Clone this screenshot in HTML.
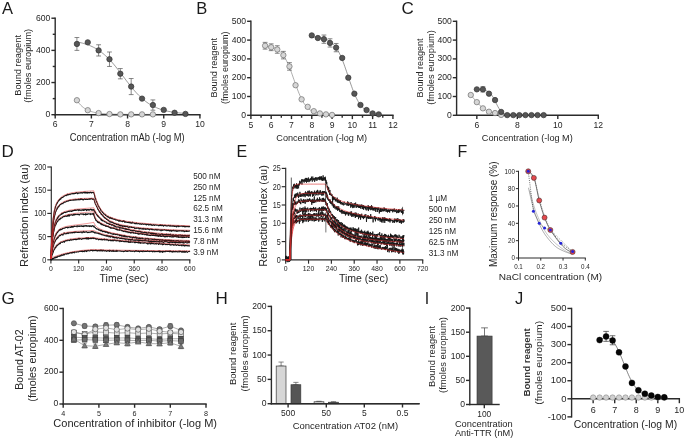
<!DOCTYPE html>
<html><head><meta charset="utf-8"><style>
html,body{margin:0;padding:0;background:#fff;width:685px;height:441px;overflow:hidden}
svg{display:block;font-family:"Liberation Sans", sans-serif;filter:blur(0.3px)}
</style></head><body>
<svg width="685" height="441" viewBox="0 0 685 441">
<rect width="685" height="441" fill="#fff"/>
<text x="2" y="13.6" font-size="16.5" text-anchor="start" fill="#1a1a1a">A</text>
<line x1="55.2" y1="17.52" x2="55.2" y2="115.4" stroke="#2b2b2b" stroke-width="1.4"/>
<line x1="51.4" y1="114.7" x2="55.2" y2="114.7" stroke="#2b2b2b" stroke-width="1.4"/>
<text x="50.4" y="117.28" font-size="8.6" text-anchor="end" fill="#262626">0</text>
<line x1="51.4" y1="82.54" x2="55.2" y2="82.54" stroke="#2b2b2b" stroke-width="1.4"/>
<text x="50.4" y="85.12" font-size="8.6" text-anchor="end" fill="#262626">200</text>
<line x1="51.4" y1="50.38" x2="55.2" y2="50.38" stroke="#2b2b2b" stroke-width="1.4"/>
<text x="50.4" y="52.96" font-size="8.6" text-anchor="end" fill="#262626">400</text>
<line x1="51.4" y1="18.22" x2="55.2" y2="18.22" stroke="#2b2b2b" stroke-width="1.4"/>
<text x="50.4" y="20.8" font-size="8.6" text-anchor="end" fill="#262626">600</text>
<line x1="52.73" y1="98.62" x2="55.2" y2="98.62" stroke="#2b2b2b" stroke-width="1.4"/>
<line x1="52.73" y1="66.46" x2="55.2" y2="66.46" stroke="#2b2b2b" stroke-width="1.4"/>
<line x1="52.73" y1="34.3" x2="55.2" y2="34.3" stroke="#2b2b2b" stroke-width="1.4"/>
<line x1="54.5" y1="114.7" x2="200.62" y2="114.7" stroke="#2b2b2b" stroke-width="1.4"/>
<line x1="55.2" y1="114.7" x2="55.2" y2="118.5" stroke="#2b2b2b" stroke-width="1.4"/>
<text x="55.2" y="127.2" font-size="8.6" text-anchor="middle" fill="#262626">6</text>
<line x1="91.38" y1="114.7" x2="91.38" y2="118.5" stroke="#2b2b2b" stroke-width="1.4"/>
<text x="91.38" y="127.2" font-size="8.6" text-anchor="middle" fill="#262626">7</text>
<line x1="127.56" y1="114.7" x2="127.56" y2="118.5" stroke="#2b2b2b" stroke-width="1.4"/>
<text x="127.56" y="127.2" font-size="8.6" text-anchor="middle" fill="#262626">8</text>
<line x1="163.74" y1="114.7" x2="163.74" y2="118.5" stroke="#2b2b2b" stroke-width="1.4"/>
<text x="163.74" y="127.2" font-size="8.6" text-anchor="middle" fill="#262626">9</text>
<line x1="199.92" y1="114.7" x2="199.92" y2="118.5" stroke="#2b2b2b" stroke-width="1.4"/>
<text x="199.92" y="127.2" font-size="8.6" text-anchor="middle" fill="#262626">10</text>
<text x="127.3" y="140.6" font-size="10.2" text-anchor="middle" fill="#262626" textLength="114.9" lengthAdjust="spacingAndGlyphs">Concentration mAb (-log M)</text>
<text x="21" y="65.4" font-size="8.8" text-anchor="middle" fill="#262626" textLength="60.7" lengthAdjust="spacingAndGlyphs" transform="rotate(-90 21 65.4)">Bound reagent</text>
<text x="31" y="65.8" font-size="8.8" text-anchor="middle" fill="#262626" textLength="73.8" lengthAdjust="spacingAndGlyphs" transform="rotate(-90 31 65.8)">(fmoles europium)</text>
<polyline points="76.91,100.23 78.2,102.12 79.48,103.77 80.77,105.19 82.06,106.42 83.35,107.49 84.63,108.41 85.92,109.21 87.21,109.91 88.5,110.51 89.79,111.03 91.07,111.48 92.36,111.87 93.65,112.21 94.94,112.51 96.22,112.76 97.51,112.98 98.8,113.17 100.09,113.34 101.38,113.48 102.66,113.61 103.95,113.72 105.24,113.81 106.53,113.89 107.81,113.96 109.1,114.02 110.39,114.07 111.68,114.12 112.97,114.16 114.25,114.19 115.54,114.22 116.83,114.25 118.12,114.27 119.4,114.29 120.69,114.31 121.98,114.32 123.27,114.33 124.56,114.34 125.84,114.35 127.13,114.36 128.42,114.37 129.71,114.37 130.99,114.38 132.28,114.38 133.57,114.39 134.86,114.39 136.15,114.39 137.43,114.4 138.72,114.4 140.01,114.4 141.3,114.4 142.58,114.4 143.87,114.41 145.16,114.41 146.45,114.41 147.73,114.41 149.02,114.41 150.31,114.41 151.6,114.41 152.89,114.41" fill="none" stroke="#777" stroke-width="0.6" stroke-linejoin="round"/>
<polyline points="76.91,41.92 78.28,42.18 79.66,42.47 81.03,42.78 82.4,43.12 83.78,43.5 85.15,43.91 86.53,44.35 87.9,44.83 89.27,45.36 90.65,45.93 92.02,46.55 93.4,47.21 94.77,47.94 96.14,48.71 97.52,49.55 98.89,50.44 100.26,51.4 101.64,52.43 103.01,53.52 104.39,54.68 105.76,55.91 107.13,57.2 108.51,58.57 109.88,60 111.26,61.49 112.63,63.04 114,64.65 115.38,66.31 116.75,68.02 118.13,69.76 119.5,71.54 120.87,73.34 122.25,75.16 123.62,76.99 125,78.81 126.37,80.63 127.74,82.42 129.12,84.19 130.49,85.93 131.86,87.63 133.24,89.28 134.61,90.88 135.99,92.42 137.36,93.89 138.73,95.31 140.11,96.66 141.48,97.94 142.86,99.15 144.23,100.29 145.6,101.37 146.98,102.38 148.35,103.33 149.73,104.21 151.1,105.03 152.47,105.79 153.85,106.5 155.22,107.16 156.6,107.76 157.97,108.32 159.34,108.84 160.72,109.31 162.09,109.75 163.47,110.15 164.84,110.52 166.21,110.85 167.59,111.16 168.96,111.44 170.33,111.7 171.71,111.94 173.08,112.15 174.46,112.35 175.83,112.53 177.2,112.69 178.58,112.84 179.95,112.97 181.33,113.1 182.7,113.21 184.07,113.31 185.45,113.4" fill="none" stroke="#555" stroke-width="0.6" stroke-linejoin="round"/>
<line x1="76.91" y1="37.52" x2="76.91" y2="50.38" stroke="#555" stroke-width="0.7"/>
<line x1="74.51" y1="37.52" x2="79.31" y2="37.52" stroke="#555" stroke-width="0.7"/>
<line x1="74.51" y1="50.38" x2="79.31" y2="50.38" stroke="#555" stroke-width="0.7"/>
<line x1="98.62" y1="44.75" x2="98.62" y2="56.01" stroke="#555" stroke-width="0.7"/>
<line x1="96.22" y1="44.75" x2="101.02" y2="44.75" stroke="#555" stroke-width="0.7"/>
<line x1="96.22" y1="56.01" x2="101.02" y2="56.01" stroke="#555" stroke-width="0.7"/>
<line x1="109.47" y1="51.99" x2="109.47" y2="66.46" stroke="#555" stroke-width="0.7"/>
<line x1="107.07" y1="51.99" x2="111.87" y2="51.99" stroke="#555" stroke-width="0.7"/>
<line x1="107.07" y1="66.46" x2="111.87" y2="66.46" stroke="#555" stroke-width="0.7"/>
<line x1="120.32" y1="68.55" x2="120.32" y2="78.84" stroke="#555" stroke-width="0.7"/>
<line x1="117.92" y1="68.55" x2="122.72" y2="68.55" stroke="#555" stroke-width="0.7"/>
<line x1="117.92" y1="78.84" x2="122.72" y2="78.84" stroke="#555" stroke-width="0.7"/>
<line x1="131.18" y1="78.52" x2="131.18" y2="94.6" stroke="#555" stroke-width="0.7"/>
<line x1="128.78" y1="78.52" x2="133.58" y2="78.52" stroke="#555" stroke-width="0.7"/>
<line x1="128.78" y1="94.6" x2="133.58" y2="94.6" stroke="#555" stroke-width="0.7"/>
<line x1="152.89" y1="99.91" x2="152.89" y2="110.2" stroke="#555" stroke-width="0.7"/>
<line x1="150.49" y1="99.91" x2="155.29" y2="99.91" stroke="#555" stroke-width="0.7"/>
<line x1="150.49" y1="110.2" x2="155.29" y2="110.2" stroke="#555" stroke-width="0.7"/>
<circle cx="76.91" cy="100.23" r="2.7" fill="#d6d6d6" stroke="#6e6e6e" stroke-width="0.7"/>
<circle cx="87.76" cy="110.2" r="2.7" fill="#d6d6d6" stroke="#6e6e6e" stroke-width="0.7"/>
<circle cx="98.62" cy="113.09" r="2.7" fill="#d6d6d6" stroke="#6e6e6e" stroke-width="0.7"/>
<circle cx="109.47" cy="114.06" r="2.7" fill="#d6d6d6" stroke="#6e6e6e" stroke-width="0.7"/>
<circle cx="120.32" cy="114.38" r="2.7" fill="#d6d6d6" stroke="#6e6e6e" stroke-width="0.7"/>
<circle cx="131.18" cy="114.38" r="2.7" fill="#d6d6d6" stroke="#6e6e6e" stroke-width="0.7"/>
<circle cx="142.03" cy="114.38" r="2.7" fill="#d6d6d6" stroke="#6e6e6e" stroke-width="0.7"/>
<circle cx="152.89" cy="114.38" r="2.7" fill="#d6d6d6" stroke="#6e6e6e" stroke-width="0.7"/>
<circle cx="76.91" cy="43.95" r="2.7" fill="#565656" stroke="#333333" stroke-width="0.7"/>
<circle cx="87.76" cy="42.34" r="2.7" fill="#565656" stroke="#333333" stroke-width="0.7"/>
<circle cx="98.62" cy="50.38" r="2.7" fill="#565656" stroke="#333333" stroke-width="0.7"/>
<circle cx="109.47" cy="59.22" r="2.7" fill="#565656" stroke="#333333" stroke-width="0.7"/>
<circle cx="120.32" cy="73.7" r="2.7" fill="#565656" stroke="#333333" stroke-width="0.7"/>
<circle cx="131.18" cy="86.56" r="2.7" fill="#565656" stroke="#333333" stroke-width="0.7"/>
<circle cx="142.03" cy="98.62" r="2.7" fill="#565656" stroke="#333333" stroke-width="0.7"/>
<circle cx="152.89" cy="105.05" r="2.7" fill="#565656" stroke="#333333" stroke-width="0.7"/>
<circle cx="163.74" cy="109.88" r="2.7" fill="#565656" stroke="#333333" stroke-width="0.7"/>
<circle cx="174.59" cy="112.77" r="2.7" fill="#565656" stroke="#333333" stroke-width="0.7"/>
<circle cx="185.45" cy="113.9" r="2.7" fill="#565656" stroke="#333333" stroke-width="0.7"/>
<text x="196.3" y="13.6" font-size="16.5" text-anchor="start" fill="#1a1a1a">B</text>
<line x1="250.9" y1="20.6" x2="250.9" y2="116" stroke="#2b2b2b" stroke-width="1.4"/>
<line x1="247.1" y1="115.3" x2="250.9" y2="115.3" stroke="#2b2b2b" stroke-width="1.4"/>
<text x="246.1" y="117.88" font-size="8.6" text-anchor="end" fill="#262626">0</text>
<line x1="247.1" y1="96.5" x2="250.9" y2="96.5" stroke="#2b2b2b" stroke-width="1.4"/>
<text x="246.1" y="99.08" font-size="8.6" text-anchor="end" fill="#262626">100</text>
<line x1="247.1" y1="77.7" x2="250.9" y2="77.7" stroke="#2b2b2b" stroke-width="1.4"/>
<text x="246.1" y="80.28" font-size="8.6" text-anchor="end" fill="#262626">200</text>
<line x1="247.1" y1="58.9" x2="250.9" y2="58.9" stroke="#2b2b2b" stroke-width="1.4"/>
<text x="246.1" y="61.48" font-size="8.6" text-anchor="end" fill="#262626">300</text>
<line x1="247.1" y1="40.1" x2="250.9" y2="40.1" stroke="#2b2b2b" stroke-width="1.4"/>
<text x="246.1" y="42.68" font-size="8.6" text-anchor="end" fill="#262626">400</text>
<line x1="247.1" y1="21.3" x2="250.9" y2="21.3" stroke="#2b2b2b" stroke-width="1.4"/>
<text x="246.1" y="23.88" font-size="8.6" text-anchor="end" fill="#262626">500</text>
<line x1="250.2" y1="115.3" x2="393.63" y2="115.3" stroke="#2b2b2b" stroke-width="1.4"/>
<line x1="250.9" y1="115.3" x2="250.9" y2="119.1" stroke="#2b2b2b" stroke-width="1.4"/>
<text x="250.9" y="127.5" font-size="8.6" text-anchor="middle" fill="#262626">5</text>
<line x1="271.19" y1="115.3" x2="271.19" y2="119.1" stroke="#2b2b2b" stroke-width="1.4"/>
<text x="271.19" y="127.5" font-size="8.6" text-anchor="middle" fill="#262626">6</text>
<line x1="291.48" y1="115.3" x2="291.48" y2="119.1" stroke="#2b2b2b" stroke-width="1.4"/>
<text x="291.48" y="127.5" font-size="8.6" text-anchor="middle" fill="#262626">7</text>
<line x1="311.77" y1="115.3" x2="311.77" y2="119.1" stroke="#2b2b2b" stroke-width="1.4"/>
<text x="311.77" y="127.5" font-size="8.6" text-anchor="middle" fill="#262626">8</text>
<line x1="332.06" y1="115.3" x2="332.06" y2="119.1" stroke="#2b2b2b" stroke-width="1.4"/>
<text x="332.06" y="127.5" font-size="8.6" text-anchor="middle" fill="#262626">9</text>
<line x1="352.35" y1="115.3" x2="352.35" y2="119.1" stroke="#2b2b2b" stroke-width="1.4"/>
<text x="352.35" y="127.5" font-size="8.6" text-anchor="middle" fill="#262626">10</text>
<line x1="372.64" y1="115.3" x2="372.64" y2="119.1" stroke="#2b2b2b" stroke-width="1.4"/>
<text x="372.64" y="127.5" font-size="8.6" text-anchor="middle" fill="#262626">11</text>
<line x1="392.93" y1="115.3" x2="392.93" y2="119.1" stroke="#2b2b2b" stroke-width="1.4"/>
<text x="392.93" y="127.5" font-size="8.6" text-anchor="middle" fill="#262626">12</text>
<line x1="261.05" y1="115.3" x2="261.05" y2="117.77" stroke="#2b2b2b" stroke-width="1.4"/>
<line x1="281.33" y1="115.3" x2="281.33" y2="117.77" stroke="#2b2b2b" stroke-width="1.4"/>
<line x1="301.62" y1="115.3" x2="301.62" y2="117.77" stroke="#2b2b2b" stroke-width="1.4"/>
<line x1="321.92" y1="115.3" x2="321.92" y2="117.77" stroke="#2b2b2b" stroke-width="1.4"/>
<line x1="342.2" y1="115.3" x2="342.2" y2="117.77" stroke="#2b2b2b" stroke-width="1.4"/>
<line x1="362.5" y1="115.3" x2="362.5" y2="117.77" stroke="#2b2b2b" stroke-width="1.4"/>
<line x1="382.78" y1="115.3" x2="382.78" y2="117.77" stroke="#2b2b2b" stroke-width="1.4"/>
<text x="321.7" y="140.8" font-size="9.1" text-anchor="middle" fill="#262626" textLength="90.8" lengthAdjust="spacingAndGlyphs">Concentration (-log M)</text>
<text x="217.4" y="67.75" font-size="8.8" text-anchor="middle" fill="#262626" textLength="59.5" lengthAdjust="spacingAndGlyphs" transform="rotate(-90 217.4 67.75)">Bound reagent</text>
<text x="227.6" y="67.85" font-size="8.8" text-anchor="middle" fill="#262626" textLength="72.5" lengthAdjust="spacingAndGlyphs" transform="rotate(-90 227.6 67.85)">(fmoles europium)</text>
<polyline points="265.1,45.9 265.95,45.98 266.8,46.08 267.65,46.19 268.49,46.31 269.34,46.46 270.19,46.63 271.04,46.82 271.88,47.03 272.73,47.28 273.58,47.57 274.43,47.89 275.27,48.26 276.12,48.68 276.97,49.16 277.82,49.7 278.66,50.32 279.51,51.01 280.36,51.78 281.21,52.66 282.05,53.63 282.9,54.71 283.75,55.91 284.6,57.24 285.44,58.69 286.29,60.27 287.14,61.98 287.99,63.83 288.83,65.79 289.68,67.88 290.53,70.06 291.38,72.34 292.22,74.68 293.07,77.08 293.92,79.5 294.77,81.93 295.62,84.33 296.46,86.7 297.31,88.99 298.16,91.21 299.01,93.32 299.85,95.32 300.7,97.19 301.55,98.94 302.4,100.56 303.24,102.05 304.09,103.41 304.94,104.64 305.79,105.75 306.63,106.76 307.48,107.66 308.33,108.46 309.18,109.17 310.02,109.81 310.87,110.37 311.72,110.86 312.57,111.3 313.41,111.68 314.26,112.02 315.11,112.31 315.96,112.57 316.8,112.8 317.65,112.99 318.5,113.17 319.35,113.32 320.19,113.45 321.04,113.56 321.89,113.66 322.74,113.75 323.58,113.83 324.43,113.89 325.28,113.95 326.13,114 326.97,114.04 327.82,114.08 328.67,114.11 329.52,114.14 330.36,114.17 331.21,114.19 332.06,114.21" fill="none" stroke="#777" stroke-width="0.6" stroke-linejoin="round"/>
<polyline points="311.77,37.1 312.62,37.14 313.47,37.18 314.31,37.24 315.16,37.3 316.01,37.37 316.86,37.44 317.7,37.53 318.55,37.63 319.4,37.75 320.25,37.88 321.09,38.03 321.94,38.19 322.79,38.38 323.64,38.6 324.48,38.84 325.33,39.12 326.18,39.43 327.03,39.78 327.87,40.18 328.72,40.63 329.57,41.13 330.42,41.7 331.26,42.33 332.11,43.04 332.96,43.83 333.81,44.71 334.65,45.69 335.5,46.77 336.35,47.96 337.2,49.27 338.04,50.69 338.89,52.25 339.74,53.92 340.59,55.73 341.43,57.66 342.28,59.72 343.13,61.88 343.98,64.15 344.82,66.51 345.67,68.95 346.52,71.44 347.37,73.97 348.21,76.51 349.06,79.05 349.91,81.56 350.76,84.03 351.61,86.42 352.45,88.74 353.3,90.96 354.15,93.07 355,95.06 355.84,96.93 356.69,98.67 357.54,100.28 358.39,101.77 359.23,103.13 360.08,104.38 360.93,105.51 361.78,106.54 362.62,107.46 363.47,108.29 364.32,109.04 365.17,109.71 366.01,110.31 366.86,110.84 367.71,111.32 368.56,111.74 369.4,112.11 370.25,112.44 371.1,112.74 371.95,113 372.79,113.22 373.64,113.43 374.49,113.6 375.34,113.76 376.18,113.9 377.03,114.02 377.88,114.13 378.73,114.22" fill="none" stroke="#555" stroke-width="0.6" stroke-linejoin="round"/>
<line x1="265.1" y1="42.36" x2="265.1" y2="49.12" stroke="#555" stroke-width="0.7"/>
<line x1="262.7" y1="42.36" x2="267.5" y2="42.36" stroke="#555" stroke-width="0.7"/>
<line x1="262.7" y1="49.12" x2="267.5" y2="49.12" stroke="#555" stroke-width="0.7"/>
<line x1="271.19" y1="43.86" x2="271.19" y2="50.63" stroke="#555" stroke-width="0.7"/>
<line x1="268.79" y1="43.86" x2="273.59" y2="43.86" stroke="#555" stroke-width="0.7"/>
<line x1="268.79" y1="50.63" x2="273.59" y2="50.63" stroke="#555" stroke-width="0.7"/>
<line x1="277.28" y1="45.74" x2="277.28" y2="53.26" stroke="#555" stroke-width="0.7"/>
<line x1="274.88" y1="45.74" x2="279.68" y2="45.74" stroke="#555" stroke-width="0.7"/>
<line x1="274.88" y1="53.26" x2="279.68" y2="53.26" stroke="#555" stroke-width="0.7"/>
<line x1="283.36" y1="51.38" x2="283.36" y2="58.9" stroke="#555" stroke-width="0.7"/>
<line x1="280.96" y1="51.38" x2="285.76" y2="51.38" stroke="#555" stroke-width="0.7"/>
<line x1="280.96" y1="58.9" x2="285.76" y2="58.9" stroke="#555" stroke-width="0.7"/>
<line x1="289.45" y1="62.66" x2="289.45" y2="70.18" stroke="#555" stroke-width="0.7"/>
<line x1="287.05" y1="62.66" x2="291.85" y2="62.66" stroke="#555" stroke-width="0.7"/>
<line x1="287.05" y1="70.18" x2="291.85" y2="70.18" stroke="#555" stroke-width="0.7"/>
<line x1="323.94" y1="35.02" x2="323.94" y2="43.3" stroke="#555" stroke-width="0.7"/>
<line x1="321.54" y1="35.02" x2="326.34" y2="35.02" stroke="#555" stroke-width="0.7"/>
<line x1="321.54" y1="43.3" x2="326.34" y2="43.3" stroke="#555" stroke-width="0.7"/>
<line x1="330.03" y1="38.78" x2="330.03" y2="47.06" stroke="#555" stroke-width="0.7"/>
<line x1="327.63" y1="38.78" x2="332.43" y2="38.78" stroke="#555" stroke-width="0.7"/>
<line x1="327.63" y1="47.06" x2="332.43" y2="47.06" stroke="#555" stroke-width="0.7"/>
<line x1="336.12" y1="43.48" x2="336.12" y2="51.76" stroke="#555" stroke-width="0.7"/>
<line x1="333.72" y1="43.48" x2="338.52" y2="43.48" stroke="#555" stroke-width="0.7"/>
<line x1="333.72" y1="51.76" x2="338.52" y2="51.76" stroke="#555" stroke-width="0.7"/>
<circle cx="265.1" cy="45.74" r="2.7" fill="#d6d6d6" stroke="#6e6e6e" stroke-width="0.7"/>
<circle cx="271.19" cy="47.24" r="2.7" fill="#d6d6d6" stroke="#6e6e6e" stroke-width="0.7"/>
<circle cx="277.28" cy="49.5" r="2.7" fill="#d6d6d6" stroke="#6e6e6e" stroke-width="0.7"/>
<circle cx="283.36" cy="55.14" r="2.7" fill="#d6d6d6" stroke="#6e6e6e" stroke-width="0.7"/>
<circle cx="289.45" cy="66.42" r="2.7" fill="#d6d6d6" stroke="#6e6e6e" stroke-width="0.7"/>
<circle cx="295.54" cy="85.22" r="2.7" fill="#d6d6d6" stroke="#6e6e6e" stroke-width="0.7"/>
<circle cx="301.62" cy="99.32" r="2.7" fill="#d6d6d6" stroke="#6e6e6e" stroke-width="0.7"/>
<circle cx="307.71" cy="106.84" r="2.7" fill="#d6d6d6" stroke="#6e6e6e" stroke-width="0.7"/>
<circle cx="313.8" cy="111.16" r="2.7" fill="#d6d6d6" stroke="#6e6e6e" stroke-width="0.7"/>
<circle cx="319.89" cy="113.42" r="2.7" fill="#d6d6d6" stroke="#6e6e6e" stroke-width="0.7"/>
<circle cx="325.97" cy="114.36" r="2.7" fill="#d6d6d6" stroke="#6e6e6e" stroke-width="0.7"/>
<circle cx="332.06" cy="114.92" r="2.7" fill="#d6d6d6" stroke="#6e6e6e" stroke-width="0.7"/>
<circle cx="311.77" cy="35.4" r="2.7" fill="#565656" stroke="#333333" stroke-width="0.7"/>
<circle cx="317.86" cy="38.03" r="2.7" fill="#565656" stroke="#333333" stroke-width="0.7"/>
<circle cx="323.94" cy="39.16" r="2.7" fill="#565656" stroke="#333333" stroke-width="0.7"/>
<circle cx="330.03" cy="42.92" r="2.7" fill="#565656" stroke="#333333" stroke-width="0.7"/>
<circle cx="336.12" cy="47.62" r="2.7" fill="#565656" stroke="#333333" stroke-width="0.7"/>
<circle cx="342.2" cy="57.96" r="2.7" fill="#565656" stroke="#333333" stroke-width="0.7"/>
<circle cx="348.29" cy="77.7" r="2.7" fill="#565656" stroke="#333333" stroke-width="0.7"/>
<circle cx="354.38" cy="93.68" r="2.7" fill="#565656" stroke="#333333" stroke-width="0.7"/>
<circle cx="360.47" cy="104.96" r="2.7" fill="#565656" stroke="#333333" stroke-width="0.7"/>
<circle cx="366.55" cy="110.04" r="2.7" fill="#565656" stroke="#333333" stroke-width="0.7"/>
<circle cx="372.64" cy="113.42" r="2.7" fill="#565656" stroke="#333333" stroke-width="0.7"/>
<circle cx="378.73" cy="114.36" r="2.7" fill="#565656" stroke="#333333" stroke-width="0.7"/>
<text x="401.6" y="13.6" font-size="17" text-anchor="start" fill="#1a1a1a">C</text>
<line x1="456.6" y1="20.6" x2="456.6" y2="116" stroke="#2b2b2b" stroke-width="1.4"/>
<line x1="452.8" y1="115.3" x2="456.6" y2="115.3" stroke="#2b2b2b" stroke-width="1.4"/>
<text x="451.8" y="117.88" font-size="8.6" text-anchor="end" fill="#262626">0</text>
<line x1="452.8" y1="96.5" x2="456.6" y2="96.5" stroke="#2b2b2b" stroke-width="1.4"/>
<text x="451.8" y="99.08" font-size="8.6" text-anchor="end" fill="#262626">100</text>
<line x1="452.8" y1="77.7" x2="456.6" y2="77.7" stroke="#2b2b2b" stroke-width="1.4"/>
<text x="451.8" y="80.28" font-size="8.6" text-anchor="end" fill="#262626">200</text>
<line x1="452.8" y1="58.9" x2="456.6" y2="58.9" stroke="#2b2b2b" stroke-width="1.4"/>
<text x="451.8" y="61.48" font-size="8.6" text-anchor="end" fill="#262626">300</text>
<line x1="452.8" y1="40.1" x2="456.6" y2="40.1" stroke="#2b2b2b" stroke-width="1.4"/>
<text x="451.8" y="42.68" font-size="8.6" text-anchor="end" fill="#262626">400</text>
<line x1="452.8" y1="21.3" x2="456.6" y2="21.3" stroke="#2b2b2b" stroke-width="1.4"/>
<text x="451.8" y="23.88" font-size="8.6" text-anchor="end" fill="#262626">500</text>
<line x1="455.9" y1="115.3" x2="598.98" y2="115.3" stroke="#2b2b2b" stroke-width="1.4"/>
<line x1="476.84" y1="115.3" x2="476.84" y2="119.1" stroke="#2b2b2b" stroke-width="1.4"/>
<text x="476.84" y="127.5" font-size="8.6" text-anchor="middle" fill="#262626">6</text>
<line x1="517.32" y1="115.3" x2="517.32" y2="119.1" stroke="#2b2b2b" stroke-width="1.4"/>
<text x="517.32" y="127.5" font-size="8.6" text-anchor="middle" fill="#262626">8</text>
<line x1="557.8" y1="115.3" x2="557.8" y2="119.1" stroke="#2b2b2b" stroke-width="1.4"/>
<text x="557.8" y="127.5" font-size="8.6" text-anchor="middle" fill="#262626">10</text>
<line x1="598.28" y1="115.3" x2="598.28" y2="119.1" stroke="#2b2b2b" stroke-width="1.4"/>
<text x="598.28" y="127.5" font-size="8.6" text-anchor="middle" fill="#262626">12</text>
<text x="527.3" y="140.8" font-size="9.1" text-anchor="middle" fill="#262626" textLength="90.9" lengthAdjust="spacingAndGlyphs">Concentration (-log M)</text>
<text x="422.9" y="67.9" font-size="8.8" text-anchor="middle" fill="#262626" textLength="59" lengthAdjust="spacingAndGlyphs" transform="rotate(-90 422.9 67.9)">Bound reagent</text>
<text x="433.6" y="67.4" font-size="8.8" text-anchor="middle" fill="#262626" textLength="74.6" lengthAdjust="spacingAndGlyphs" transform="rotate(-90 433.6 67.4)">(fmoles europium)</text>
<polyline points="470.77,95 476.84,102.14 482.91,108.34 488.98,111.73 495.06,113.04 501.13,114.92" fill="none" stroke="#777" stroke-width="0.6" stroke-linejoin="round"/>
<polyline points="476.84,89.62 477.69,89.64 478.53,89.67 479.38,89.7 480.22,89.75 481.07,89.8 481.91,89.88 482.76,89.97 483.6,90.1 484.45,90.26 485.29,90.46 486.14,90.73 486.99,91.07 487.83,91.49 488.68,92.03 489.52,92.69 490.37,93.5 491.21,94.48 492.06,95.63 492.9,96.96 493.75,98.44 494.59,100.05 495.44,101.74 496.29,103.45 497.13,105.13 497.98,106.72 498.82,108.17 499.67,109.46 500.51,110.57 501.36,111.51 502.2,112.29 503.05,112.92 503.89,113.43 504.74,113.84 505.59,114.16 506.43,114.41 507.28,114.6 508.12,114.76 508.97,114.87 509.81,114.96 510.66,115.03 511.5,115.09 512.35,115.13 513.2,115.16 514.04,115.19 514.89,115.2 515.73,115.22 516.58,115.23 517.42,115.24 518.27,115.24 519.11,115.25 519.96,115.25 520.8,115.26 521.65,115.26 522.5,115.26 523.34,115.26 524.19,115.26 525.03,115.26 525.88,115.26 526.72,115.26 527.57,115.26 528.41,115.26 529.26,115.26 530.1,115.26 530.95,115.26 531.8,115.26 532.64,115.26 533.49,115.26 534.33,115.26 535.18,115.26 536.02,115.26 536.87,115.26 537.71,115.26 538.56,115.26 539.4,115.26 540.25,115.26 541.1,115.26 541.94,115.26 542.79,115.26 543.63,115.26" fill="none" stroke="#555" stroke-width="0.6" stroke-linejoin="round"/>
<line x1="482.91" y1="86.72" x2="482.91" y2="91.99" stroke="#555" stroke-width="0.7"/>
<line x1="480.51" y1="86.72" x2="485.31" y2="86.72" stroke="#555" stroke-width="0.7"/>
<line x1="480.51" y1="91.99" x2="485.31" y2="91.99" stroke="#555" stroke-width="0.7"/>
<circle cx="470.77" cy="95" r="2.7" fill="#d6d6d6" stroke="#6e6e6e" stroke-width="0.7"/>
<circle cx="476.84" cy="102.14" r="2.7" fill="#d6d6d6" stroke="#6e6e6e" stroke-width="0.7"/>
<circle cx="482.91" cy="108.34" r="2.7" fill="#d6d6d6" stroke="#6e6e6e" stroke-width="0.7"/>
<circle cx="488.98" cy="111.73" r="2.7" fill="#d6d6d6" stroke="#6e6e6e" stroke-width="0.7"/>
<circle cx="495.06" cy="113.04" r="2.7" fill="#d6d6d6" stroke="#6e6e6e" stroke-width="0.7"/>
<circle cx="501.13" cy="114.92" r="2.7" fill="#d6d6d6" stroke="#6e6e6e" stroke-width="0.7"/>
<circle cx="476.84" cy="89.36" r="2.7" fill="#565656" stroke="#333333" stroke-width="0.7"/>
<circle cx="482.91" cy="89.36" r="2.7" fill="#565656" stroke="#333333" stroke-width="0.7"/>
<circle cx="488.98" cy="93.68" r="2.7" fill="#565656" stroke="#333333" stroke-width="0.7"/>
<circle cx="495.06" cy="100.07" r="2.7" fill="#565656" stroke="#333333" stroke-width="0.7"/>
<circle cx="501.13" cy="111.92" r="2.7" fill="#565656" stroke="#333333" stroke-width="0.7"/>
<circle cx="507.2" cy="115.11" r="2.7" fill="#565656" stroke="#333333" stroke-width="0.7"/>
<circle cx="513.27" cy="115.11" r="2.7" fill="#565656" stroke="#333333" stroke-width="0.7"/>
<circle cx="519.34" cy="115.11" r="2.7" fill="#565656" stroke="#333333" stroke-width="0.7"/>
<circle cx="525.42" cy="115.11" r="2.7" fill="#565656" stroke="#333333" stroke-width="0.7"/>
<circle cx="531.49" cy="115.11" r="2.7" fill="#565656" stroke="#333333" stroke-width="0.7"/>
<circle cx="537.56" cy="115.11" r="2.7" fill="#565656" stroke="#333333" stroke-width="0.7"/>
<circle cx="543.63" cy="115.11" r="2.7" fill="#565656" stroke="#333333" stroke-width="0.7"/>
<text x="1.6" y="156.8" font-size="17" text-anchor="start" fill="#1a1a1a">D</text>
<line x1="51.3" y1="166.43" x2="51.3" y2="260.38" stroke="#2b2b2b" stroke-width="1.15"/>
<line x1="47.3" y1="259.8" x2="51.3" y2="259.8" stroke="#2b2b2b" stroke-width="1.15"/>
<text x="46.3" y="262.75" font-size="8.2" text-anchor="end" fill="#262626" textLength="4.01" lengthAdjust="spacingAndGlyphs">0</text>
<line x1="47.3" y1="236.6" x2="51.3" y2="236.6" stroke="#2b2b2b" stroke-width="1.15"/>
<text x="46.3" y="239.55" font-size="8.2" text-anchor="end" fill="#262626" textLength="8.03" lengthAdjust="spacingAndGlyphs">50</text>
<line x1="47.3" y1="213.4" x2="51.3" y2="213.4" stroke="#2b2b2b" stroke-width="1.15"/>
<text x="46.3" y="216.35" font-size="8.2" text-anchor="end" fill="#262626" textLength="12.04" lengthAdjust="spacingAndGlyphs">100</text>
<line x1="47.3" y1="190.2" x2="51.3" y2="190.2" stroke="#2b2b2b" stroke-width="1.15"/>
<text x="46.3" y="193.15" font-size="8.2" text-anchor="end" fill="#262626" textLength="12.04" lengthAdjust="spacingAndGlyphs">150</text>
<line x1="47.3" y1="167" x2="51.3" y2="167" stroke="#2b2b2b" stroke-width="1.15"/>
<text x="46.3" y="169.95" font-size="8.2" text-anchor="end" fill="#262626" textLength="12.04" lengthAdjust="spacingAndGlyphs">200</text>
<line x1="50.82" y1="259.8" x2="190.38" y2="259.8" stroke="#2b2b2b" stroke-width="1.15"/>
<line x1="50.9" y1="259.8" x2="50.9" y2="263.6" stroke="#2b2b2b" stroke-width="1.15"/>
<text x="50.9" y="271.2" font-size="7.4" text-anchor="middle" fill="#262626" textLength="3.83" lengthAdjust="spacingAndGlyphs">0</text>
<line x1="78.68" y1="259.8" x2="78.68" y2="263.6" stroke="#2b2b2b" stroke-width="1.15"/>
<text x="78.68" y="271.2" font-size="7.4" text-anchor="middle" fill="#262626" textLength="11.48" lengthAdjust="spacingAndGlyphs">120</text>
<line x1="106.46" y1="259.8" x2="106.46" y2="263.6" stroke="#2b2b2b" stroke-width="1.15"/>
<text x="106.46" y="271.2" font-size="7.4" text-anchor="middle" fill="#262626" textLength="11.48" lengthAdjust="spacingAndGlyphs">240</text>
<line x1="134.24" y1="259.8" x2="134.24" y2="263.6" stroke="#2b2b2b" stroke-width="1.15"/>
<text x="134.24" y="271.2" font-size="7.4" text-anchor="middle" fill="#262626" textLength="11.48" lengthAdjust="spacingAndGlyphs">360</text>
<line x1="162.02" y1="259.8" x2="162.02" y2="263.6" stroke="#2b2b2b" stroke-width="1.15"/>
<text x="162.02" y="271.2" font-size="7.4" text-anchor="middle" fill="#262626" textLength="11.48" lengthAdjust="spacingAndGlyphs">480</text>
<line x1="189.8" y1="259.8" x2="189.8" y2="263.6" stroke="#2b2b2b" stroke-width="1.15"/>
<text x="189.8" y="271.2" font-size="7.4" text-anchor="middle" fill="#262626" textLength="11.48" lengthAdjust="spacingAndGlyphs">600</text>
<text x="124.1" y="282.1" font-size="10.5" text-anchor="middle" fill="#262626" textLength="49" lengthAdjust="spacingAndGlyphs">Time (sec)</text>
<text x="27.9" y="215.4" font-size="11.0" text-anchor="middle" fill="#262626" textLength="103" lengthAdjust="spacingAndGlyphs" transform="rotate(-90 27.9 215.4)">Refraction index (au)</text>
<text x="193.2" y="178.7" font-size="8.2" text-anchor="start" fill="#262626">500 nM</text>
<text x="193.2" y="189.6" font-size="8.2" text-anchor="start" fill="#262626">250 nM</text>
<text x="193.2" y="200.5" font-size="8.2" text-anchor="start" fill="#262626">125 nM</text>
<text x="193.2" y="211.4" font-size="8.2" text-anchor="start" fill="#262626">62.5 nM</text>
<text x="193.2" y="222.3" font-size="8.2" text-anchor="start" fill="#262626">31.3 nM</text>
<text x="193.2" y="233.2" font-size="8.2" text-anchor="start" fill="#262626">15.6 nM</text>
<text x="193.2" y="244.1" font-size="8.2" text-anchor="start" fill="#262626">7.8 nM</text>
<text x="193.2" y="255" font-size="8.2" text-anchor="start" fill="#262626">3.9 nM</text>
<polyline points="50.9,259.8 51.08,254.53 51.26,249.51 51.43,244.97 51.61,241.18 51.79,237.47 51.97,234.61 52.15,232.13 52.32,228.93 52.5,226.52 52.68,224.72 52.86,222.72 53.04,220.86 53.21,218.9 53.39,217.71 53.57,216.59 53.75,214.69 53.93,213.84 54.11,212.33 54.28,211.56 54.46,210.5 54.64,210.19 54.82,209.1 55,208.88 55.17,208.18 55.35,207.46 55.53,206.14 55.71,206.24 55.89,205.89 56.06,205.47 56.24,204.5 56.42,204.42 56.6,203.86 56.78,203.54 56.95,203.78 57.13,202.84 57.31,202.77 57.49,202.75 57.67,201.99 57.84,201.86 57.84,201.93 58.16,201.44 58.47,200.6 58.79,200.61 59.1,200.63 59.42,199.35 59.73,199.78 60.05,199.23 60.36,198.68 60.68,199.24 60.99,198.58 61.31,197.69 61.62,197.85 61.94,197.78 62.25,197.32 62.57,197.39 62.88,196.94 63.2,196.99 63.51,197.05 63.83,196.2 64.14,196.31 64.46,195.94 64.77,195.98 65.09,195.41 65.4,195.46 65.72,195.45 66.03,195.67 66.35,195.63 66.66,194.72 66.98,194.78 67.29,195.13 67.61,194.19 67.92,194.58 68.24,194.6 68.55,194.94 68.87,194.68 69.18,194.27 69.5,194.18 69.81,194.14 70.13,194.63 70.44,193.94 70.76,193.91 71.07,194.06 71.39,193.85 71.7,193.77 72.02,193.42 72.33,193.72 72.65,193.53 72.96,193.99 73.28,193.78 73.59,193.52 73.91,193.7 74.22,193.33 74.54,193.74 74.85,193.36 75.17,193.52 75.48,192.88 75.8,193.37 76.11,192.69 76.43,192.55 76.74,193.07 77.06,192.86 77.37,193.17 77.69,193.81 78,192.8 78.32,192.84 78.63,193.09 78.95,193.16 79.26,192.92 79.58,192.89 79.89,193.17 80.2,193.09 80.52,192.58 80.83,192.86 81.15,192.89 81.46,192.52 81.78,192.93 82.09,192.56 82.41,193.13 82.72,192.87 83.04,192.82 83.35,192.59 83.67,192.73 83.98,192.12 84.3,192.39 84.61,192.86 84.93,192.05 85.24,192.99 85.56,192.15 85.87,192.95 86.19,192.43 86.5,192.94 86.82,192.72 87.13,192.18 87.45,193.07 87.76,193.12 88.08,192.63 88.39,192.56 88.71,192.59 89.02,192.33 89.34,192.99 89.65,192.46 89.97,192.61 90.28,192.37 90.6,192.42 90.91,192.2 91.23,193.01 91.54,192.55 91.86,192.91 92.17,192.6 92.49,192.37 92.8,192.49 93.12,192.41 93.43,192.59 93.75,192.54 94.06,193.78 94.38,194.59 94.69,195.87 95.01,197.72 95.32,197.98 95.64,198.81 95.95,200.18 96.27,201.39 96.58,201.31 96.9,202.51 97.21,203.14 97.53,203.51 97.84,205 98.16,205.42 98.47,206.09 98.79,206.44 99.1,207.41 99.42,207.64 99.73,208.3 100.05,208.51 100.36,208.96 100.68,210.25 100.99,210.1 101.31,210.79 101.62,211.1 101.93,211.36 102.25,211.72 102.56,212.45 102.88,212.5 103.19,212.88 103.51,213.26 103.82,213.94 104.14,214.07 104.45,214.26 104.77,214.23 105.08,214.24 105.4,215.24 105.71,215.49 106.03,215.37 106.34,215.81 106.66,216.11 106.97,216.33 107.29,216.57 107.6,216.32 107.92,217.14 108.23,216.44 108.55,217.29 108.86,217.34 109.18,217.63 109.49,218.11 109.81,218.14 110.12,217.45 110.44,217.42 110.75,218.36 111.07,217.91 111.38,218.36 111.7,218.76 112.01,218.09 112.33,218.07 112.64,218.94 112.96,218.99 113.27,219.01 113.59,219.2 113.9,219.02 114.22,218.92 114.53,219.45 114.85,219.29 115.16,219.17 115.48,219.95 115.79,219.86 116.11,220.09 116.42,219.73 116.74,219.92 117.05,219.9 117.37,220.01 117.68,220.44 118,220.2 118.31,220.64 118.63,220.71 118.94,221.32 119.26,220.3 119.57,221.1 119.89,220.86 120.2,220.95 120.52,220.56 120.83,220.94 121.15,221.39 121.46,221.19 121.78,221.3 122.09,221.24 122.41,221.76 122.72,221.45 123.04,220.81 123.35,221.35 123.67,220.99 123.98,220.64 124.29,221.56 124.61,222.21 124.92,221.85 125.24,221.52 125.55,221.64 125.87,222.36 126.18,222.09 126.5,222.11 126.81,222.13 127.13,222.2 127.44,222.5 127.76,222.46 128.07,222.4 128.39,222.04 128.7,222.59 129.02,222.25 129.33,222.86 129.65,222.15 129.96,222.56 130.28,222.64 130.59,222.26 130.91,223.28 131.22,223.24 131.54,222.66 131.85,223.1 132.17,223.01 132.48,222.09 132.8,223.05 133.11,222.99 133.43,223.07 133.74,222.74 134.06,223.04 134.37,223.1 134.69,223.58 135,223.34 135.32,223.27 135.63,223.8 135.95,223.16 136.26,223.25 136.58,222.83 136.89,223.95 137.21,223.79 137.52,223.81 137.84,223.76 138.15,223.62 138.47,223.69 138.78,223.57 139.1,223.62 139.41,223.73 139.73,224.23 140.04,223.96 140.36,223.79 140.67,223.66 140.99,223.67 141.3,224.42 141.62,224.09 141.93,223.98 142.25,223.88 142.56,223.67 142.88,224.03 143.19,224.36 143.51,223.98 143.82,224.07 144.14,224.1 144.45,224.23 144.77,223.71 145.08,224.18 145.4,224.01 145.71,224.59 146.02,224.09 146.34,224.55 146.65,224.88 146.97,224.31 147.28,224.25 147.6,224.53 147.91,224.49 148.23,224.2 148.54,224.69 148.86,225.21 149.17,224.51 149.49,224.55 149.8,224.31 150.12,224.77 150.43,224.29 150.75,224.36 151.06,225.15 151.38,224.47 151.69,225.13 152.01,225.3 152.32,224.92 152.64,225.03 152.95,225.5 153.27,224.84 153.58,224.73 153.9,224.51 154.21,224.98 154.53,225.46 154.84,225.32 155.16,224.73 155.47,224.78 155.79,224.91 156.1,225.19 156.42,225.05 156.73,225.21 157.05,225.25 157.36,225.08 157.68,225.19 157.99,225.29 158.31,225.21 158.62,225.42 158.94,225.88 159.25,225.49 159.57,225.34 159.88,224.8 160.2,225.48 160.51,224.75 160.83,224.94 161.14,225.69 161.46,225.66 161.77,225.4 162.09,224.92 162.4,225.37 162.72,225.29 163.03,225.73 163.35,226.26 163.66,225.63 163.98,225.32 164.29,225.22 164.61,225.59 164.92,225.57 165.24,225.27 165.55,225.7 165.87,225.31 166.18,226.05 166.5,226.05 166.81,226.07 167.13,225.59 167.44,225.92 167.76,225.73 168.07,225.66 168.38,225.69 168.7,225.4 169.01,225.37 169.33,226.1 169.64,225.8 169.96,225.95 170.27,226.21 170.59,225.35 170.9,225.67 171.22,225.99 171.53,226.08 171.85,225.85 172.16,226.31 172.48,226.06 172.79,225.62 173.11,225.72 173.42,226.29 173.74,226.2 174.05,225.46 174.37,226.51 174.68,226.28 175,226.53 175.31,225.99 175.63,226.04 175.94,225.78 176.26,226.97 176.57,226.11 176.89,226.69 177.2,225.99 177.52,226.26 177.83,225.68 178.15,226.11 178.46,226.56 178.78,225.85 179.09,226.61 179.41,226.39 179.72,225.96 180.04,226.14 180.35,226.17 180.67,226.31 180.98,226.17 181.3,226.08 181.61,226.26 181.93,226.04 182.24,225.97 182.56,226.38 182.87,226.69 183.19,225.93 183.5,226.43 183.82,226.23 184.13,226.13 184.45,226.73 184.76,226.3 185.08,226.96 185.39,226.24 185.71,226.62 186.02,226.44 186.34,226.28 186.65,226.72 186.97,226.49 187.28,226.74 187.6,226.54 187.91,226.22 188.23,226.54 188.54,226.6 188.86,226.9 189.17,226.32 189.49,226.6 189.8,226.07" fill="none" stroke="#151515" stroke-width="1.1" stroke-linejoin="round"/>
<polyline points="50.9,260.01 51.08,255.05 51.26,250.79 51.43,247.69 51.61,244.71 51.79,240.81 51.97,238.15 52.15,235.7 52.32,233.24 52.5,231.57 52.68,229.22 52.86,227.44 53.04,226.2 53.21,224.25 53.39,223.22 53.57,221.48 53.75,220.21 53.93,218.91 54.11,219.07 54.28,217.43 54.46,216.74 54.64,215.84 54.82,215.14 55,214.41 55.17,214.35 55.35,212.8 55.53,212.06 55.71,211.7 55.89,211.1 56.06,211.3 56.24,210.88 56.42,209.89 56.6,209.36 56.78,209.33 56.95,209.54 57.13,207.86 57.31,208.61 57.49,207.8 57.67,208.2 57.84,207.25 57.84,207.5 58.16,206.67 58.47,206.43 58.79,206.8 59.1,206.26 59.42,205.54 59.73,205.08 60.05,204.47 60.36,204.68 60.68,204.54 60.99,204.28 61.31,204.04 61.62,203.5 61.94,203.63 62.25,203.44 62.57,203.68 62.88,203.69 63.2,202.88 63.51,202.52 63.83,202.59 64.14,202.27 64.46,202.08 64.77,202.17 65.09,201.72 65.4,202.13 65.72,201.78 66.03,201.78 66.35,201.53 66.66,201.26 66.98,201.09 67.29,201.22 67.61,201.03 67.92,201.19 68.24,201.03 68.55,200.51 68.87,200.89 69.18,200.37 69.5,200.53 69.81,200.56 70.13,199.93 70.44,200.56 70.76,200.52 71.07,200.36 71.39,200.22 71.7,200.18 72.02,199.94 72.33,200.11 72.65,199.98 72.96,200.14 73.28,199.68 73.59,200.1 73.91,200.03 74.22,199.9 74.54,199.76 74.85,200.05 75.17,199.3 75.48,199.95 75.8,199.85 76.11,199.83 76.43,199.83 76.74,199.48 77.06,199.57 77.37,199.84 77.69,199.75 78,199.65 78.32,199.08 78.63,199.71 78.95,199.89 79.26,199.82 79.58,199.55 79.89,198.96 80.2,199.74 80.52,199.38 80.83,198.6 81.15,199.51 81.46,198.9 81.78,198.95 82.09,199.15 82.41,199.74 82.72,199.21 83.04,199.4 83.35,199.86 83.67,199.8 83.98,199.24 84.3,199.19 84.61,198.85 84.93,199.03 85.24,199.37 85.56,199.36 85.87,199.26 86.19,199.53 86.5,198.96 86.82,199.18 87.13,199.42 87.45,199.37 87.76,199.52 88.08,199.3 88.39,199.06 88.71,199.27 89.02,198.83 89.34,198.62 89.65,199.33 89.97,199.12 90.28,199.23 90.6,198.58 90.91,199.01 91.23,198.93 91.54,198.84 91.86,198.39 92.17,199 92.49,199.39 92.8,199.22 93.12,198.9 93.43,199.09 93.75,199.39 94.06,199.17 94.38,200.88 94.69,201.94 95.01,202.79 95.32,203.9 95.64,204.47 95.95,204.94 96.27,205.64 96.58,206.47 96.9,206.7 97.21,207.49 97.53,208.41 97.84,209.33 98.16,209.23 98.47,209.81 98.79,210.42 99.1,211.3 99.42,211.36 99.73,212.32 100.05,212 100.36,212.7 100.68,213.13 100.99,213.87 101.31,214.36 101.62,213.93 101.93,214.5 102.25,215.27 102.56,215.31 102.88,215.38 103.19,216.53 103.51,216.68 103.82,216.99 104.14,216.99 104.45,217.76 104.77,217.64 105.08,218.34 105.4,217.97 105.71,218.25 106.03,218.84 106.34,218.79 106.66,219.47 106.97,219.57 107.29,219.42 107.6,219.95 107.92,220.03 108.23,220.64 108.55,220.34 108.86,220.6 109.18,221.31 109.49,221.83 109.81,221.93 110.12,221.48 110.44,221.7 110.75,222.29 111.07,221.92 111.38,221.8 111.7,222.3 112.01,222.56 112.33,222.29 112.64,222.17 112.96,222.37 113.27,223.18 113.59,222.85 113.9,223.18 114.22,223.42 114.53,223.67 114.85,223.48 115.16,223.86 115.48,223.53 115.79,223.81 116.11,223.71 116.42,224.5 116.74,224.23 117.05,224.11 117.37,224.33 117.68,224.47 118,224.86 118.31,224.22 118.63,224.48 118.94,224.78 119.26,225.8 119.57,225.38 119.89,225.13 120.2,225.47 120.52,225.98 120.83,225.33 121.15,225.36 121.46,225.94 121.78,225.79 122.09,225.92 122.41,225.61 122.72,226.46 123.04,226.46 123.35,226.16 123.67,226.27 123.98,225.47 124.29,226.38 124.61,226.18 124.92,226.44 125.24,226.58 125.55,226.32 125.87,225.95 126.18,226.66 126.5,226.36 126.81,226.55 127.13,226.52 127.44,226.66 127.76,226.08 128.07,227.27 128.39,227.01 128.7,227.34 129.02,227.67 129.33,227.09 129.65,226.56 129.96,226.9 130.28,226.84 130.59,227.12 130.91,227.35 131.22,226.73 131.54,227.53 131.85,226.98 132.17,227.6 132.48,227.51 132.8,227.49 133.11,227.61 133.43,227.5 133.74,227.52 134.06,227.22 134.37,227.79 134.69,228.43 135,228.51 135.32,228.34 135.63,228.18 135.95,227.78 136.26,228.5 136.58,228.05 136.89,228.09 137.21,228.05 137.52,228.21 137.84,228.08 138.15,228.23 138.47,227.94 138.78,228.2 139.1,229.09 139.41,228.37 139.73,228.35 140.04,228.63 140.36,228.72 140.67,228.16 140.99,228.49 141.3,228.88 141.62,228.7 141.93,228.69 142.25,229.17 142.56,228.49 142.88,228.76 143.19,228.6 143.51,229.27 143.82,228.2 144.14,228.64 144.45,228.71 144.77,229.12 145.08,229.13 145.4,229.41 145.71,228.49 146.02,229.26 146.34,228.95 146.65,228.86 146.97,229.27 147.28,228.83 147.6,228.49 147.91,229.06 148.23,228.72 148.54,229.02 148.86,229.37 149.17,229.38 149.49,229.81 149.8,229.26 150.12,228.86 150.43,229.13 150.75,229.1 151.06,229.03 151.38,229.58 151.69,229.26 152.01,228.85 152.32,229.73 152.64,229.5 152.95,229.67 153.27,229.61 153.58,229.8 153.9,229.63 154.21,230.03 154.53,229.8 154.84,229.81 155.16,229.83 155.47,229.26 155.79,229.69 156.1,229.68 156.42,229.85 156.73,229.37 157.05,230.34 157.36,229.87 157.68,229.47 157.99,229.33 158.31,229.81 158.62,229.89 158.94,229.7 159.25,229.98 159.57,229.76 159.88,230.16 160.2,229.77 160.51,230.01 160.83,230.35 161.14,230.88 161.46,229.75 161.77,229.94 162.09,229.84 162.4,230.38 162.72,229.77 163.03,230 163.35,230.16 163.66,229.88 163.98,229.9 164.29,230.07 164.61,229.56 164.92,229.79 165.24,230.13 165.55,230.33 165.87,230.24 166.18,229.74 166.5,230.18 166.81,230.6 167.13,230.53 167.44,230.35 167.76,230.1 168.07,230.6 168.38,230.23 168.7,230.05 169.01,230.18 169.33,230.92 169.64,230.54 169.96,230.85 170.27,230.34 170.59,230.81 170.9,230.33 171.22,230.48 171.53,231.34 171.85,230.8 172.16,230.41 172.48,230.56 172.79,230.7 173.11,231 173.42,230.46 173.74,230.08 174.05,230.56 174.37,230.66 174.68,230.7 175,231.1 175.31,230.79 175.63,230.96 175.94,230.36 176.26,231 176.57,231.41 176.89,230.99 177.2,230.84 177.52,230.82 177.83,231.35 178.15,230.49 178.46,230.77 178.78,230.96 179.09,231.06 179.41,230.69 179.72,230.94 180.04,230.76 180.35,230.9 180.67,230.83 180.98,230.52 181.3,230.89 181.61,231.18 181.93,230.6 182.24,230.84 182.56,231.14 182.87,230.6 183.19,231.01 183.5,230.62 183.82,231.33 184.13,231.72 184.45,231.63 184.76,230.92 185.08,231.24 185.39,231.05 185.71,231.05 186.02,231.52 186.34,230.61 186.65,231.38 186.97,231.04 187.28,231.51 187.6,231.13 187.91,230.86 188.23,231.17 188.54,231.33 188.86,231.11 189.17,231.27 189.49,230.95 189.8,230.44" fill="none" stroke="#151515" stroke-width="1.1" stroke-linejoin="round"/>
<polyline points="50.9,260.09 51.08,256.7 51.26,253.46 51.43,250.62 51.61,248.34 51.79,245.48 51.97,243.21 52.15,241.35 52.32,239.92 52.5,237.37 52.68,236.6 52.86,234.55 53.04,233.03 53.21,232.53 53.39,230.92 53.57,229.45 53.75,228.75 53.93,228.23 54.11,227.44 54.28,226.11 54.46,225.62 54.64,225.01 54.82,223.92 55,223.62 55.17,222.92 55.35,222.22 55.53,221.73 55.71,221.43 55.89,220.97 56.06,220.36 56.24,220.01 56.42,220.12 56.6,219.48 56.78,219.36 56.95,219.14 57.13,218.65 57.31,218.9 57.49,217.63 57.67,217.9 57.84,217.29 57.84,217.99 58.16,217.53 58.47,215.98 58.79,215.95 59.1,216.14 59.42,215.88 59.73,215.58 60.05,215.06 60.36,214.98 60.68,214.81 60.99,214.36 61.31,214.5 61.62,213.26 61.94,214 62.25,213.29 62.57,213.76 62.88,213.22 63.2,212.85 63.51,213.11 63.83,212.56 64.14,212.43 64.46,212.1 64.77,212.47 65.09,212.52 65.4,212.58 65.72,212.11 66.03,212.39 66.35,211.96 66.66,211.83 66.98,211.96 67.29,212.03 67.61,211.5 67.92,211.45 68.24,211.41 68.55,211.41 68.87,211.03 69.18,211.58 69.5,211.06 69.81,211.28 70.13,210.81 70.44,211.13 70.76,211.09 71.07,210.78 71.39,211.51 71.7,210.93 72.02,211.34 72.33,211.03 72.65,210.47 72.96,210.52 73.28,210.75 73.59,210.59 73.91,210.55 74.22,210.41 74.54,209.89 74.85,210.37 75.17,209.7 75.48,210.5 75.8,210.12 76.11,210.1 76.43,210.23 76.74,210.36 77.06,209.79 77.37,209.67 77.69,209.87 78,209.53 78.32,209.86 78.63,210.66 78.95,209.79 79.26,210.32 79.58,209.66 79.89,210.17 80.2,209.96 80.52,210.03 80.83,210.22 81.15,210.58 81.46,210.07 81.78,210.03 82.09,209.67 82.41,210.16 82.72,209.88 83.04,210.21 83.35,209.92 83.67,210.48 83.98,209.28 84.3,209.81 84.61,210.18 84.93,209.78 85.24,209.63 85.56,209.79 85.87,209.43 86.19,209.9 86.5,210.63 86.82,210.21 87.13,209.49 87.45,209.56 87.76,209.7 88.08,210.14 88.39,209.55 88.71,209.59 89.02,210.09 89.34,210.08 89.65,209.68 89.97,209.44 90.28,209.29 90.6,209.56 90.91,209.07 91.23,210.02 91.54,209.57 91.86,209.92 92.17,210.37 92.49,210.14 92.8,209.39 93.12,210.04 93.43,210.13 93.75,209.55 94.06,210.11 94.38,210.97 94.69,211.07 95.01,212.59 95.32,211.87 95.64,212.79 95.95,213.53 96.27,214 96.58,214.57 96.9,215.02 97.21,215.27 97.53,216.09 97.84,215.41 98.16,216.46 98.47,216.57 98.79,217.18 99.1,217.53 99.42,217.48 99.73,217.86 100.05,218.61 100.36,218.74 100.68,218.69 100.99,219.82 101.31,220.16 101.62,219.19 101.93,220 102.25,220.93 102.56,220.6 102.88,220.64 103.19,220.72 103.51,220.81 103.82,221.12 104.14,221.21 104.45,221.81 104.77,221.63 105.08,221.8 105.4,221.73 105.71,222.27 106.03,222.17 106.34,222.56 106.66,223.11 106.97,223.06 107.29,223.25 107.6,223.36 107.92,223.41 108.23,223.5 108.55,223.58 108.86,224.06 109.18,223.61 109.49,224.52 109.81,224.24 110.12,224.12 110.44,224.33 110.75,224.39 111.07,224.79 111.38,224.63 111.7,225.34 112.01,224.85 112.33,224.49 112.64,225.09 112.96,224.8 113.27,225.54 113.59,226 113.9,225.98 114.22,225.45 114.53,225.74 114.85,226.66 115.16,226.3 115.48,226.3 115.79,226.74 116.11,227.28 116.42,227.01 116.74,226.74 117.05,226.9 117.37,227.08 117.68,226.78 118,226.73 118.31,227.18 118.63,226.95 118.94,227.32 119.26,227.46 119.57,228.27 119.89,227.34 120.2,227.65 120.52,227.73 120.83,228 121.15,228.28 121.46,227.87 121.78,227.85 122.09,227.67 122.41,227.98 122.72,228.52 123.04,228.45 123.35,228.18 123.67,228.47 123.98,228.67 124.29,228.9 124.61,228.62 124.92,228.81 125.24,228.38 125.55,228.66 125.87,229.62 126.18,228.48 126.5,229.14 126.81,229.39 127.13,229.27 127.44,229.2 127.76,229.5 128.07,229.59 128.39,229.63 128.7,229.12 129.02,229.74 129.33,229.58 129.65,229.75 129.96,230.06 130.28,230.25 130.59,230.4 130.91,230.01 131.22,230.53 131.54,230.67 131.85,230.72 132.17,230.86 132.48,230.43 132.8,230.48 133.11,230.86 133.43,230.22 133.74,230.78 134.06,230.6 134.37,230.71 134.69,230.32 135,230.65 135.32,230.98 135.63,231.33 135.95,231.42 136.26,231.13 136.58,231.15 136.89,230.99 137.21,231.44 137.52,231.28 137.84,231.61 138.15,232.03 138.47,231.5 138.78,231.09 139.1,231.34 139.41,231.2 139.73,231.33 140.04,232.18 140.36,231.88 140.67,231.37 140.99,232.11 141.3,232.35 141.62,231.88 141.93,231.83 142.25,231.98 142.56,232.22 142.88,232.38 143.19,232.6 143.51,232.65 143.82,232.69 144.14,232.79 144.45,232.61 144.77,231.95 145.08,232.44 145.4,232.62 145.71,232.44 146.02,232.89 146.34,232.53 146.65,232.39 146.97,233.19 147.28,232.98 147.6,232.87 147.91,233.14 148.23,233.22 148.54,233.03 148.86,232.17 149.17,232.78 149.49,232.89 149.8,232.75 150.12,233.17 150.43,233.52 150.75,233.02 151.06,232.85 151.38,233.9 151.69,233.14 152.01,232.92 152.32,233.43 152.64,233.52 152.95,233.19 153.27,233.71 153.58,233.33 153.9,233.22 154.21,233.61 154.53,233.83 154.84,233.41 155.16,233.76 155.47,233.65 155.79,234.62 156.1,233.52 156.42,234.22 156.73,233.79 157.05,233.79 157.36,234.1 157.68,234.18 157.99,234.33 158.31,234.06 158.62,233.79 158.94,233.84 159.25,234.2 159.57,234.25 159.88,234.54 160.2,234.26 160.51,234.49 160.83,234.66 161.14,234.26 161.46,233.76 161.77,233.88 162.09,233.83 162.4,234.82 162.72,234.07 163.03,234.76 163.35,234.58 163.66,234.96 163.98,234.76 164.29,234.43 164.61,234.42 164.92,234.54 165.24,234.59 165.55,234.39 165.87,234.57 166.18,235.12 166.5,234.09 166.81,234.74 167.13,234.39 167.44,234.76 167.76,234.99 168.07,234.73 168.38,235.02 168.7,234.28 169.01,235.17 169.33,234.64 169.64,235.05 169.96,234.93 170.27,234.07 170.59,234.68 170.9,235.01 171.22,235.46 171.53,235.07 171.85,235.08 172.16,234.57 172.48,235.5 172.79,235.64 173.11,235.09 173.42,235.03 173.74,234.6 174.05,235.42 174.37,236.02 174.68,235.4 175,235.6 175.31,235.38 175.63,234.91 175.94,235.67 176.26,234.87 176.57,235.21 176.89,235.39 177.2,235.6 177.52,235.47 177.83,235.48 178.15,235.12 178.46,234.97 178.78,235.42 179.09,235.19 179.41,235.02 179.72,235.05 180.04,235.31 180.35,234.89 180.67,235.07 180.98,234.99 181.3,235.59 181.61,235.68 181.93,236.2 182.24,235.1 182.56,235.37 182.87,235.9 183.19,235.55 183.5,235.53 183.82,236.2 184.13,235.56 184.45,235.31 184.76,235.27 185.08,235.81 185.39,235.82 185.71,235.3 186.02,235.43 186.34,235.93 186.65,235.96 186.97,235.58 187.28,236 187.6,236 187.91,235.26 188.23,235.74 188.54,235.99 188.86,235.68 189.17,235.19 189.49,235.8 189.8,236.14" fill="none" stroke="#151515" stroke-width="1.1" stroke-linejoin="round"/>
<polyline points="50.9,260.31 51.08,256.05 51.26,254.78 51.43,251.01 51.61,249.3 51.79,247.21 51.97,245.11 52.15,242.99 52.32,240.86 52.5,239.85 52.68,237.96 52.86,236.03 53.04,236.49 53.21,234.66 53.39,233.94 53.57,232.07 53.75,231.91 53.93,231.09 54.11,230.28 54.28,229.04 54.46,227.96 54.64,227.65 54.82,226.39 55,225.99 55.17,226.04 55.35,225.19 55.53,224.99 55.71,224.57 55.89,224.82 56.06,224.23 56.24,223.43 56.42,223.49 56.6,222.53 56.78,222.36 56.95,222.47 57.13,221.5 57.31,221.55 57.49,220.97 57.67,221.19 57.84,221.45 57.84,220.69 58.16,220.62 58.47,219.92 58.79,219.52 59.1,219.19 59.42,219.78 59.73,219.81 60.05,218.96 60.36,218.35 60.68,218.59 60.99,218.06 61.31,218.23 61.62,217.89 61.94,217.72 62.25,217.66 62.57,217.13 62.88,217.04 63.2,216.48 63.51,216.75 63.83,216.31 64.14,216.6 64.46,216.23 64.77,216.46 65.09,216.46 65.4,215.76 65.72,215.86 66.03,215.73 66.35,216.18 66.66,216.4 66.98,216.05 67.29,215.59 67.61,216.09 67.92,215.07 68.24,215.97 68.55,215.21 68.87,214.47 69.18,216.15 69.5,215.75 69.81,214.86 70.13,215.19 70.44,215.01 70.76,215.07 71.07,214.51 71.39,214.72 71.7,215.05 72.02,214.93 72.33,215.2 72.65,214.8 72.96,215.49 73.28,214.48 73.59,214.76 73.91,214.03 74.22,214.21 74.54,215.01 74.85,214.25 75.17,214.69 75.48,214.48 75.8,214.14 76.11,214.34 76.43,214.26 76.74,214.25 77.06,214.62 77.37,214.57 77.69,214.16 78,214.03 78.32,214.39 78.63,214.25 78.95,214.6 79.26,215.1 79.58,214.51 79.89,214.21 80.2,214.15 80.52,213.92 80.83,213.89 81.15,213.85 81.46,214.03 81.78,214.01 82.09,214.37 82.41,213.99 82.72,214.05 83.04,213.71 83.35,214.62 83.67,214.25 83.98,214.65 84.3,214.32 84.61,214.53 84.93,213.97 85.24,214.27 85.56,214.9 85.87,213.64 86.19,214.4 86.5,214.56 86.82,214.14 87.13,214.25 87.45,214.41 87.76,213.78 88.08,214.12 88.39,213.7 88.71,213.76 89.02,213.77 89.34,213.92 89.65,214.01 89.97,214.11 90.28,213.49 90.6,214.6 90.91,214.33 91.23,214.18 91.54,213.83 91.86,213.91 92.17,214.12 92.49,214.07 92.8,213.38 93.12,214.17 93.43,214.88 93.75,213.41 94.06,215.7 94.38,216.62 94.69,217.41 95.01,218.69 95.32,218.53 95.64,219.55 95.95,220.48 96.27,220.37 96.58,220.68 96.9,221.19 97.21,221.31 97.53,222.24 97.84,221.68 98.16,222.5 98.47,222.02 98.79,222.85 99.1,222.79 99.42,222.15 99.73,223.17 100.05,222.99 100.36,223.36 100.68,224.17 100.99,223.45 101.31,223.61 101.62,224.58 101.93,224.29 102.25,224.9 102.56,224.64 102.88,224.38 103.19,224.78 103.51,225.34 103.82,225.37 104.14,225.19 104.45,225.34 104.77,225.41 105.08,225.38 105.4,226.33 105.71,225.82 106.03,225.57 106.34,225.9 106.66,226.42 106.97,226.51 107.29,226.37 107.6,226.31 107.92,226.65 108.23,226.2 108.55,226.44 108.86,227.24 109.18,226.93 109.49,227.31 109.81,227.7 110.12,227.62 110.44,227.52 110.75,228.31 111.07,227.94 111.38,227.7 111.7,228.16 112.01,228.15 112.33,227.84 112.64,228.24 112.96,228.26 113.27,227.76 113.59,228.45 113.9,228.51 114.22,228.55 114.53,228.24 114.85,228.76 115.16,228.95 115.48,229.09 115.79,228.77 116.11,229.44 116.42,228.92 116.74,229.33 117.05,229.92 117.37,229.35 117.68,229.49 118,230.1 118.31,229.7 118.63,229.81 118.94,230.06 119.26,230.41 119.57,229.42 119.89,229.95 120.2,229.97 120.52,230.02 120.83,230.18 121.15,230.26 121.46,230.71 121.78,230.39 122.09,230.79 122.41,230.96 122.72,230.66 123.04,231.01 123.35,231.57 123.67,231.21 123.98,230.97 124.29,231.22 124.61,231.01 124.92,231.47 125.24,231.73 125.55,231.24 125.87,231.51 126.18,232 126.5,231.54 126.81,231.83 127.13,231.49 127.44,231.62 127.76,231.79 128.07,232.71 128.39,231.94 128.7,231.96 129.02,232.01 129.33,232.2 129.65,232.52 129.96,232.43 130.28,233.08 130.59,232.55 130.91,233 131.22,232.68 131.54,232.84 131.85,232.23 132.17,232.71 132.48,232.78 132.8,232.78 133.11,232.22 133.43,233.24 133.74,232.88 134.06,232.92 134.37,233.03 134.69,233.09 135,233.34 135.32,232.85 135.63,233.01 135.95,233.44 136.26,233.44 136.58,233.32 136.89,233.31 137.21,233.27 137.52,233.56 137.84,234 138.15,233.33 138.47,234.2 138.78,234.03 139.1,233.66 139.41,234.09 139.73,233.42 140.04,233.37 140.36,233.56 140.67,233.88 140.99,233.95 141.3,233.92 141.62,234.16 141.93,233.49 142.25,234.37 142.56,233.79 142.88,234.07 143.19,234.19 143.51,233.99 143.82,233.96 144.14,234.11 144.45,234.47 144.77,234.7 145.08,234.72 145.4,234.26 145.71,234.36 146.02,234.35 146.34,234.83 146.65,234.06 146.97,235.15 147.28,234.63 147.6,234.56 147.91,234.96 148.23,235.21 148.54,235.02 148.86,235.28 149.17,235.02 149.49,235.4 149.8,235.44 150.12,235.04 150.43,235.56 150.75,235.18 151.06,235.19 151.38,234.89 151.69,235.12 152.01,235.49 152.32,234.85 152.64,235.51 152.95,235.44 153.27,235.45 153.58,234.68 153.9,235.38 154.21,235.65 154.53,235.22 154.84,235.52 155.16,234.76 155.47,235.76 155.79,235.36 156.1,235.87 156.42,235.03 156.73,235.87 157.05,235.59 157.36,235.95 157.68,235.42 157.99,235.54 158.31,236.48 158.62,235.52 158.94,235.59 159.25,235.75 159.57,235.53 159.88,236.26 160.2,236.45 160.51,235.7 160.83,235.39 161.14,236.34 161.46,236.34 161.77,236.27 162.09,236.4 162.4,235.77 162.72,236.02 163.03,235.65 163.35,235.66 163.66,236.45 163.98,235.94 164.29,236.9 164.61,236.22 164.92,236.01 165.24,236.49 165.55,236.83 165.87,236.42 166.18,235.9 166.5,236.42 166.81,236.76 167.13,236.18 167.44,236.11 167.76,236.7 168.07,236.44 168.38,236.06 168.7,236.31 169.01,236.2 169.33,236.56 169.64,236.51 169.96,236.86 170.27,236.74 170.59,236.03 170.9,236.67 171.22,236.85 171.53,236.72 171.85,236.92 172.16,236.43 172.48,236.32 172.79,236.93 173.11,236.31 173.42,235.97 173.74,237.01 174.05,236.46 174.37,236.61 174.68,236.27 175,236.31 175.31,236.38 175.63,236.65 175.94,236.9 176.26,236.06 176.57,237.05 176.89,236.44 177.2,236.49 177.52,237.06 177.83,236.83 178.15,236.38 178.46,237.47 178.78,236.62 179.09,236.99 179.41,236.98 179.72,237.38 180.04,236.8 180.35,237.28 180.67,236.73 180.98,237.34 181.3,236.75 181.61,236.89 181.93,237.62 182.24,237.13 182.56,237.07 182.87,237.76 183.19,237.17 183.5,236.81 183.82,237.31 184.13,236.71 184.45,237.46 184.76,237.5 185.08,236.94 185.39,236.93 185.71,237.2 186.02,237.16 186.34,236.85 186.65,237.35 186.97,236.53 187.28,237.05 187.6,237.07 187.91,237.12 188.23,237.32 188.54,236.83 188.86,237.42 189.17,237.19 189.49,237.05 189.8,236.83" fill="none" stroke="#151515" stroke-width="1.1" stroke-linejoin="round"/>
<polyline points="50.9,259.42 51.08,258 51.26,255.79 51.43,254.45 51.61,253.22 51.79,251.76 51.97,250.57 52.15,248.7 52.32,247.26 52.5,246.82 52.68,245.56 52.86,244.84 53.04,243.57 53.21,243.1 53.39,242.18 53.57,241.39 53.75,240.61 53.93,239.91 54.11,239.24 54.28,238.65 54.46,238.34 54.64,237.34 54.82,237.57 55,236.51 55.17,236.43 55.35,235.67 55.53,235.23 55.71,235.59 55.89,234.49 56.06,233.85 56.24,233.72 56.42,233.55 56.6,234.06 56.78,233.17 56.95,233.15 57.13,232.29 57.31,232.49 57.49,232.38 57.67,232.53 57.84,231.53 57.84,231.95 58.16,231.52 58.47,230.79 58.79,230.83 59.1,230.49 59.42,229.59 59.73,230.3 60.05,230.07 60.36,229.56 60.68,229.09 60.99,229.82 61.31,229.27 61.62,229.36 61.94,229.34 62.25,228.59 62.57,228.89 62.88,228.43 63.2,228.37 63.51,228.26 63.83,228.18 64.14,228.44 64.46,228.03 64.77,227.86 65.09,227.73 65.4,227.85 65.72,227.38 66.03,227.43 66.35,227.51 66.66,227.28 66.98,227.36 67.29,227.14 67.61,227.92 67.92,227.65 68.24,227.31 68.55,227.1 68.87,227.77 69.18,227.12 69.5,226.95 69.81,227.03 70.13,226.99 70.44,227.31 70.76,226.81 71.07,227.45 71.39,226.46 71.7,226.94 72.02,226.36 72.33,227.23 72.65,226.52 72.96,226.58 73.28,226.86 73.59,226.94 73.91,226.16 74.22,226.38 74.54,226.02 74.85,226.49 75.17,226.4 75.48,226.3 75.8,226.17 76.11,226.25 76.43,226.11 76.74,226.51 77.06,226.8 77.37,225.69 77.69,226.25 78,226.14 78.32,226.42 78.63,225.94 78.95,226.19 79.26,225.89 79.58,226.43 79.89,226.23 80.2,226.14 80.52,226.3 80.83,226.09 81.15,225.66 81.46,226.34 81.78,226.23 82.09,226.08 82.41,226.44 82.72,226.51 83.04,225.76 83.35,225.85 83.67,226.59 83.98,226.54 84.3,225.84 84.61,225.7 84.93,225.87 85.24,225.9 85.56,225.55 85.87,226.06 86.19,225.64 86.5,225.66 86.82,226.33 87.13,225.82 87.45,226.01 87.76,226.23 88.08,226.28 88.39,225.91 88.71,226.03 89.02,225.75 89.34,226.57 89.65,226.21 89.97,225.65 90.28,226 90.6,226.22 90.91,226.15 91.23,226.58 91.54,226.43 91.86,225.81 92.17,225.95 92.49,225.57 92.8,226.06 93.12,226.03 93.43,226.84 93.75,226.04 94.06,225.84 94.38,226.72 94.69,227.34 95.01,227.23 95.32,227.64 95.64,228.05 95.95,228.5 96.27,228.54 96.58,228.5 96.9,229.2 97.21,228.94 97.53,229.1 97.84,228.96 98.16,229.28 98.47,229.87 98.79,229.27 99.1,229.88 99.42,230.25 99.73,230.01 100.05,230.32 100.36,229.99 100.68,230.87 100.99,230.91 101.31,230.73 101.62,230.19 101.93,230.52 102.25,231.26 102.56,231.6 102.88,231.24 103.19,231.64 103.51,231.14 103.82,231.36 104.14,231.52 104.45,231.74 104.77,231.21 105.08,232.09 105.4,232.3 105.71,231.59 106.03,231.62 106.34,232.25 106.66,232.01 106.97,231.55 107.29,232.65 107.6,232.52 107.92,232.4 108.23,233.31 108.55,232.76 108.86,232.56 109.18,232.91 109.49,232.63 109.81,232.79 110.12,233.24 110.44,233.01 110.75,233.12 111.07,233.88 111.38,233.69 111.7,233.75 112.01,233.74 112.33,233.8 112.64,234.18 112.96,233.78 113.27,234.45 113.59,233.63 113.9,233.92 114.22,233.63 114.53,234.03 114.85,234.37 115.16,234.74 115.48,234.13 115.79,234.41 116.11,234.36 116.42,234.31 116.74,234.23 117.05,234.69 117.37,234.19 117.68,234.84 118,234.87 118.31,234.72 118.63,234.67 118.94,234.61 119.26,235.71 119.57,234.75 119.89,235.73 120.2,235.49 120.52,235.24 120.83,235.04 121.15,235.81 121.46,236.08 121.78,235.29 122.09,235.55 122.41,236.04 122.72,235.86 123.04,236.45 123.35,235.69 123.67,236.1 123.98,235.58 124.29,236.7 124.61,235.85 124.92,235.43 125.24,236.15 125.55,236.2 125.87,236.91 126.18,236.24 126.5,236.39 126.81,236.63 127.13,237 127.44,236.52 127.76,236.93 128.07,236.81 128.39,236.6 128.7,236.76 129.02,236.79 129.33,236.54 129.65,237.27 129.96,236.48 130.28,237.35 130.59,237.32 130.91,237.03 131.22,236.86 131.54,237.08 131.85,237.35 132.17,237.48 132.48,237.37 132.8,237.64 133.11,237.19 133.43,237.49 133.74,236.95 134.06,237.74 134.37,237.58 134.69,237.44 135,237.99 135.32,237.88 135.63,236.8 135.95,237.75 136.26,237.31 136.58,238.16 136.89,238.65 137.21,237.73 137.52,237.95 137.84,237.89 138.15,238.12 138.47,238.25 138.78,238.49 139.1,237.8 139.41,238.65 139.73,237.89 140.04,238.31 140.36,238.63 140.67,238.52 140.99,238.03 141.3,238.14 141.62,238.25 141.93,238.41 142.25,238.83 142.56,238.08 142.88,238.68 143.19,238.76 143.51,238.77 143.82,238.78 144.14,239.14 144.45,238.85 144.77,239 145.08,238.93 145.4,239.36 145.71,238.21 146.02,239.26 146.34,238.79 146.65,238.82 146.97,238.62 147.28,238.37 147.6,238.87 147.91,238.8 148.23,239.21 148.54,238.61 148.86,239.57 149.17,239.22 149.49,239.08 149.8,238.96 150.12,238.97 150.43,238.88 150.75,239.1 151.06,239.3 151.38,239.27 151.69,238.9 152.01,239.29 152.32,239.12 152.64,239.48 152.95,240.05 153.27,239.68 153.58,239.4 153.9,239.01 154.21,239.1 154.53,239.04 154.84,239.83 155.16,239.38 155.47,239.67 155.79,239.47 156.1,239.73 156.42,240.17 156.73,239.52 157.05,239.66 157.36,239.53 157.68,240.09 157.99,239.5 158.31,239.49 158.62,239.43 158.94,239.45 159.25,240.07 159.57,240.76 159.88,239.64 160.2,240.29 160.51,240.08 160.83,239.67 161.14,239.96 161.46,239.99 161.77,239.86 162.09,240.72 162.4,239.51 162.72,240.27 163.03,240.27 163.35,240 163.66,240.25 163.98,240.5 164.29,240.29 164.61,240.39 164.92,240.5 165.24,239.65 165.55,240.79 165.87,241.06 166.18,240.66 166.5,240.69 166.81,239.93 167.13,240.36 167.44,240.16 167.76,240.25 168.07,240.76 168.38,240.21 168.7,240.45 169.01,239.89 169.33,240.47 169.64,240.57 169.96,240.33 170.27,240.34 170.59,241.19 170.9,240.21 171.22,240.28 171.53,240.37 171.85,241.03 172.16,241.34 172.48,240.79 172.79,240.46 173.11,240.57 173.42,241.06 173.74,240.45 174.05,241.22 174.37,241.22 174.68,240.8 175,241 175.31,241.05 175.63,241.32 175.94,240.5 176.26,241.23 176.57,240.75 176.89,240.63 177.2,240.93 177.52,240.84 177.83,240.6 178.15,240.42 178.46,240.64 178.78,241.42 179.09,241.6 179.41,241.19 179.72,241.38 180.04,240.84 180.35,241 180.67,241.12 180.98,240.7 181.3,240.74 181.61,241.1 181.93,240.98 182.24,240.75 182.56,241.23 182.87,241.03 183.19,241.45 183.5,241.14 183.82,241.05 184.13,241.2 184.45,241.12 184.76,240.97 185.08,241.07 185.39,241.44 185.71,241.42 186.02,241.64 186.34,240.7 186.65,241.12 186.97,241.13 187.28,241.32 187.6,241.13 187.91,241.12 188.23,241.55 188.54,241.37 188.86,240.95 189.17,241.76 189.49,241.66 189.8,241.16" fill="none" stroke="#151515" stroke-width="1.1" stroke-linejoin="round"/>
<polyline points="50.9,260.07 51.08,258.15 51.26,257.42 51.43,255.74 51.61,254.38 51.79,253.41 51.97,252.24 52.15,251.57 52.32,250.64 52.5,249.72 52.68,248.71 52.86,246.94 53.04,247.41 53.21,246.08 53.39,246.12 53.57,245.78 53.75,244.93 53.93,244.17 54.11,243.71 54.28,243.23 54.46,242.63 54.64,242.18 54.82,241.65 55,241.93 55.17,241.17 55.35,241.12 55.53,240.4 55.71,240.18 55.89,239.79 56.06,239.7 56.24,239.54 56.42,239.09 56.6,238.55 56.78,238.27 56.95,238.82 57.13,237.99 57.31,237.77 57.49,238.14 57.67,237.83 57.84,237.47 57.84,237.17 58.16,237.75 58.47,236.84 58.79,236.63 59.1,236.16 59.42,235.53 59.73,235.35 60.05,235.71 60.36,235.52 60.68,235.15 60.99,234.69 61.31,234.46 61.62,234.67 61.94,234.18 62.25,234.8 62.57,234.77 62.88,235.19 63.2,234.46 63.51,233.89 63.83,233.71 64.14,232.79 64.46,233.62 64.77,233.67 65.09,233.96 65.4,233.78 65.72,233.7 66.03,233.51 66.35,233.59 66.66,233.79 66.98,232.92 67.29,233.06 67.61,232.71 67.92,233.63 68.24,233.48 68.55,233.26 68.87,232.59 69.18,232.98 69.5,232.81 69.81,232.88 70.13,232.75 70.44,232.95 70.76,232.62 71.07,232.99 71.39,232.76 71.7,232.56 72.02,232.59 72.33,232.46 72.65,232.83 72.96,232.46 73.28,232.62 73.59,232.38 73.91,232 74.22,232.75 74.54,232.1 74.85,232.64 75.17,232.54 75.48,231.85 75.8,232.06 76.11,232.19 76.43,232.07 76.74,231.94 77.06,232.54 77.37,232.21 77.69,232.4 78,232.13 78.32,232.35 78.63,232 78.95,232.22 79.26,232.41 79.58,232.22 79.89,232.05 80.2,231.84 80.52,232.23 80.83,232.28 81.15,232.08 81.46,231.91 81.78,232.32 82.09,232.93 82.41,232.04 82.72,232.23 83.04,232.24 83.35,231.29 83.67,232.15 83.98,231.87 84.3,232.54 84.61,232.01 84.93,231.84 85.24,232.01 85.56,232.13 85.87,231.89 86.19,232.05 86.5,231.63 86.82,231.99 87.13,232.3 87.45,232.68 87.76,232.27 88.08,232.13 88.39,232.42 88.71,232.36 89.02,232.57 89.34,232.38 89.65,231.99 89.97,232.11 90.28,232.08 90.6,232.12 90.91,232.08 91.23,231.76 91.54,231.34 91.86,231.8 92.17,231.36 92.49,232.03 92.8,232.01 93.12,231.47 93.43,232.22 93.75,232.28 94.06,232.15 94.38,232.77 94.69,232.94 95.01,232.07 95.32,232.89 95.64,232.81 95.95,232.91 96.27,233.18 96.58,232.75 96.9,232.9 97.21,232.92 97.53,233.05 97.84,233.36 98.16,233.02 98.47,233.25 98.79,233.86 99.1,233.75 99.42,233.99 99.73,233.36 100.05,233.8 100.36,233.97 100.68,234.24 100.99,234.13 101.31,234.71 101.62,234.48 101.93,234.59 102.25,234.67 102.56,234.98 102.88,234.68 103.19,235.27 103.51,235.14 103.82,235.13 104.14,235.17 104.45,235.4 104.77,235.64 105.08,235.69 105.4,235.59 105.71,235.82 106.03,235.65 106.34,236.09 106.66,235.75 106.97,235.17 107.29,236.33 107.6,236.01 107.92,235.67 108.23,236.05 108.55,235.9 108.86,236.92 109.18,236.48 109.49,235.88 109.81,236.62 110.12,236.38 110.44,237.19 110.75,236.3 111.07,235.98 111.38,236.78 111.7,236.71 112.01,236.75 112.33,236.26 112.64,237.14 112.96,237.6 113.27,236.51 113.59,237.55 113.9,237.05 114.22,238.04 114.53,237.49 114.85,237.34 115.16,237.81 115.48,237.68 115.79,237.37 116.11,237.84 116.42,237.51 116.74,237.15 117.05,238.42 117.37,237.71 117.68,237.68 118,238.03 118.31,237.47 118.63,237.59 118.94,237.91 119.26,237.95 119.57,238.19 119.89,238.57 120.2,238.1 120.52,238.46 120.83,238.54 121.15,238.04 121.46,238.51 121.78,238.18 122.09,238.86 122.41,238.71 122.72,238.61 123.04,238.22 123.35,238.73 123.67,238.49 123.98,239 124.29,238.78 124.61,238.59 124.92,239.19 125.24,239.16 125.55,238.78 125.87,239.38 126.18,238.95 126.5,238.99 126.81,239.16 127.13,238.92 127.44,239.06 127.76,239.18 128.07,239.76 128.39,239.79 128.7,239.26 129.02,239.89 129.33,239.4 129.65,239.57 129.96,239.76 130.28,239.61 130.59,240.32 130.91,239.66 131.22,239.23 131.54,240.06 131.85,239.55 132.17,239.61 132.48,238.78 132.8,240.09 133.11,240.07 133.43,240.09 133.74,240.18 134.06,240.44 134.37,239.91 134.69,240.25 135,239.75 135.32,239.9 135.63,240.38 135.95,240.19 136.26,239.67 136.58,240.24 136.89,240.1 137.21,239.92 137.52,240.35 137.84,240.11 138.15,239.76 138.47,239.93 138.78,240.88 139.1,239.86 139.41,240.44 139.73,240.59 140.04,240.62 140.36,240.05 140.67,240.37 140.99,240.54 141.3,240.77 141.62,240.34 141.93,240.19 142.25,240.91 142.56,240.97 142.88,240.76 143.19,240.47 143.51,240.81 143.82,240.74 144.14,241 144.45,240.35 144.77,240.81 145.08,240.75 145.4,240.46 145.71,240.91 146.02,240.87 146.34,240.75 146.65,241.03 146.97,240.47 147.28,240.93 147.6,241.11 147.91,241.08 148.23,241.36 148.54,240.65 148.86,240.57 149.17,241.15 149.49,241.24 149.8,241.79 150.12,241.33 150.43,240.87 150.75,241.43 151.06,240.92 151.38,240.73 151.69,242.06 152.01,241.35 152.32,241.49 152.64,241.46 152.95,241.88 153.27,241.41 153.58,241.73 153.9,241.03 154.21,240.93 154.53,241.85 154.84,241.88 155.16,241.59 155.47,241.52 155.79,241.51 156.1,241.26 156.42,241.99 156.73,241.72 157.05,241.69 157.36,241.66 157.68,241.9 157.99,241.74 158.31,241.83 158.62,241.24 158.94,241.79 159.25,242.34 159.57,241.49 159.88,241.63 160.2,241.97 160.51,242.01 160.83,241.92 161.14,241.22 161.46,241.91 161.77,241.39 162.09,241.52 162.4,241.97 162.72,241.72 163.03,242.08 163.35,242.85 163.66,242.1 163.98,242.1 164.29,241.6 164.61,241.69 164.92,241.57 165.24,241.76 165.55,241.59 165.87,241.74 166.18,241.9 166.5,241.66 166.81,241.54 167.13,241.57 167.44,242.17 167.76,242.06 168.07,242.38 168.38,242.4 168.7,241.97 169.01,242.31 169.33,241.64 169.64,242.85 169.96,242.51 170.27,242.07 170.59,241.78 170.9,242.29 171.22,241.58 171.53,241.94 171.85,242.45 172.16,242.24 172.48,242.07 172.79,242.55 173.11,241.92 173.42,242.36 173.74,242.12 174.05,242.02 174.37,242.45 174.68,242 175,242.94 175.31,242.15 175.63,242.99 175.94,242.01 176.26,242.57 176.57,242 176.89,241.97 177.2,242.46 177.52,242.64 177.83,242.03 178.15,242.82 178.46,242.2 178.78,242.51 179.09,242.6 179.41,242.68 179.72,241.93 180.04,243.03 180.35,242.7 180.67,242.4 180.98,242.22 181.3,242.02 181.61,242.13 181.93,242.75 182.24,242.48 182.56,242.24 182.87,242.44 183.19,243.12 183.5,242.53 183.82,242.46 184.13,243.09 184.45,242.81 184.76,242.69 185.08,242.49 185.39,242.2 185.71,242.33 186.02,242.56 186.34,242.66 186.65,242.85 186.97,242.92 187.28,242.83 187.6,242.84 187.91,242.46 188.23,242.1 188.54,242.63 188.86,242.5 189.17,242.61 189.49,242.74 189.8,242.44" fill="none" stroke="#151515" stroke-width="1.1" stroke-linejoin="round"/>
<polyline points="50.9,259.44 51.08,258.94 51.26,258.22 51.43,257.23 51.61,256.89 51.79,255.99 51.97,255.09 52.15,254.83 52.32,254.84 52.5,253.47 52.68,253.53 52.86,253.1 53.04,252.67 53.21,251.47 53.39,251.95 53.57,250.93 53.75,250.41 53.93,250.05 54.11,249.95 54.28,249.43 54.46,249.03 54.64,249.19 54.82,248.24 55,247.85 55.17,248.17 55.35,247.87 55.53,247.74 55.71,246.81 55.89,247.26 56.06,246.85 56.24,247.04 56.42,245.87 56.6,246.14 56.78,245.79 56.95,245.18 57.13,245.28 57.31,245.7 57.49,245.02 57.67,244.78 57.84,245.14 57.84,245.18 58.16,244.91 58.47,244.1 58.79,244.1 59.1,244.23 59.42,243.48 59.73,243.25 60.05,243.57 60.36,243.63 60.68,242.59 60.99,241.96 61.31,242.18 61.62,242.17 61.94,242.31 62.25,242.41 62.57,242.04 62.88,241.73 63.2,241.89 63.51,241.42 63.83,241.6 64.14,241.3 64.46,242.26 64.77,241.56 65.09,240.94 65.4,240.8 65.72,240.88 66.03,240.41 66.35,240.62 66.66,240.54 66.98,240.98 67.29,240.48 67.61,240.29 67.92,240.05 68.24,240.03 68.55,240.32 68.87,240.21 69.18,240.57 69.5,239.95 69.81,240.43 70.13,240.12 70.44,239.98 70.76,239.28 71.07,239.46 71.39,240.06 71.7,240.22 72.02,239.79 72.33,239.92 72.65,239.5 72.96,239.47 73.28,239.33 73.59,239.81 73.91,239.57 74.22,239.34 74.54,239.27 74.85,239.52 75.17,239.41 75.48,239 75.8,239.79 76.11,239.28 76.43,239.17 76.74,239.61 77.06,239.44 77.37,239.05 77.69,239.22 78,238.68 78.32,238.79 78.63,238.24 78.95,239.33 79.26,238.31 79.58,239.11 79.89,238.6 80.2,238.53 80.52,238.76 80.83,238.88 81.15,238.97 81.46,239.32 81.78,238.85 82.09,239 82.41,238.5 82.72,238.9 83.04,238.71 83.35,238.49 83.67,238.59 83.98,238.58 84.3,238.65 84.61,238.7 84.93,238.39 85.24,238.3 85.56,238.77 85.87,237.97 86.19,238.3 86.5,238.98 86.82,237.61 87.13,238.24 87.45,238.67 87.76,237.91 88.08,239.25 88.39,237.58 88.71,238.86 89.02,238.89 89.34,238.67 89.65,238.3 89.97,238.47 90.28,238.06 90.6,238.6 90.91,237.97 91.23,238.23 91.54,238.63 91.86,237.95 92.17,238.18 92.49,238.34 92.8,237.85 93.12,238.64 93.43,238.37 93.75,237.78 94.06,238.35 94.38,238.21 94.69,238.32 95.01,238.63 95.32,238.44 95.64,239.04 95.95,238.55 96.27,239.14 96.58,238.86 96.9,239.19 97.21,238.78 97.53,238.83 97.84,238.66 98.16,239.25 98.47,239.4 98.79,239.82 99.1,239.58 99.42,239.28 99.73,239.17 100.05,239.39 100.36,239.29 100.68,239.8 100.99,239.66 101.31,239.13 101.62,239.2 101.93,239.89 102.25,239.58 102.56,239.44 102.88,239.92 103.19,239.45 103.51,239.51 103.82,239.49 104.14,239.03 104.45,239.97 104.77,239.33 105.08,239.57 105.4,239.54 105.71,240.04 106.03,239.82 106.34,239.87 106.66,239.36 106.97,239.9 107.29,239.48 107.6,240.08 107.92,240.13 108.23,240.03 108.55,240.72 108.86,240.26 109.18,240.31 109.49,240.2 109.81,240.12 110.12,240.52 110.44,240.59 110.75,239.85 111.07,240.63 111.38,240.48 111.7,240.65 112.01,240.52 112.33,240 112.64,240.05 112.96,241.04 113.27,240.57 113.59,240.06 113.9,240.65 114.22,240.45 114.53,240 114.85,239.89 115.16,240.14 115.48,240.76 115.79,240.69 116.11,240.65 116.42,240.85 116.74,240.98 117.05,240.14 117.37,240.74 117.68,240.6 118,240.49 118.31,240.74 118.63,240.9 118.94,240.88 119.26,240.53 119.57,240.87 119.89,241.69 120.2,240.74 120.52,240.56 120.83,241.21 121.15,241.34 121.46,241.33 121.78,240.84 122.09,241.55 122.41,241 122.72,240.92 123.04,241.11 123.35,241.3 123.67,241.58 123.98,241.58 124.29,241.4 124.61,241.73 124.92,241.48 125.24,241.77 125.55,241.06 125.87,241.03 126.18,241.81 126.5,241.14 126.81,241.51 127.13,241.6 127.44,241.5 127.76,241.54 128.07,242.15 128.39,240.92 128.7,242.04 129.02,242.51 129.33,241.81 129.65,241.82 129.96,242.09 130.28,242.46 130.59,241.52 130.91,241.95 131.22,241.89 131.54,242.15 131.85,242.05 132.17,242.23 132.48,241.91 132.8,242.08 133.11,241.88 133.43,241.9 133.74,242.09 134.06,242.12 134.37,241.81 134.69,242.71 135,242.19 135.32,241.81 135.63,242.63 135.95,242.06 136.26,242.49 136.58,242.34 136.89,242.45 137.21,242.45 137.52,242.24 137.84,242.46 138.15,243.12 138.47,241.77 138.78,242.53 139.1,242.67 139.41,242.22 139.73,242.14 140.04,243.29 140.36,242.5 140.67,243.31 140.99,242.84 141.3,242.71 141.62,242.87 141.93,242.94 142.25,243.13 142.56,242.92 142.88,242.85 143.19,242.88 143.51,243.28 143.82,243.13 144.14,242.57 144.45,242.71 144.77,243.04 145.08,242.76 145.4,242.86 145.71,242.69 146.02,242.94 146.34,243.18 146.65,243.38 146.97,243.09 147.28,243.77 147.6,243.1 147.91,244.17 148.23,243.49 148.54,243.35 148.86,243.05 149.17,242.33 149.49,243.2 149.8,243.33 150.12,243.91 150.43,242.87 150.75,243.95 151.06,243.28 151.38,243.61 151.69,242.59 152.01,243.46 152.32,243.33 152.64,243.68 152.95,243.51 153.27,243.14 153.58,243.83 153.9,243.77 154.21,243.75 154.53,243.91 154.84,243.96 155.16,243.62 155.47,243.21 155.79,243.22 156.1,244.12 156.42,243.93 156.73,243.76 157.05,243.61 157.36,243.77 157.68,243.79 157.99,243.7 158.31,243.6 158.62,244.54 158.94,243.94 159.25,243.69 159.57,243.49 159.88,243.69 160.2,244.17 160.51,244.2 160.83,243.91 161.14,244.02 161.46,243.92 161.77,243.68 162.09,244.47 162.4,244.19 162.72,244.89 163.03,243.87 163.35,244.09 163.66,244.43 163.98,244.09 164.29,243.75 164.61,243.9 164.92,244.26 165.24,244.36 165.55,244.23 165.87,244.6 166.18,244.62 166.5,244.42 166.81,244.35 167.13,244.28 167.44,244.55 167.76,244.69 168.07,244.43 168.38,244.57 168.7,244.35 169.01,244.02 169.33,244.17 169.64,244.75 169.96,244.66 170.27,245.05 170.59,244.58 170.9,244.85 171.22,245.02 171.53,244.93 171.85,244.43 172.16,244.59 172.48,244.71 172.79,244.37 173.11,244.85 173.42,245.05 173.74,244.58 174.05,245.38 174.37,244.68 174.68,244.72 175,244.73 175.31,244.6 175.63,244.97 175.94,244.86 176.26,245.41 176.57,245.09 176.89,245.08 177.2,244.86 177.52,244.49 177.83,244.93 178.15,244.71 178.46,245.3 178.78,245 179.09,245.56 179.41,245.28 179.72,245.33 180.04,245.15 180.35,245.16 180.67,245.32 180.98,245.42 181.3,244.92 181.61,245.32 181.93,246.02 182.24,245.17 182.56,245.13 182.87,245.01 183.19,244.78 183.5,245.64 183.82,245.3 184.13,245.39 184.45,245.9 184.76,246.13 185.08,245.06 185.39,245.7 185.71,245.57 186.02,245.52 186.34,245.56 186.65,245.42 186.97,245.95 187.28,245.65 187.6,245.58 187.91,245.89 188.23,245.79 188.54,245.67 188.86,245.64 189.17,246.11 189.49,245.73 189.8,245.55" fill="none" stroke="#151515" stroke-width="1.1" stroke-linejoin="round"/>
<polyline points="50.9,259.53 51.08,259.59 51.26,259.27 51.43,259.54 51.61,259.5 51.79,258.66 51.97,259.23 52.15,259.34 52.32,259.09 52.5,258.64 52.68,259.27 52.86,258.55 53.04,258.29 53.21,258.25 53.39,258.5 53.57,258.74 53.75,258.71 53.93,258.32 54.11,257.79 54.28,257.87 54.46,257.71 54.64,257.86 54.82,257.27 55,257.79 55.17,257.89 55.35,257.55 55.53,257.67 55.71,257.15 55.89,256.9 56.06,257.09 56.24,257.59 56.42,257.47 56.6,256.92 56.78,257.38 56.95,256.82 57.13,257.34 57.31,256.94 57.49,256.57 57.67,256.9 57.84,256.33 57.84,256.27 58.16,255.99 58.47,256.42 58.79,256.2 59.1,256.08 59.42,255.86 59.73,256.34 60.05,255.63 60.36,255.43 60.68,255.96 60.99,255.91 61.31,255.46 61.62,254.69 61.94,254.96 62.25,255.25 62.57,254.96 62.88,255.36 63.2,254.33 63.51,254.89 63.83,254.39 64.14,254.92 64.46,254.39 64.77,254.66 65.09,254.04 65.4,253.71 65.72,253.72 66.03,253.8 66.35,253.59 66.66,254.23 66.98,254.19 67.29,253.78 67.61,253.29 67.92,253.51 68.24,253.25 68.55,253.87 68.87,253.43 69.18,253.42 69.5,253.07 69.81,252.49 70.13,252.82 70.44,252.65 70.76,253.06 71.07,252.91 71.39,252.56 71.7,252.63 72.02,253.2 72.33,252.33 72.65,252.29 72.96,252.46 73.28,252.25 73.59,252.28 73.91,252.54 74.22,252.87 74.54,251.69 74.85,252.21 75.17,252.17 75.48,252.09 75.8,252 76.11,251.91 76.43,252.29 76.74,251.78 77.06,251.84 77.37,251.83 77.69,251.82 78,251.69 78.32,252.02 78.63,251.66 78.95,251.68 79.26,251.57 79.58,251.22 79.89,251.24 80.2,251.13 80.52,251.49 80.83,251.16 81.15,251.01 81.46,251.39 81.78,251.45 82.09,250.68 82.41,251.75 82.72,251.19 83.04,251.11 83.35,251.45 83.67,251.1 83.98,250.86 84.3,251.72 84.61,250.64 84.93,250.93 85.24,251.2 85.56,250.56 85.87,250.84 86.19,250.96 86.5,251.58 86.82,250.5 87.13,250.74 87.45,250.94 87.76,250.73 88.08,250.3 88.39,250.79 88.71,250.67 89.02,250.75 89.34,250.95 89.65,250.88 89.97,250.67 90.28,250.61 90.6,250.14 90.91,250.43 91.23,250.52 91.54,250.3 91.86,250.44 92.17,250.12 92.49,250.86 92.8,251.03 93.12,250.2 93.43,250.43 93.75,250.21 94.06,250.71 94.38,250.46 94.69,250.36 95.01,250.28 95.32,250.41 95.64,250.06 95.95,250.61 96.27,250.18 96.58,250.59 96.9,250.48 97.21,250.8 97.53,250.46 97.84,250.8 98.16,250.19 98.47,250.7 98.79,250.44 99.1,250.59 99.42,250.56 99.73,250.85 100.05,249.91 100.36,250.67 100.68,250.1 100.99,250.98 101.31,249.97 101.62,250.29 101.93,250.09 102.25,251.16 102.56,250.23 102.88,250.69 103.19,250.49 103.51,250.1 103.82,250.57 104.14,250.9 104.45,250.64 104.77,251.01 105.08,250.6 105.4,250.73 105.71,250.61 106.03,250.85 106.34,251.36 106.66,250.88 106.97,250.83 107.29,250.58 107.6,250.54 107.92,251.26 108.23,250.44 108.55,250.51 108.86,250.78 109.18,250.69 109.49,251.45 109.81,250.08 110.12,250.96 110.44,251.08 110.75,250.5 111.07,250.66 111.38,251.01 111.7,251.4 112.01,250.59 112.33,250.38 112.64,251.21 112.96,251.39 113.27,250.8 113.59,250.21 113.9,251.38 114.22,250.86 114.53,251.29 114.85,250.92 115.16,250.82 115.48,250.8 115.79,251.43 116.11,251.42 116.42,250.28 116.74,250.67 117.05,251.54 117.37,250.86 117.68,250.55 118,250.99 118.31,250.96 118.63,250.97 118.94,250.85 119.26,250.91 119.57,250.87 119.89,251.13 120.2,250.77 120.52,250.94 120.83,250.99 121.15,251.46 121.46,251.16 121.78,251.01 122.09,251.23 122.41,251.19 122.72,251.41 123.04,251.23 123.35,251.65 123.67,251.51 123.98,251.07 124.29,250.95 124.61,251.37 124.92,251.26 125.24,251.07 125.55,250.63 125.87,250.52 126.18,251.22 126.5,251.36 126.81,251.37 127.13,250.71 127.44,251.46 127.76,250.96 128.07,251.26 128.39,251.27 128.7,250.88 129.02,250.96 129.33,250.49 129.65,250.86 129.96,250.58 130.28,251.3 130.59,251.18 130.91,251.46 131.22,251.29 131.54,250.97 131.85,251.29 132.17,251.06 132.48,251.38 132.8,251.29 133.11,250.88 133.43,251.2 133.74,251.22 134.06,251.1 134.37,251.49 134.69,251.76 135,251.1 135.32,251.1 135.63,250.5 135.95,251.18 136.26,251.09 136.58,250.54 136.89,251.33 137.21,251.43 137.52,251.01 137.84,251.12 138.15,250.94 138.47,251.49 138.78,250.77 139.1,251.16 139.41,251.88 139.73,251.28 140.04,251.42 140.36,251.22 140.67,250.9 140.99,251.26 141.3,251.41 141.62,250.95 141.93,251.39 142.25,251.69 142.56,251.63 142.88,250.79 143.19,250.98 143.51,250.78 143.82,251.65 144.14,251.5 144.45,251.53 144.77,251.03 145.08,250.94 145.4,251.34 145.71,251.35 146.02,251.05 146.34,251.37 146.65,251.54 146.97,251.41 147.28,251 147.6,250.66 147.91,251.26 148.23,251.4 148.54,251.26 148.86,251.21 149.17,251.13 149.49,251.58 149.8,251.34 150.12,251.4 150.43,251.05 150.75,251.17 151.06,251.42 151.38,251.05 151.69,250.97 152.01,251.27 152.32,251.77 152.64,251.44 152.95,251.85 153.27,251.35 153.58,251.29 153.9,250.95 154.21,251.21 154.53,251.86 154.84,251.51 155.16,251.64 155.47,251.63 155.79,251.41 156.1,251.35 156.42,251.45 156.73,251.63 157.05,251.57 157.36,251.58 157.68,251.48 157.99,251.18 158.31,251.35 158.62,251.13 158.94,251.76 159.25,250.77 159.57,251.37 159.88,252.21 160.2,251.34 160.51,251.09 160.83,251.45 161.14,251.87 161.46,251.41 161.77,251.66 162.09,251.5 162.4,251.35 162.72,252.48 163.03,251.49 163.35,251.3 163.66,251.32 163.98,251.6 164.29,251.61 164.61,251.73 164.92,251.53 165.24,251.03 165.55,251.66 165.87,251.4 166.18,251.41 166.5,251.02 166.81,251.32 167.13,251.27 167.44,251.5 167.76,251.04 168.07,251.53 168.38,251.55 168.7,251.16 169.01,251.32 169.33,251.25 169.64,251.81 169.96,250.72 170.27,251.42 170.59,251 170.9,251.4 171.22,251.81 171.53,251.34 171.85,251.59 172.16,251.27 172.48,252.17 172.79,251.84 173.11,251.91 173.42,251.13 173.74,251.2 174.05,251.9 174.37,251.5 174.68,251.48 175,251.67 175.31,251.17 175.63,251.82 175.94,251.58 176.26,251.73 176.57,251.36 176.89,251.74 177.2,251.36 177.52,251.89 177.83,251.95 178.15,251.88 178.46,251.76 178.78,251.8 179.09,250.73 179.41,251.87 179.72,251.51 180.04,251.63 180.35,251.51 180.67,251.16 180.98,251.44 181.3,251.82 181.61,252.07 181.93,251.42 182.24,251.33 182.56,252.09 182.87,251.34 183.19,252.29 183.5,251.64 183.82,251.35 184.13,251.95 184.45,252.18 184.76,251.18 185.08,252.14 185.39,251.55 185.71,252.12 186.02,251.52 186.34,251.14 186.65,251.81 186.97,251.95 187.28,252.33 187.6,252.21 187.91,251.88 188.23,251.59 188.54,251.5 188.86,251.57 189.17,251.4 189.49,251.58 189.8,250.86" fill="none" stroke="#151515" stroke-width="1.1" stroke-linejoin="round"/>
<polyline points="50.9,258.95 51.08,253.58 51.26,248.75 51.43,244.4 51.61,239.66 51.79,236.14 51.97,232.97 52.15,230.1 52.32,227.51 52.5,225.16 52.68,223.03 52.86,221.09 53.04,219.33 53.21,217.73 53.39,216.27 53.57,214.93 53.75,213.71 53.93,212.59 54.11,211.56 54.28,210.61 54.46,209.73 54.64,208.93 54.82,208.18 55,207.48 55.17,206.84 55.35,206.24 55.53,205.68 55.71,205.16 55.89,204.66 56.06,204.2 56.24,203.77 56.42,203.36 56.6,202.97 56.78,202.61 56.95,202.26 57.13,201.93 57.31,201.62 57.49,201.32 57.67,201.03 57.84,200.76 57.84,200.76 58.45,199.91 59.06,199.17 59.67,198.51 60.28,197.92 60.89,197.4 61.49,196.92 62.1,196.48 62.71,196.08 63.32,195.72 63.93,195.39 64.53,195.08 65.14,194.8 65.75,194.54 66.36,194.3 66.97,194.08 67.58,193.88 68.18,193.69 68.79,193.52 69.4,193.36 70.01,193.21 70.62,193.07 71.22,192.94 71.83,192.82 72.44,192.71 73.05,192.61 73.66,192.51 74.27,192.42 74.87,192.34 75.48,192.26 76.09,192.18 76.7,192.11 77.31,192.05 77.91,191.98 78.52,191.92 79.13,191.87 79.74,191.81 80.35,191.76 80.96,191.71 81.56,191.66 82.17,191.61 82.78,191.57 83.39,191.52 84,191.48 84.6,191.43 85.21,191.39 85.82,191.35 86.43,191.31 87.04,191.27 87.65,191.23 88.25,191.19 88.86,191.14 89.47,191.1 90.08,191.06 90.69,191.02 91.29,190.98 91.9,190.94 92.51,190.89 93.12,190.85 93.73,190.8 93.73,190.8 94.42,193.57 95.11,196.05 95.8,198.28 96.49,200.28 97.18,202.08 97.87,203.71 98.57,205.17 99.26,206.5 99.95,207.7 100.64,208.79 101.33,209.78 102.02,210.67 102.71,211.49 103.4,212.24 104.1,212.92 104.79,213.54 105.48,214.11 106.17,214.64 106.86,215.12 107.55,215.57 108.24,215.98 108.93,216.36 109.62,216.72 110.32,217.05 111.01,217.35 111.7,217.64 112.39,217.91 113.08,218.16 113.77,218.4 114.46,218.63 115.15,218.84 115.84,219.04 116.54,219.23 117.23,219.41 117.92,219.58 118.61,219.75 119.3,219.91 119.99,220.06 120.68,220.2 121.37,220.34 122.07,220.48 122.76,220.61 123.45,220.73 124.14,220.86 124.83,220.97 125.52,221.09 126.21,221.2 126.9,221.31 127.59,221.41 128.29,221.51 128.98,221.61 129.67,221.71 130.36,221.8 131.05,221.9 131.74,221.99 132.43,222.07 133.12,222.16 133.82,222.24 134.51,222.33 135.2,222.41 135.89,222.49 136.58,222.56 137.27,222.64 137.96,222.71 138.65,222.79 139.34,222.86 140.04,222.93 140.73,223 141.42,223.06 142.11,223.13 142.8,223.2 143.49,223.26 144.18,223.32 144.87,223.38 145.57,223.44 146.26,223.5 146.95,223.56 147.64,223.62 148.33,223.68 149.02,223.73 149.71,223.79 150.4,223.84 151.09,223.89 151.79,223.94 152.48,223.99 153.17,224.04 153.86,224.09 154.55,224.14 155.24,224.19 155.93,224.24 156.62,224.28 157.32,224.33 158.01,224.37 158.7,224.41 159.39,224.46 160.08,224.5 160.77,224.54 161.46,224.58 162.15,224.62 162.84,224.66 163.54,224.7 164.23,224.74 164.92,224.77 165.61,224.81 166.3,224.85 166.99,224.88 167.68,224.92 168.37,224.95 169.06,224.99 169.76,225.02 170.45,225.05 171.14,225.08 171.83,225.12 172.52,225.15 173.21,225.18 173.9,225.21 174.59,225.24 175.29,225.27 175.98,225.29 176.67,225.32 177.36,225.35 178.05,225.38 178.74,225.4 179.43,225.43 180.12,225.46 180.81,225.48 181.51,225.51 182.2,225.53 182.89,225.55 183.58,225.58 184.27,225.6 184.96,225.62 185.65,225.65 186.34,225.67 187.04,225.69 187.73,225.71 188.42,225.73 189.11,225.75 189.8,225.77" fill="none" stroke="#dd2b2b" stroke-width="0.6" stroke-linejoin="round" stroke-opacity="0.85"/>
<polyline points="50.9,258.95 51.08,254.54 51.26,250.52 51.43,246.85 51.61,242.68 51.79,239.65 51.97,236.88 52.15,234.34 52.32,232.02 52.5,229.9 52.68,227.95 52.86,226.16 53.04,224.52 53.21,223.02 53.39,221.63 53.57,220.36 53.75,219.18 53.93,218.1 54.11,217.09 54.28,216.17 54.46,215.31 54.64,214.51 54.82,213.77 55,213.08 55.17,212.44 55.35,211.85 55.53,211.29 55.71,210.77 55.89,210.28 56.06,209.83 56.24,209.4 56.42,208.99 56.6,208.61 56.78,208.25 56.95,207.91 57.13,207.59 57.31,207.29 57.49,207 57.67,206.73 57.84,206.47 57.84,206.47 58.45,205.66 59.06,204.97 59.67,204.37 60.28,203.84 60.89,203.37 61.49,202.95 62.1,202.56 62.71,202.22 63.32,201.9 63.93,201.61 64.53,201.35 65.14,201.1 65.75,200.88 66.36,200.67 66.97,200.48 67.58,200.31 68.18,200.15 68.79,200 69.4,199.86 70.01,199.73 70.62,199.61 71.22,199.5 71.83,199.4 72.44,199.31 73.05,199.22 73.66,199.14 74.27,199.07 74.87,199 75.48,198.94 76.09,198.88 76.7,198.83 77.31,198.78 77.91,198.73 78.52,198.69 79.13,198.65 79.74,198.61 80.35,198.58 80.96,198.55 81.56,198.52 82.17,198.49 82.78,198.47 83.39,198.45 84,198.42 84.6,198.4 85.21,198.39 85.82,198.37 86.43,198.35 87.04,198.34 87.65,198.33 88.25,198.31 88.86,198.3 89.47,198.29 90.08,198.28 90.69,198.27 91.29,198.27 91.9,198.26 92.51,198.25 93.12,198.25 93.73,198.24 93.73,198.24 94.42,200.18 95.11,201.98 95.8,203.64 96.49,205.18 97.18,206.6 97.87,207.92 98.57,209.14 99.26,210.27 99.95,211.32 100.64,212.3 101.33,213.2 102.02,214.05 102.71,214.83 103.4,215.56 104.1,216.25 104.79,216.88 105.48,217.48 106.17,218.03 106.86,218.55 107.55,219.04 108.24,219.5 108.93,219.93 109.62,220.34 110.32,220.72 111.01,221.07 111.7,221.41 112.39,221.73 113.08,222.03 113.77,222.32 114.46,222.59 115.15,222.85 115.84,223.09 116.54,223.33 117.23,223.55 117.92,223.76 118.61,223.96 119.3,224.15 119.99,224.34 120.68,224.52 121.37,224.68 122.07,224.85 122.76,225 123.45,225.15 124.14,225.3 124.83,225.44 125.52,225.57 126.21,225.7 126.9,225.82 127.59,225.95 128.29,226.06 128.98,226.18 129.67,226.29 130.36,226.39 131.05,226.49 131.74,226.6 132.43,226.69 133.12,226.79 133.82,226.88 134.51,226.97 135.2,227.06 135.89,227.14 136.58,227.22 137.27,227.3 137.96,227.38 138.65,227.46 139.34,227.53 140.04,227.61 140.73,227.68 141.42,227.75 142.11,227.81 142.8,227.88 143.49,227.95 144.18,228.01 144.87,228.07 145.57,228.13 146.26,228.19 146.95,228.25 147.64,228.31 148.33,228.36 149.02,228.42 149.71,228.47 150.4,228.52 151.09,228.57 151.79,228.62 152.48,228.67 153.17,228.72 153.86,228.77 154.55,228.81 155.24,228.86 155.93,228.9 156.62,228.94 157.32,228.99 158.01,229.03 158.7,229.07 159.39,229.11 160.08,229.15 160.77,229.19 161.46,229.22 162.15,229.26 162.84,229.3 163.54,229.33 164.23,229.37 164.92,229.4 165.61,229.43 166.3,229.47 166.99,229.5 167.68,229.53 168.37,229.56 169.06,229.59 169.76,229.62 170.45,229.65 171.14,229.68 171.83,229.71 172.52,229.74 173.21,229.76 173.9,229.79 174.59,229.81 175.29,229.84 175.98,229.87 176.67,229.89 177.36,229.91 178.05,229.94 178.74,229.96 179.43,229.98 180.12,230.01 180.81,230.03 181.51,230.05 182.2,230.07 182.89,230.09 183.58,230.11 184.27,230.13 184.96,230.15 185.65,230.17 186.34,230.19 187.04,230.21 187.73,230.22 188.42,230.24 189.11,230.26 189.8,230.27" fill="none" stroke="#dd2b2b" stroke-width="0.6" stroke-linejoin="round" stroke-opacity="0.85"/>
<polyline points="50.9,258.95 51.08,255.62 51.26,252.56 51.43,249.75 51.61,246.34 51.79,243.98 51.97,241.81 52.15,239.81 52.32,237.96 52.5,236.26 52.68,234.69 52.86,233.24 53.04,231.9 53.21,230.65 53.39,229.5 53.57,228.44 53.75,227.45 53.93,226.53 54.11,225.67 54.28,224.88 54.46,224.14 54.64,223.45 54.82,222.8 55,222.2 55.17,221.64 55.35,221.11 55.53,220.62 55.71,220.15 55.89,219.72 56.06,219.31 56.24,218.92 56.42,218.56 56.6,218.21 56.78,217.89 56.95,217.58 57.13,217.29 57.31,217.01 57.49,216.75 57.67,216.5 57.84,216.26 57.84,216.26 58.45,215.52 59.06,214.89 59.67,214.34 60.28,213.86 60.89,213.43 61.49,213.04 62.1,212.7 62.71,212.38 63.32,212.1 63.93,211.83 64.53,211.59 65.14,211.37 65.75,211.17 66.36,210.98 66.97,210.81 67.58,210.65 68.18,210.5 68.79,210.36 69.4,210.23 70.01,210.11 70.62,209.99 71.22,209.89 71.83,209.79 72.44,209.69 73.05,209.6 73.66,209.52 74.27,209.44 74.87,209.37 75.48,209.3 76.09,209.23 76.7,209.16 77.31,209.1 77.91,209.04 78.52,208.98 79.13,208.93 79.74,208.88 80.35,208.82 80.96,208.77 81.56,208.72 82.17,208.67 82.78,208.62 83.39,208.58 84,208.53 84.6,208.48 85.21,208.43 85.82,208.39 86.43,208.34 87.04,208.29 87.65,208.25 88.25,208.2 88.86,208.15 89.47,208.1 90.08,208.05 90.69,208 91.29,207.95 91.9,207.9 92.51,207.85 93.12,207.8 93.73,207.74 93.73,207.74 94.42,209.29 95.11,210.67 95.8,211.9 96.49,213.02 97.18,214.02 97.87,214.94 98.57,215.77 99.26,216.53 99.95,217.22 100.64,217.86 101.33,218.46 102.02,219.01 102.71,219.52 103.4,220 104.1,220.45 104.79,220.87 105.48,221.27 106.17,221.65 106.86,222.01 107.55,222.35 108.24,222.67 108.93,222.99 109.62,223.29 110.32,223.58 111.01,223.85 111.7,224.12 112.39,224.38 113.08,224.63 113.77,224.87 114.46,225.11 115.15,225.34 115.84,225.56 116.54,225.78 117.23,225.99 117.92,226.2 118.61,226.4 119.3,226.59 119.99,226.79 120.68,226.97 121.37,227.16 122.07,227.34 122.76,227.51 123.45,227.68 124.14,227.85 124.83,228.01 125.52,228.18 126.21,228.33 126.9,228.49 127.59,228.64 128.29,228.79 128.98,228.93 129.67,229.07 130.36,229.21 131.05,229.35 131.74,229.49 132.43,229.62 133.12,229.75 133.82,229.87 134.51,230 135.2,230.12 135.89,230.24 136.58,230.36 137.27,230.47 137.96,230.58 138.65,230.7 139.34,230.8 140.04,230.91 140.73,231.01 141.42,231.12 142.11,231.22 142.8,231.32 143.49,231.41 144.18,231.51 144.87,231.6 145.57,231.69 146.26,231.78 146.95,231.87 147.64,231.96 148.33,232.04 149.02,232.13 149.71,232.21 150.4,232.29 151.09,232.37 151.79,232.44 152.48,232.52 153.17,232.59 153.86,232.67 154.55,232.74 155.24,232.81 155.93,232.88 156.62,232.94 157.32,233.01 158.01,233.08 158.7,233.14 159.39,233.2 160.08,233.26 160.77,233.32 161.46,233.38 162.15,233.44 162.84,233.5 163.54,233.55 164.23,233.61 164.92,233.66 165.61,233.72 166.3,233.77 166.99,233.82 167.68,233.87 168.37,233.92 169.06,233.96 169.76,234.01 170.45,234.06 171.14,234.1 171.83,234.15 172.52,234.19 173.21,234.23 173.9,234.28 174.59,234.32 175.29,234.36 175.98,234.4 176.67,234.44 177.36,234.48 178.05,234.51 178.74,234.55 179.43,234.59 180.12,234.62 180.81,234.66 181.51,234.69 182.2,234.72 182.89,234.76 183.58,234.79 184.27,234.82 184.96,234.85 185.65,234.88 186.34,234.91 187.04,234.94 187.73,234.97 188.42,235 189.11,235.03 189.8,235.05" fill="none" stroke="#dd2b2b" stroke-width="0.6" stroke-linejoin="round" stroke-opacity="0.85"/>
<polyline points="50.9,258.95 51.08,255.9 51.26,253.1 51.43,250.52 51.61,247.32 51.79,245.16 51.97,243.18 52.15,241.34 52.32,239.65 52.5,238.09 52.68,236.65 52.86,235.33 53.04,234.1 53.21,232.96 53.39,231.91 53.57,230.93 53.75,230.02 53.93,229.18 54.11,228.4 54.28,227.67 54.46,227 54.64,226.37 54.82,225.78 55,225.23 55.17,224.71 55.35,224.23 55.53,223.78 55.71,223.35 55.89,222.95 56.06,222.58 56.24,222.23 56.42,221.89 56.6,221.58 56.78,221.28 56.95,221 57.13,220.73 57.31,220.48 57.49,220.24 57.67,220.01 57.84,219.79 57.84,219.79 58.45,219.12 59.06,218.54 59.67,218.04 60.28,217.59 60.89,217.2 61.49,216.85 62.1,216.53 62.71,216.25 63.32,215.98 63.93,215.74 64.53,215.52 65.14,215.32 65.75,215.13 66.36,214.96 66.97,214.8 67.58,214.65 68.18,214.51 68.79,214.38 69.4,214.26 70.01,214.14 70.62,214.04 71.22,213.94 71.83,213.84 72.44,213.75 73.05,213.67 73.66,213.59 74.27,213.51 74.87,213.44 75.48,213.37 76.09,213.3 76.7,213.24 77.31,213.18 77.91,213.12 78.52,213.06 79.13,213 79.74,212.95 80.35,212.89 80.96,212.84 81.56,212.79 82.17,212.73 82.78,212.68 83.39,212.63 84,212.58 84.6,212.53 85.21,212.48 85.82,212.42 86.43,212.37 87.04,212.32 87.65,212.26 88.25,212.21 88.86,212.16 89.47,212.1 90.08,212.04 90.69,211.99 91.29,211.93 91.9,211.87 92.51,211.81 93.12,211.74 93.73,211.68 93.73,211.68 94.42,214.64 95.11,216.69 95.8,218.15 96.49,219.24 97.18,220.07 97.87,220.74 98.57,221.3 99.26,221.78 99.95,222.21 100.64,222.6 101.33,222.97 102.02,223.31 102.71,223.64 103.4,223.95 104.1,224.26 104.79,224.55 105.48,224.83 106.17,225.1 106.86,225.37 107.55,225.63 108.24,225.88 108.93,226.13 109.62,226.37 110.32,226.61 111.01,226.84 111.7,227.06 112.39,227.28 113.08,227.5 113.77,227.71 114.46,227.91 115.15,228.11 115.84,228.31 116.54,228.5 117.23,228.69 117.92,228.87 118.61,229.05 119.3,229.23 119.99,229.4 120.68,229.57 121.37,229.74 122.07,229.9 122.76,230.05 123.45,230.21 124.14,230.36 124.83,230.51 125.52,230.65 126.21,230.8 126.9,230.93 127.59,231.07 128.29,231.2 128.98,231.33 129.67,231.46 130.36,231.59 131.05,231.71 131.74,231.83 132.43,231.94 133.12,232.06 133.82,232.17 134.51,232.28 135.2,232.39 135.89,232.49 136.58,232.59 137.27,232.7 137.96,232.79 138.65,232.89 139.34,232.98 140.04,233.08 140.73,233.17 141.42,233.25 142.11,233.34 142.8,233.43 143.49,233.51 144.18,233.59 144.87,233.67 145.57,233.75 146.26,233.82 146.95,233.9 147.64,233.97 148.33,234.04 149.02,234.11 149.71,234.18 150.4,234.25 151.09,234.31 151.79,234.37 152.48,234.44 153.17,234.5 153.86,234.56 154.55,234.62 155.24,234.67 155.93,234.73 156.62,234.79 157.32,234.84 158.01,234.89 158.7,234.94 159.39,234.99 160.08,235.04 160.77,235.09 161.46,235.14 162.15,235.19 162.84,235.23 163.54,235.27 164.23,235.32 164.92,235.36 165.61,235.4 166.3,235.44 166.99,235.48 167.68,235.52 168.37,235.56 169.06,235.6 169.76,235.63 170.45,235.67 171.14,235.7 171.83,235.74 172.52,235.77 173.21,235.8 173.9,235.84 174.59,235.87 175.29,235.9 175.98,235.93 176.67,235.96 177.36,235.99 178.05,236.02 178.74,236.04 179.43,236.07 180.12,236.1 180.81,236.12 181.51,236.15 182.2,236.17 182.89,236.2 183.58,236.22 184.27,236.24 184.96,236.27 185.65,236.29 186.34,236.31 187.04,236.33 187.73,236.35 188.42,236.37 189.11,236.39 189.8,236.41" fill="none" stroke="#dd2b2b" stroke-width="0.6" stroke-linejoin="round" stroke-opacity="0.85"/>
<polyline points="50.9,258.95 51.08,257.04 51.26,255.25 51.43,253.58 51.61,251.21 51.79,249.78 51.97,248.44 52.15,247.2 52.32,246.03 52.5,244.94 52.68,243.93 52.86,242.97 53.04,242.08 53.21,241.24 53.39,240.46 53.57,239.72 53.75,239.03 53.93,238.39 54.11,237.78 54.28,237.21 54.46,236.67 54.64,236.16 54.82,235.69 55,235.24 55.17,234.81 55.35,234.41 55.53,234.04 55.71,233.68 55.89,233.34 56.06,233.03 56.24,232.72 56.42,232.44 56.6,232.17 56.78,231.91 56.95,231.67 57.13,231.43 57.31,231.21 57.49,231 57.67,230.8 57.84,230.61 57.84,230.61 58.45,230.02 59.06,229.52 59.67,229.08 60.28,228.69 60.89,228.36 61.49,228.06 62.1,227.79 62.71,227.55 63.32,227.33 63.93,227.13 64.53,226.94 65.14,226.78 65.75,226.62 66.36,226.48 66.97,226.34 67.58,226.21 68.18,226.1 68.79,225.98 69.4,225.88 70.01,225.78 70.62,225.68 71.22,225.59 71.83,225.5 72.44,225.41 73.05,225.33 73.66,225.25 74.27,225.17 74.87,225.09 75.48,225.02 76.09,224.94 76.7,224.87 77.31,224.79 77.91,224.72 78.52,224.65 79.13,224.57 79.74,224.5 80.35,224.42 80.96,224.35 81.56,224.27 82.17,224.19 82.78,224.11 83.39,224.03 84,223.95 84.6,223.87 85.21,223.78 85.82,223.69 86.43,223.6 87.04,223.51 87.65,223.42 88.25,223.32 88.86,223.22 89.47,223.12 90.08,223.02 90.69,222.91 91.29,222.8 91.9,222.69 92.51,222.58 93.12,222.46 93.73,222.34 93.73,222.34 94.42,223.86 95.11,225.01 95.8,225.9 96.49,226.62 97.18,227.22 97.87,227.72 98.57,228.16 99.26,228.54 99.95,228.89 100.64,229.21 101.33,229.5 102.02,229.78 102.71,230.03 103.4,230.28 104.1,230.51 104.79,230.74 105.48,230.95 106.17,231.16 106.86,231.36 107.55,231.56 108.24,231.75 108.93,231.93 109.62,232.11 110.32,232.29 111.01,232.46 111.7,232.63 112.39,232.79 113.08,232.95 113.77,233.11 114.46,233.27 115.15,233.42 115.84,233.57 116.54,233.71 117.23,233.86 117.92,234 118.61,234.14 119.3,234.27 119.99,234.41 120.68,234.54 121.37,234.66 122.07,234.79 122.76,234.91 123.45,235.03 124.14,235.15 124.83,235.27 125.52,235.39 126.21,235.5 126.9,235.61 127.59,235.72 128.29,235.82 128.98,235.93 129.67,236.03 130.36,236.13 131.05,236.23 131.74,236.33 132.43,236.43 133.12,236.52 133.82,236.61 134.51,236.7 135.2,236.79 135.89,236.88 136.58,236.96 137.27,237.05 137.96,237.13 138.65,237.21 139.34,237.29 140.04,237.37 140.73,237.45 141.42,237.52 142.11,237.6 142.8,237.67 143.49,237.74 144.18,237.81 144.87,237.88 145.57,237.95 146.26,238.02 146.95,238.08 147.64,238.15 148.33,238.21 149.02,238.27 149.71,238.33 150.4,238.39 151.09,238.45 151.79,238.51 152.48,238.57 153.17,238.62 153.86,238.68 154.55,238.73 155.24,238.78 155.93,238.83 156.62,238.88 157.32,238.93 158.01,238.98 158.7,239.03 159.39,239.08 160.08,239.12 160.77,239.17 161.46,239.22 162.15,239.26 162.84,239.3 163.54,239.34 164.23,239.39 164.92,239.43 165.61,239.47 166.3,239.51 166.99,239.55 167.68,239.58 168.37,239.62 169.06,239.66 169.76,239.69 170.45,239.73 171.14,239.76 171.83,239.8 172.52,239.83 173.21,239.86 173.9,239.9 174.59,239.93 175.29,239.96 175.98,239.99 176.67,240.02 177.36,240.05 178.05,240.08 178.74,240.11 179.43,240.13 180.12,240.16 180.81,240.19 181.51,240.21 182.2,240.24 182.89,240.27 183.58,240.29 184.27,240.32 184.96,240.34 185.65,240.36 186.34,240.39 187.04,240.41 187.73,240.43 188.42,240.45 189.11,240.48 189.8,240.5" fill="none" stroke="#dd2b2b" stroke-width="0.6" stroke-linejoin="round" stroke-opacity="0.85"/>
<polyline points="50.9,258.95 51.08,257.54 51.26,256.21 51.43,254.96 51.61,252.96 51.79,251.88 51.97,250.87 52.15,249.91 52.32,249.01 52.5,248.16 52.68,247.36 52.86,246.6 53.04,245.89 53.21,245.22 53.39,244.59 53.57,243.99 53.75,243.42 53.93,242.89 54.11,242.39 54.28,241.91 54.46,241.46 54.64,241.03 54.82,240.63 55,240.24 55.17,239.88 55.35,239.54 55.53,239.21 55.71,238.9 55.89,238.6 56.06,238.32 56.24,238.06 56.42,237.8 56.6,237.56 56.78,237.33 56.95,237.11 57.13,236.91 57.31,236.71 57.49,236.52 57.67,236.34 57.84,236.16 57.84,236.16 58.45,235.63 59.06,235.16 59.67,234.76 60.28,234.41 60.89,234.1 61.49,233.82 62.1,233.58 62.71,233.36 63.32,233.17 63.93,232.99 64.53,232.83 65.14,232.69 65.75,232.55 66.36,232.43 66.97,232.32 67.58,232.22 68.18,232.13 68.79,232.04 69.4,231.96 70.01,231.88 70.62,231.81 71.22,231.75 71.83,231.69 72.44,231.63 73.05,231.58 73.66,231.52 74.27,231.48 74.87,231.43 75.48,231.39 76.09,231.35 76.7,231.31 77.31,231.27 77.91,231.24 78.52,231.2 79.13,231.17 79.74,231.13 80.35,231.1 80.96,231.07 81.56,231.04 82.17,231.01 82.78,230.98 83.39,230.95 84,230.93 84.6,230.9 85.21,230.87 85.82,230.84 86.43,230.81 87.04,230.78 87.65,230.76 88.25,230.73 88.86,230.7 89.47,230.67 90.08,230.64 90.69,230.61 91.29,230.58 91.9,230.55 92.51,230.52 93.12,230.49 93.73,230.45 93.73,230.45 94.42,230.83 95.11,231.17 95.8,231.49 96.49,231.79 97.18,232.07 97.87,232.34 98.57,232.59 99.26,232.83 99.95,233.06 100.64,233.28 101.33,233.49 102.02,233.69 102.71,233.89 103.4,234.08 104.1,234.26 104.79,234.44 105.48,234.61 106.17,234.78 106.86,234.94 107.55,235.1 108.24,235.25 108.93,235.41 109.62,235.55 110.32,235.69 111.01,235.83 111.7,235.97 112.39,236.1 113.08,236.23 113.77,236.36 114.46,236.48 115.15,236.6 115.84,236.72 116.54,236.84 117.23,236.95 117.92,237.06 118.61,237.17 119.3,237.27 119.99,237.37 120.68,237.47 121.37,237.57 122.07,237.67 122.76,237.76 123.45,237.85 124.14,237.94 124.83,238.03 125.52,238.12 126.21,238.2 126.9,238.29 127.59,238.37 128.29,238.45 128.98,238.52 129.67,238.6 130.36,238.67 131.05,238.75 131.74,238.82 132.43,238.89 133.12,238.95 133.82,239.02 134.51,239.09 135.2,239.15 135.89,239.21 136.58,239.28 137.27,239.34 137.96,239.4 138.65,239.45 139.34,239.51 140.04,239.57 140.73,239.62 141.42,239.68 142.11,239.73 142.8,239.78 143.49,239.83 144.18,239.88 144.87,239.93 145.57,239.98 146.26,240.03 146.95,240.08 147.64,240.12 148.33,240.17 149.02,240.21 149.71,240.26 150.4,240.3 151.09,240.34 151.79,240.38 152.48,240.42 153.17,240.46 153.86,240.5 154.55,240.54 155.24,240.58 155.93,240.62 156.62,240.66 157.32,240.69 158.01,240.73 158.7,240.76 159.39,240.8 160.08,240.83 160.77,240.87 161.46,240.9 162.15,240.93 162.84,240.97 163.54,241 164.23,241.03 164.92,241.06 165.61,241.09 166.3,241.12 166.99,241.15 167.68,241.18 168.37,241.21 169.06,241.24 169.76,241.27 170.45,241.3 171.14,241.33 171.83,241.36 172.52,241.38 173.21,241.41 173.9,241.44 174.59,241.46 175.29,241.49 175.98,241.52 176.67,241.54 177.36,241.57 178.05,241.59 178.74,241.62 179.43,241.64 180.12,241.67 180.81,241.69 181.51,241.71 182.2,241.74 182.89,241.76 183.58,241.79 184.27,241.81 184.96,241.83 185.65,241.85 186.34,241.88 187.04,241.9 187.73,241.92 188.42,241.94 189.11,241.97 189.8,241.99" fill="none" stroke="#dd2b2b" stroke-width="0.6" stroke-linejoin="round" stroke-opacity="0.85"/>
<polyline points="50.9,258.95 51.08,258.12 51.26,257.34 51.43,256.59 51.61,255.06 51.79,254.41 51.97,253.8 52.15,253.21 52.32,252.66 52.5,252.13 52.68,251.63 52.86,251.15 53.04,250.69 53.21,250.26 53.39,249.85 53.57,249.45 53.75,249.08 53.93,248.72 54.11,248.38 54.28,248.05 54.46,247.74 54.64,247.44 54.82,247.15 55,246.88 55.17,246.62 55.35,246.37 55.53,246.13 55.71,245.9 55.89,245.67 56.06,245.46 56.24,245.26 56.42,245.06 56.6,244.87 56.78,244.69 56.95,244.52 57.13,244.35 57.31,244.18 57.49,244.03 57.67,243.88 57.84,243.73 57.84,243.73 58.45,243.27 59.06,242.85 59.67,242.48 60.28,242.14 60.89,241.83 61.49,241.55 62.1,241.29 62.71,241.06 63.32,240.84 63.93,240.63 64.53,240.44 65.14,240.26 65.75,240.09 66.36,239.94 66.97,239.79 67.58,239.65 68.18,239.52 68.79,239.4 69.4,239.28 70.01,239.17 70.62,239.07 71.22,238.97 71.83,238.87 72.44,238.79 73.05,238.7 73.66,238.62 74.27,238.55 74.87,238.48 75.48,238.41 76.09,238.34 76.7,238.28 77.31,238.22 77.91,238.17 78.52,238.12 79.13,238.07 79.74,238.02 80.35,237.97 80.96,237.93 81.56,237.89 82.17,237.85 82.78,237.82 83.39,237.78 84,237.75 84.6,237.72 85.21,237.69 85.82,237.66 86.43,237.64 87.04,237.61 87.65,237.59 88.25,237.56 88.86,237.54 89.47,237.52 90.08,237.5 90.69,237.48 91.29,237.47 91.9,237.45 92.51,237.43 93.12,237.42 93.73,237.41 93.73,237.41 94.42,237.62 95.11,237.78 95.8,237.9 96.49,238.01 97.18,238.1 97.87,238.19 98.57,238.26 99.26,238.34 99.95,238.41 100.64,238.48 101.33,238.55 102.02,238.61 102.71,238.68 103.4,238.74 104.1,238.81 104.79,238.87 105.48,238.94 106.17,239 106.86,239.06 107.55,239.13 108.24,239.19 108.93,239.25 109.62,239.31 110.32,239.38 111.01,239.44 111.7,239.5 112.39,239.56 113.08,239.62 113.77,239.68 114.46,239.74 115.15,239.8 115.84,239.86 116.54,239.92 117.23,239.97 117.92,240.03 118.61,240.09 119.3,240.15 119.99,240.21 120.68,240.26 121.37,240.32 122.07,240.38 122.76,240.43 123.45,240.49 124.14,240.54 124.83,240.6 125.52,240.66 126.21,240.71 126.9,240.76 127.59,240.82 128.29,240.87 128.98,240.93 129.67,240.98 130.36,241.03 131.05,241.09 131.74,241.14 132.43,241.19 133.12,241.24 133.82,241.3 134.51,241.35 135.2,241.4 135.89,241.45 136.58,241.5 137.27,241.55 137.96,241.6 138.65,241.65 139.34,241.7 140.04,241.75 140.73,241.8 141.42,241.85 142.11,241.9 142.8,241.95 143.49,241.99 144.18,242.04 144.87,242.09 145.57,242.14 146.26,242.19 146.95,242.23 147.64,242.28 148.33,242.33 149.02,242.37 149.71,242.42 150.4,242.46 151.09,242.51 151.79,242.56 152.48,242.6 153.17,242.65 153.86,242.69 154.55,242.74 155.24,242.78 155.93,242.82 156.62,242.87 157.32,242.91 158.01,242.95 158.7,243 159.39,243.04 160.08,243.08 160.77,243.13 161.46,243.17 162.15,243.21 162.84,243.25 163.54,243.29 164.23,243.34 164.92,243.38 165.61,243.42 166.3,243.46 166.99,243.5 167.68,243.54 168.37,243.58 169.06,243.62 169.76,243.66 170.45,243.7 171.14,243.74 171.83,243.78 172.52,243.82 173.21,243.86 173.9,243.89 174.59,243.93 175.29,243.97 175.98,244.01 176.67,244.05 177.36,244.09 178.05,244.12 178.74,244.16 179.43,244.2 180.12,244.23 180.81,244.27 181.51,244.31 182.2,244.34 182.89,244.38 183.58,244.42 184.27,244.45 184.96,244.49 185.65,244.52 186.34,244.56 187.04,244.59 187.73,244.63 188.42,244.66 189.11,244.7 189.8,244.73" fill="none" stroke="#dd2b2b" stroke-width="0.6" stroke-linejoin="round" stroke-opacity="0.85"/>
<polyline points="50.9,258.95 51.08,258.85 51.26,258.75 51.43,258.66 51.61,257.74 51.79,257.67 51.97,257.6 52.15,257.53 52.32,257.46 52.5,257.4 52.68,257.33 52.86,257.26 53.04,257.19 53.21,257.12 53.39,257.05 53.57,256.99 53.75,256.92 53.93,256.85 54.11,256.78 54.28,256.72 54.46,256.65 54.64,256.58 54.82,256.52 55,256.45 55.17,256.39 55.35,256.32 55.53,256.26 55.71,256.19 55.89,256.13 56.06,256.06 56.24,256 56.42,255.94 56.6,255.87 56.78,255.81 56.95,255.75 57.13,255.69 57.31,255.63 57.49,255.57 57.67,255.5 57.84,255.44 57.84,255.44 58.45,255.24 59.06,255.04 59.67,254.85 60.28,254.66 60.89,254.47 61.49,254.29 62.1,254.12 62.71,253.94 63.32,253.78 63.93,253.61 64.53,253.45 65.14,253.3 65.75,253.15 66.36,253 66.97,252.86 67.58,252.72 68.18,252.59 68.79,252.46 69.4,252.33 70.01,252.21 70.62,252.09 71.22,251.97 71.83,251.86 72.44,251.75 73.05,251.64 73.66,251.54 74.27,251.44 74.87,251.34 75.48,251.25 76.09,251.16 76.7,251.07 77.31,250.98 77.91,250.9 78.52,250.82 79.13,250.74 79.74,250.67 80.35,250.59 80.96,250.52 81.56,250.45 82.17,250.38 82.78,250.32 83.39,250.26 84,250.19 84.6,250.14 85.21,250.08 85.82,250.02 86.43,249.97 87.04,249.92 87.65,249.87 88.25,249.82 88.86,249.77 89.47,249.72 90.08,249.68 90.69,249.63 91.29,249.59 91.9,249.55 92.51,249.51 93.12,249.47 93.73,249.44 93.73,249.44 94.42,249.47 95.11,249.51 95.8,249.54 96.49,249.57 97.18,249.6 97.87,249.63 98.57,249.65 99.26,249.68 99.95,249.71 100.64,249.73 101.33,249.75 102.02,249.78 102.71,249.8 103.4,249.82 104.1,249.84 104.79,249.86 105.48,249.88 106.17,249.9 106.86,249.92 107.55,249.93 108.24,249.95 108.93,249.97 109.62,249.98 110.32,250 111.01,250.01 111.7,250.03 112.39,250.04 113.08,250.05 113.77,250.07 114.46,250.08 115.15,250.09 115.84,250.1 116.54,250.12 117.23,250.13 117.92,250.14 118.61,250.15 119.3,250.16 119.99,250.17 120.68,250.18 121.37,250.19 122.07,250.2 122.76,250.21 123.45,250.22 124.14,250.23 124.83,250.24 125.52,250.25 126.21,250.26 126.9,250.27 127.59,250.28 128.29,250.29 128.98,250.29 129.67,250.3 130.36,250.31 131.05,250.32 131.74,250.33 132.43,250.33 133.12,250.34 133.82,250.35 134.51,250.36 135.2,250.37 135.89,250.37 136.58,250.38 137.27,250.39 137.96,250.39 138.65,250.4 139.34,250.41 140.04,250.42 140.73,250.42 141.42,250.43 142.11,250.44 142.8,250.44 143.49,250.45 144.18,250.46 144.87,250.46 145.57,250.47 146.26,250.48 146.95,250.48 147.64,250.49 148.33,250.5 149.02,250.5 149.71,250.51 150.4,250.51 151.09,250.52 151.79,250.53 152.48,250.53 153.17,250.54 153.86,250.54 154.55,250.55 155.24,250.56 155.93,250.56 156.62,250.57 157.32,250.57 158.01,250.58 158.7,250.59 159.39,250.59 160.08,250.6 160.77,250.6 161.46,250.61 162.15,250.61 162.84,250.62 163.54,250.63 164.23,250.63 164.92,250.64 165.61,250.64 166.3,250.65 166.99,250.65 167.68,250.66 168.37,250.66 169.06,250.67 169.76,250.67 170.45,250.68 171.14,250.69 171.83,250.69 172.52,250.7 173.21,250.7 173.9,250.71 174.59,250.71 175.29,250.72 175.98,250.72 176.67,250.73 177.36,250.73 178.05,250.74 178.74,250.74 179.43,250.75 180.12,250.75 180.81,250.76 181.51,250.76 182.2,250.77 182.89,250.77 183.58,250.78 184.27,250.78 184.96,250.79 185.65,250.79 186.34,250.8 187.04,250.8 187.73,250.81 188.42,250.81 189.11,250.82 189.8,250.82" fill="none" stroke="#dd2b2b" stroke-width="0.6" stroke-linejoin="round" stroke-opacity="0.85"/>
<text x="236.6" y="157" font-size="16" text-anchor="start" fill="#1a1a1a">E</text>
<line x1="285.7" y1="167.82" x2="285.7" y2="260.47" stroke="#2b2b2b" stroke-width="1.15"/>
<line x1="281.7" y1="259.9" x2="285.7" y2="259.9" stroke="#2b2b2b" stroke-width="1.15"/>
<text x="280.7" y="262.85" font-size="8.2" text-anchor="end" fill="#262626" textLength="4.01" lengthAdjust="spacingAndGlyphs">0</text>
<line x1="281.7" y1="241.6" x2="285.7" y2="241.6" stroke="#2b2b2b" stroke-width="1.15"/>
<text x="280.7" y="244.55" font-size="8.2" text-anchor="end" fill="#262626" textLength="4.01" lengthAdjust="spacingAndGlyphs">5</text>
<line x1="281.7" y1="223.3" x2="285.7" y2="223.3" stroke="#2b2b2b" stroke-width="1.15"/>
<text x="280.7" y="226.25" font-size="8.2" text-anchor="end" fill="#262626" textLength="8.03" lengthAdjust="spacingAndGlyphs">10</text>
<line x1="281.7" y1="205" x2="285.7" y2="205" stroke="#2b2b2b" stroke-width="1.15"/>
<text x="280.7" y="207.95" font-size="8.2" text-anchor="end" fill="#262626" textLength="8.03" lengthAdjust="spacingAndGlyphs">15</text>
<line x1="281.7" y1="186.7" x2="285.7" y2="186.7" stroke="#2b2b2b" stroke-width="1.15"/>
<text x="280.7" y="189.65" font-size="8.2" text-anchor="end" fill="#262626" textLength="8.03" lengthAdjust="spacingAndGlyphs">20</text>
<line x1="281.7" y1="168.4" x2="285.7" y2="168.4" stroke="#2b2b2b" stroke-width="1.15"/>
<text x="280.7" y="171.35" font-size="8.2" text-anchor="end" fill="#262626" textLength="8.03" lengthAdjust="spacingAndGlyphs">25</text>
<line x1="285.12" y1="259.9" x2="423.29" y2="259.9" stroke="#2b2b2b" stroke-width="1.15"/>
<line x1="285.7" y1="259.9" x2="285.7" y2="263.7" stroke="#2b2b2b" stroke-width="1.15"/>
<text x="285.7" y="271.3" font-size="7.4" text-anchor="middle" fill="#262626" textLength="3.83" lengthAdjust="spacingAndGlyphs">0</text>
<line x1="308.54" y1="259.9" x2="308.54" y2="263.7" stroke="#2b2b2b" stroke-width="1.15"/>
<text x="308.54" y="271.3" font-size="7.4" text-anchor="middle" fill="#262626" textLength="11.48" lengthAdjust="spacingAndGlyphs">120</text>
<line x1="331.37" y1="259.9" x2="331.37" y2="263.7" stroke="#2b2b2b" stroke-width="1.15"/>
<text x="331.37" y="271.3" font-size="7.4" text-anchor="middle" fill="#262626" textLength="11.48" lengthAdjust="spacingAndGlyphs">240</text>
<line x1="354.21" y1="259.9" x2="354.21" y2="263.7" stroke="#2b2b2b" stroke-width="1.15"/>
<text x="354.21" y="271.3" font-size="7.4" text-anchor="middle" fill="#262626" textLength="11.48" lengthAdjust="spacingAndGlyphs">360</text>
<line x1="377.04" y1="259.9" x2="377.04" y2="263.7" stroke="#2b2b2b" stroke-width="1.15"/>
<text x="377.04" y="271.3" font-size="7.4" text-anchor="middle" fill="#262626" textLength="11.48" lengthAdjust="spacingAndGlyphs">480</text>
<line x1="399.88" y1="259.9" x2="399.88" y2="263.7" stroke="#2b2b2b" stroke-width="1.15"/>
<text x="399.88" y="271.3" font-size="7.4" text-anchor="middle" fill="#262626" textLength="11.48" lengthAdjust="spacingAndGlyphs">600</text>
<line x1="422.72" y1="259.9" x2="422.72" y2="263.7" stroke="#2b2b2b" stroke-width="1.15"/>
<text x="422.72" y="271.3" font-size="7.4" text-anchor="middle" fill="#262626" textLength="11.48" lengthAdjust="spacingAndGlyphs">720</text>
<text x="363.6" y="282.2" font-size="10.5" text-anchor="middle" fill="#262626" textLength="49.3" lengthAdjust="spacingAndGlyphs">Time (sec)</text>
<text x="267.4" y="216" font-size="11.0" text-anchor="middle" fill="#262626" textLength="101.7" lengthAdjust="spacingAndGlyphs" transform="rotate(-90 267.4 216)">Refraction index (au)</text>
<text x="428.7" y="201" font-size="8.2" text-anchor="start" fill="#262626">1 &#181;M</text>
<text x="428.7" y="211.9" font-size="8.2" text-anchor="start" fill="#262626">500 nM</text>
<text x="428.7" y="222.8" font-size="8.2" text-anchor="start" fill="#262626">250 nM</text>
<text x="428.7" y="233.7" font-size="8.2" text-anchor="start" fill="#262626">125 nM</text>
<text x="428.7" y="244.6" font-size="8.2" text-anchor="start" fill="#262626">62.5 nM</text>
<text x="428.7" y="255.5" font-size="8.2" text-anchor="start" fill="#262626">31.3 nM</text>
<polyline points="285.7,258.93 285.87,259.21 286.04,255.79 286.21,258.17 286.38,259.8 286.55,258.42 286.72,260.78 286.89,259.96 287.05,261.63 287.22,257.28 287.39,258.39 287.56,260.72 287.73,259.25 287.9,257.92 288.07,258.52 288.24,258.66 288.41,260.3 288.58,260.01 288.75,259.04 288.92,257.96 289.09,260.26 289.26,260.65 289.43,257.66 289.59,260.4 289.76,257.75 289.93,256.28 290.1,244.66 290.27,234.32 290.44,227.87 290.61,221.07 290.78,217.6 290.95,212.44 291.12,206.53 291.29,201.82 291.46,198.98 291.63,195.19 291.8,195.63 291.97,193.9 292.13,191.25 292.3,191.19 292.47,190.15 292.64,190.47 292.81,186.96 292.98,188.99 293.15,186.33 293.32,188.41 293.49,184.72 293.66,187.22 293.83,184.52 294,187.56 294.17,185.93 294.34,183.74 294.51,186.34 294.67,185.21 294.84,185.98 295.01,188.47 295.18,185.12 295.35,185.07 295.52,187.22 295.69,185.13 295.86,187.05 296.03,187.44 296.2,186.21 296.37,187.19 296.54,183.33 296.71,188.44 296.88,185.42 297.05,185.06 297.21,188.91 297.38,188.49 297.55,185.34 297.72,186.56 297.89,185.23 298.06,184.02 298.23,185.78 298.4,186.44 298.57,188.37 298.74,184.23 298.91,185.44 299.08,183.52 299.25,183.35 299.42,185.21 299.59,180.85 299.75,181.44 299.92,181.51 300.09,183.96 300.26,182.73 300.43,182.72 300.6,182.37 300.77,183.15 300.94,180.95 301.11,181.09 301.28,180.79 301.45,181.83 301.62,179.37 301.79,180.74 301.96,184.53 302.13,181.7 302.3,180.87 302.46,179.47 302.63,181.09 302.8,180.97 302.97,181.48 303.14,179.69 303.31,181.12 303.48,181.29 303.65,181.44 303.82,179.7 303.99,181.1 304.16,182.58 304.33,179.52 304.5,181.24 304.67,179.82 304.84,179.77 305,178.65 305.17,178.83 305.34,180.94 305.51,180.38 305.68,181.84 305.85,177.9 306.02,179.5 306.19,178.23 306.36,180.46 306.53,182.72 306.7,177.98 306.87,179.85 307.04,179.77 307.21,179.85 307.38,179.06 307.54,179.18 307.71,181.96 307.88,178.41 308.05,180.52 308.22,180.42 308.39,177.51 308.56,178.55 308.73,180.19 308.9,182.17 309.07,179.49 309.24,178.97 309.41,179.77 309.58,181.29 309.75,180.67 309.92,181.27 310.08,179.31 310.25,178.5 310.42,178.21 310.59,180.51 310.76,179.22 310.93,178.78 311.1,180.17 311.27,179.67 311.44,176.66 311.61,179.17 311.78,178.27 311.95,179.99 312.12,179.34 312.29,181.64 312.46,179.4 312.62,177.78 312.79,176.57 312.96,177.75 313.13,178.41 313.3,179.23 313.47,180.07 313.64,179.48 313.81,178.45 313.98,180.28 314.15,178 314.32,180.51 314.49,181.55 314.66,180.53 314.83,181.37 315,180.98 315.16,177.66 315.33,179.41 315.5,178.84 315.67,177.59 315.84,177.45 316.01,179.76 316.18,177.34 316.35,178.57 316.52,179.06 316.69,178.47 316.86,180.92 317.03,180.07 317.2,179.17 317.37,178.21 317.54,179.49 317.7,179.16 317.87,177.71 318.04,177.11 318.21,177.95 318.38,177.28 318.55,179.48 318.72,179.34 318.89,178.51 319.06,179.31 319.23,179.58 319.4,176.72 319.57,179.16 319.74,180.15 319.91,178.23 320.08,176.45 320.24,178.75 320.41,177.23 320.58,179.42 320.75,179.48 320.92,179.73 321.09,179.01 321.26,176.39 321.43,180.32 321.6,176.64 321.77,180.12 321.94,179.09 322.11,177.67 322.28,177.94 322.45,178.39 322.62,180.93 322.78,178.27 322.95,180.09 323.12,175.35 323.29,179.01 323.46,178.47 323.63,180.22 323.8,179.34 323.97,180.4 324.14,177.4 324.31,179.03 324.48,177.94 324.65,179.58 324.82,179.33 324.99,176.97 325.16,179.94 325.32,181.03 325.49,178.22 325.66,181.08 325.83,180.95 326,179.93 326.17,182.95 326.34,181.43 326.51,184.17 326.68,181.96 326.85,182.82 327.02,185.8 327.19,186.05 327.36,187.44 327.53,186.63 327.7,185.91 327.86,189.84 328.03,187.22 328.2,190.66 328.37,190.51 328.54,192.17 328.71,187.47 328.88,190.59 329.05,190.74 329.22,192.34 329.39,190.42 329.56,194.96 329.73,192.5 329.9,189.97 330.07,193.7 330.24,193.49 330.4,192.93 330.57,195.19 330.74,194.37 330.91,193.41 331.08,194.69 331.25,194.71 331.42,195.91 331.59,195.28 331.76,195.86 331.93,194.24 332.1,195.42 332.27,196.91 332.44,200.02 332.61,196.06 332.78,196.2 332.95,198.59 333.11,200.2 333.28,199.25 333.45,196.7 333.62,199.49 333.79,198.85 333.96,198.12 334.13,196.95 334.3,198.73 334.47,198.99 334.64,199.72 334.81,196.99 334.98,197.86 335.15,199.52 335.32,201.36 335.49,200.69 335.65,199 335.82,200.84 335.99,198.82 336.16,199.63 336.33,199.83 336.5,199.46 336.67,199.77 336.84,201.66 337.01,201.06 337.18,197.64 337.35,202.41 337.52,201.54 337.69,199.6 337.86,201.3 338.03,202.25 338.19,203 338.36,200.64 338.53,200.08 338.7,199.66 338.87,201.51 339.04,200.28 339.21,203.09 339.38,201.58 339.55,202.77 339.72,201.72 339.89,201.03 340.06,200.68 340.23,203.46 340.4,200.55 340.57,202.91 340.73,203.7 340.9,202.63 341.07,204.4 341.24,202.52 341.41,202.21 341.58,202.91 341.75,202 341.92,203.18 342.09,202.82 342.26,204.77 342.43,202.87 342.6,204.11 342.77,203.63 342.94,203.21 343.11,202.89 343.27,205.36 343.44,205.3 343.61,203.69 343.78,202.72 343.95,202.92 344.12,202.26 344.29,201.77 344.46,202.88 344.63,203.61 344.8,204.99 344.97,204.92 345.14,204.34 345.31,203.41 345.48,203.52 345.65,203.85 345.81,204.1 345.98,203.11 346.15,203.71 346.32,203.63 346.49,203.66 346.66,204.83 346.83,205.51 347,203.54 347.17,203.68 347.34,204.56 347.51,204.86 347.68,201.35 347.85,205.39 348.02,204.72 348.19,204.12 348.35,206.03 348.52,204.39 348.69,202.22 348.86,203.39 349.03,203.83 349.2,203.92 349.37,204.59 349.54,203.51 349.71,205.01 349.88,205.4 350.05,204.75 350.22,203.72 350.39,204.52 350.56,204.1 350.73,207.69 350.89,203.49 351.06,202.01 351.23,203.37 351.4,205.58 351.57,206.32 351.74,204.87 351.91,206.57 352.08,204.34 352.25,206.03 352.42,204.1 352.59,203.6 352.76,208.11 352.93,205.08 353.1,206.42 353.27,207.39 353.43,206.38 353.6,205.88 353.77,204.27 353.94,207.66 354.11,204.31 354.28,203.06 354.45,204.97 354.62,205.07 354.79,205.84 354.96,207.4 355.13,205.18 355.3,205.4 355.47,204.98 355.64,202.59 355.81,205.04 355.97,205.47 356.14,204.01 356.31,207.87 356.48,207.63 356.65,206.65 356.82,207.05 356.99,205.3 357.16,206.66 357.33,203.98 357.5,204.3 357.67,205.32 357.84,206.87 358.01,205.57 358.18,205.35 358.35,207.85 358.51,206.01 358.68,205.57 358.85,206.25 359.02,204.49 359.19,204.99 359.36,207.7 359.53,206.48 359.7,207.77 359.87,205.93 360.04,207.87 360.21,205.54 360.38,206.27 360.55,205.53 360.72,207.03 360.89,208.78 361.05,204.56 361.22,207.14 361.39,205.13 361.56,206.4 361.73,206.11 361.9,204.61 362.07,206.6 362.24,205.23 362.41,209.06 362.58,205.98 362.75,207.47 362.92,207.36 363.09,207.19 363.26,206.77 363.43,205.07 363.6,209.72 363.76,207.25 363.93,208.28 364.1,205.82 364.27,207.94 364.44,206.81 364.61,207.96 364.78,206.58 364.95,206.15 365.12,208.03 365.29,207.47 365.46,209.43 365.63,207.18 365.8,206.48 365.97,208.36 366.14,206.18 366.3,210.41 366.47,210.14 366.64,209.56 366.81,208.39 366.98,207.75 367.15,207.9 367.32,207.91 367.49,206.89 367.66,208.49 367.83,209.56 368,209.55 368.17,205.15 368.34,211.06 368.51,208.22 368.68,206.09 368.84,207.39 369.01,209.15 369.18,208.07 369.35,206.96 369.52,206.53 369.69,209.33 369.86,207.16 370.03,207.86 370.2,206.76 370.37,206.4 370.54,208.71 370.71,210.19 370.88,207.78 371.05,205.98 371.22,207.44 371.38,208.06 371.55,205.22 371.72,209.78 371.89,207.24 372.06,209.2 372.23,208.41 372.4,208.37 372.57,206.52 372.74,209.77 372.91,209.26 373.08,210.68 373.25,207.96 373.42,209.22 373.59,208.08 373.76,210.07 373.92,209.15 374.09,207.33 374.26,208.95 374.43,207.92 374.6,208.07 374.77,209.25 374.94,210.86 375.11,207.53 375.28,208.62 375.45,207.57 375.62,211.54 375.79,211.08 375.96,211.75 376.13,210.1 376.3,207.59 376.46,208.24 376.63,209.05 376.8,208.85 376.97,208.04 377.14,209.46 377.31,208.56 377.48,208.91 377.65,212 377.82,209.64 377.99,207.36 378.16,209.7 378.33,209.38 378.5,210.01 378.67,209.87 378.84,207.77 379,209.62 379.17,210.63 379.34,213.4 379.51,210.08 379.68,211.93 379.85,211.76 380.02,208.33 380.19,208.46 380.36,211.94 380.53,208.31 380.7,208.84 380.87,210.5 381.04,208.52 381.21,211.65 381.38,211.11 381.54,211.44 381.71,211.02 381.88,208.42 382.05,211.35 382.22,211.13 382.39,210.88 382.56,209.39 382.73,210.11 382.9,208.54 383.07,210.63 383.24,211.41 383.41,210.39 383.58,209.7 383.75,210.99 383.92,209.42 384.08,207.41 384.25,210.59 384.42,209.78 384.59,208.08 384.76,210.73 384.93,211.01 385.1,211.35 385.27,209.4 385.44,209.27 385.61,210.16 385.78,209.93 385.95,208.32 386.12,208.87 386.29,211.88 386.46,210.06 386.62,209.93 386.79,209.14 386.96,210.4 387.13,210.97 387.3,210.74 387.47,212.5 387.64,210.2 387.81,210.97 387.98,209.59 388.15,211.57 388.32,210.81 388.49,211.54 388.66,211.67 388.83,209.36 389,210.91 389.16,209.73 389.33,211.81 389.5,210.22 389.67,212.59 389.84,211.01 390.01,211.06 390.18,209.65 390.35,210.19 390.52,210.68 390.69,209.36 390.86,210.22 391.03,209.78 391.2,209.5 391.37,210.61 391.54,210.92 391.7,210.12 391.87,211.11 392.04,210.07 392.21,209.14 392.38,209.48 392.55,211.13 392.72,212.33 392.89,210.73 393.06,210.83 393.23,209.23 393.4,211.2 393.57,210.98 393.74,209.76 393.91,211.37 394.08,210.96 394.25,208.51 394.41,208.82 394.58,209.96 394.75,210.45 394.92,212.09 395.09,210.1 395.26,210.77 395.43,210.57 395.6,211.55 395.77,210.9 395.94,211.14 396.11,210.5 396.28,209.05 396.45,210.46 396.62,213.13 396.79,212.24 396.95,213.06 397.12,212.03 397.29,210.27 397.46,210.49 397.63,211.82 397.8,210.69 397.97,212.05 398.14,212.94 398.31,212.93 398.48,212.22 398.65,209.24 398.82,212.88 398.99,209.5 399.16,209.4 399.33,211.39 399.49,211.23 399.66,211.99 399.83,211.23 400,210.34 400.17,211.21 400.34,209.92 400.51,209.68 400.68,210.8 400.85,210.84 401.02,211.36 401.19,210.84 401.36,212.77 401.53,210.78 401.7,211.06 401.87,212.47 402.03,208.52 402.2,212.64 402.37,212.52 402.54,211.02 402.71,213.94 402.88,212.45 403.05,213.42 403.22,212.7 403.39,211.62 403.56,211.03 403.73,210.01 403.9,210.42 404.07,209.93" fill="none" stroke="#151515" stroke-width="0.85" stroke-linejoin="round"/>
<polyline points="285.7,258.46 285.87,259.85 286.04,257.77 286.21,259.88 286.38,260.05 286.55,257.23 286.72,258.2 286.89,258.95 287.05,258.25 287.22,258.08 287.39,261.03 287.56,259.36 287.73,260.79 287.9,259.08 288.07,260.12 288.24,257.45 288.41,258.56 288.58,260.31 288.75,259.27 288.92,260.84 289.09,259.19 289.26,258.52 289.43,258.89 289.59,261.78 289.76,259.68 289.93,256.6 290.1,248.01 290.27,239.34 290.44,236.12 290.61,228.24 290.78,225.1 290.95,219.98 291.12,216.28 291.29,212.99 291.46,212.16 291.63,209.02 291.8,208.98 291.97,207.73 292.13,203.8 292.3,203.45 292.47,204.52 292.64,202.66 292.81,200.78 292.98,198.13 293.15,198.26 293.32,198.11 293.49,201.1 293.66,198.52 293.83,197.45 294,197.29 294.17,197.02 294.34,197.66 294.51,194.85 294.67,195.05 294.84,196.97 295.01,198 295.18,193.89 295.35,197.21 295.52,194.81 295.69,193.77 295.86,197.45 296.03,195.74 296.2,196.51 296.37,195.3 296.54,195.49 296.71,193.29 296.88,195.02 297.05,195.75 297.21,194.2 297.38,195.99 297.55,196.07 297.72,192.59 297.89,196.57 298.06,196.09 298.23,195.34 298.4,196.75 298.57,198.09 298.74,193.88 298.91,196.27 299.08,195.91 299.25,195.65 299.42,196.41 299.59,196.49 299.75,194.83 299.92,191.85 300.09,194 300.26,193.95 300.43,196.88 300.6,194.9 300.77,196.39 300.94,193.78 301.11,195.07 301.28,194.68 301.45,194.82 301.62,195.44 301.79,196.64 301.96,193.85 302.13,196.4 302.3,196.11 302.46,194.91 302.63,195.42 302.8,194.12 302.97,193.1 303.14,194.08 303.31,194.12 303.48,194.32 303.65,193.19 303.82,196.73 303.99,193.79 304.16,195.48 304.33,195.85 304.5,194.19 304.67,194.68 304.84,193.38 305,192.67 305.17,197.16 305.34,194.17 305.51,191.47 305.68,192.88 305.85,192.1 306.02,193.85 306.19,195.85 306.36,195.42 306.53,192.98 306.7,192.63 306.87,194.84 307.04,194.21 307.21,193.49 307.38,196.12 307.54,194.25 307.71,191.64 307.88,190.87 308.05,193.88 308.22,191.3 308.39,194.39 308.56,194.75 308.73,196.61 308.9,192.38 309.07,194.12 309.24,190.52 309.41,193.15 309.58,193.32 309.75,195.93 309.92,191.56 310.08,194 310.25,193.72 310.42,196.39 310.59,192.25 310.76,192.15 310.93,194.24 311.1,193.3 311.27,192.89 311.44,192.12 311.61,193.24 311.78,191.09 311.95,193.67 312.12,194.13 312.29,193.94 312.46,196.65 312.62,194.36 312.79,191.95 312.96,192.92 313.13,194.33 313.3,192.78 313.47,195.88 313.64,193.59 313.81,192.51 313.98,192.27 314.15,194.2 314.32,191.96 314.49,190.69 314.66,193.7 314.83,192.15 315,195.17 315.16,195.69 315.33,192.28 315.5,193.02 315.67,192.81 315.84,193.83 316.01,193.43 316.18,191.97 316.35,190.76 316.52,193.3 316.69,195.18 316.86,191.32 317.03,192.19 317.2,192.08 317.37,192.73 317.54,189.89 317.7,192.85 317.87,192.26 318.04,195.37 318.21,193.68 318.38,193.82 318.55,192.94 318.72,192.43 318.89,193.87 319.06,190.59 319.23,194.27 319.4,193.45 319.57,192.54 319.74,194.49 319.91,192.08 320.08,191.99 320.24,193.21 320.41,190.3 320.58,192.7 320.75,192.43 320.92,194.06 321.09,194.99 321.26,193.61 321.43,193.19 321.6,193.36 321.77,191.74 321.94,195.89 322.11,194.24 322.28,195.14 322.45,190.96 322.62,193.47 322.78,193.39 322.95,194.16 323.12,191.52 323.29,193.24 323.46,192.4 323.63,195.37 323.8,191.13 323.97,192.15 324.14,191.94 324.31,191.03 324.48,192.91 324.65,192.87 324.82,191.7 324.99,192.07 325.16,192.95 325.32,192.57 325.49,193.34 325.66,192.14 325.83,192.26 326,193.88 326.17,191.79 326.34,196.68 326.51,195.33 326.68,193.12 326.85,196.3 327.02,198.2 327.19,194.59 327.36,196.05 327.53,198.67 327.7,196.4 327.86,199.09 328.03,199.82 328.2,198.55 328.37,199.28 328.54,200.39 328.71,199.71 328.88,200.84 329.05,199.71 329.22,200.09 329.39,199.34 329.56,201.18 329.73,202.6 329.9,202.83 330.07,201.66 330.24,199.55 330.4,200.69 330.57,202.89 330.74,201.03 330.91,204.03 331.08,201.38 331.25,203.44 331.42,202.13 331.59,202.53 331.76,203.92 331.93,203.32 332.1,205.36 332.27,204.25 332.44,202.91 332.61,199.11 332.78,203.78 332.95,204.77 333.11,206.4 333.28,203.84 333.45,207.6 333.62,206.63 333.79,205.27 333.96,207.49 334.13,204.02 334.3,204.77 334.47,207.12 334.64,207.25 334.81,208.41 334.98,208.66 335.15,206.37 335.32,206.27 335.49,206.77 335.65,207.02 335.82,208.25 335.99,207.16 336.16,209.71 336.33,207.89 336.5,206.07 336.67,206.4 336.84,208.88 337.01,208.83 337.18,206.68 337.35,206.26 337.52,210.71 337.69,209.41 337.86,208.65 338.03,207.46 338.19,210.28 338.36,208.43 338.53,209.78 338.7,206.34 338.87,209.02 339.04,209.87 339.21,210.23 339.38,208.49 339.55,209.08 339.72,211.5 339.89,209.88 340.06,212.03 340.23,211.34 340.4,212.15 340.57,212.27 340.73,211.52 340.9,211.99 341.07,210.08 341.24,209.8 341.41,211.26 341.58,212.5 341.75,210.04 341.92,213.86 342.09,213.81 342.26,210.37 342.43,210.54 342.6,210.19 342.77,211.84 342.94,213.3 343.11,212.37 343.27,211.02 343.44,212.86 343.61,212.84 343.78,213.82 343.95,213.59 344.12,211 344.29,211.58 344.46,213.78 344.63,213.74 344.8,213.12 344.97,211.71 345.14,214.04 345.31,212.78 345.48,215.46 345.65,214.35 345.81,212.18 345.98,211.61 346.15,214.39 346.32,213.94 346.49,211.92 346.66,213.55 346.83,213.8 347,212.45 347.17,212.94 347.34,211.78 347.51,212.25 347.68,214.12 347.85,213.57 348.02,213.54 348.19,215.31 348.35,214.85 348.52,212.33 348.69,215.76 348.86,212.4 349.03,213.39 349.2,214 349.37,213.15 349.54,213.28 349.71,212.36 349.88,214.53 350.05,214.35 350.22,214.42 350.39,211.65 350.56,212.94 350.73,215.45 350.89,214.72 351.06,215.25 351.23,214.35 351.4,214.13 351.57,211.42 351.74,216.91 351.91,213.18 352.08,214 352.25,215.55 352.42,214.86 352.59,215.36 352.76,214.68 352.93,213.45 353.1,216.83 353.27,213.13 353.43,215.4 353.6,212.96 353.77,214.44 353.94,213.39 354.11,214.31 354.28,213.67 354.45,215.06 354.62,216.27 354.79,214.32 354.96,214.31 355.13,212.51 355.3,217.97 355.47,215.62 355.64,213.99 355.81,217.09 355.97,215.77 356.14,212.71 356.31,213.67 356.48,216.74 356.65,213.73 356.82,214.08 356.99,214.65 357.16,215.21 357.33,215.43 357.5,216.93 357.67,216.5 357.84,214.88 358.01,215.7 358.18,213.48 358.35,216.39 358.51,219.15 358.68,216.46 358.85,215.68 359.02,215.58 359.19,216.02 359.36,217.23 359.53,214.2 359.7,217.09 359.87,215.3 360.04,216.65 360.21,217.88 360.38,214.47 360.55,219.68 360.72,217.52 360.89,215.86 361.05,216.93 361.22,215.5 361.39,216.65 361.56,217.14 361.73,213.73 361.9,216.9 362.07,216.84 362.24,218.09 362.41,217.68 362.58,215.87 362.75,216.01 362.92,216.78 363.09,217.73 363.26,215.93 363.43,219.11 363.6,217.35 363.76,217.26 363.93,218.07 364.1,216.78 364.27,217.89 364.44,218.09 364.61,214.69 364.78,216.11 364.95,215.54 365.12,217.08 365.29,215.9 365.46,216.17 365.63,215.63 365.8,214.13 365.97,217.58 366.14,216.96 366.3,217.4 366.47,221.99 366.64,219.22 366.81,217.38 366.98,216.6 367.15,218.22 367.32,215.99 367.49,215.82 367.66,218.08 367.83,215.69 368,215.28 368.17,217 368.34,218.93 368.51,215.73 368.68,217.9 368.84,218.21 369.01,217.58 369.18,218.47 369.35,216.37 369.52,216.79 369.69,216.23 369.86,217.1 370.03,218.93 370.2,218.12 370.37,216.78 370.54,218.5 370.71,214.14 370.88,218.33 371.05,218.81 371.22,216.54 371.38,217.1 371.55,218.14 371.72,218.43 371.89,217.59 372.06,217.08 372.23,217.2 372.4,218.62 372.57,217.68 372.74,217.16 372.91,217.29 373.08,222.39 373.25,219.52 373.42,219.39 373.59,218.69 373.76,218.18 373.92,217.22 374.09,217.65 374.26,218.65 374.43,218.48 374.6,216.21 374.77,219.36 374.94,218.17 375.11,216.53 375.28,218.16 375.45,221.33 375.62,218.17 375.79,219.2 375.96,218.86 376.13,217.35 376.3,218.13 376.46,219.12 376.63,217.62 376.8,218.25 376.97,218.7 377.14,218.47 377.31,218.55 377.48,219.35 377.65,219.53 377.82,218.92 377.99,220.23 378.16,220.65 378.33,217.3 378.5,219.35 378.67,219.09 378.84,219.25 379,219.07 379.17,219.09 379.34,219.05 379.51,220.22 379.68,217.95 379.85,220.11 380.02,217.86 380.19,221.77 380.36,220.66 380.53,217.98 380.7,219.5 380.87,220.21 381.04,218.85 381.21,220.74 381.38,219.29 381.54,222.33 381.71,220.02 381.88,220.3 382.05,218.76 382.22,218.33 382.39,220.63 382.56,217.41 382.73,220.33 382.9,222.28 383.07,222.72 383.24,217.58 383.41,219.74 383.58,220.5 383.75,220.65 383.92,221.12 384.08,217.92 384.25,219.83 384.42,217.38 384.59,220.02 384.76,222.88 384.93,218.69 385.1,220.3 385.27,220.15 385.44,217.79 385.61,220.22 385.78,218.36 385.95,219.92 386.12,220.92 386.29,219.28 386.46,220.76 386.62,218.37 386.79,218.74 386.96,219.94 387.13,219.24 387.3,219.32 387.47,220.44 387.64,218.92 387.81,220.41 387.98,219.32 388.15,221.4 388.32,220.03 388.49,219.64 388.66,221.24 388.83,220.77 389,220.94 389.16,219.29 389.33,221.22 389.5,219.71 389.67,218.3 389.84,219.85 390.01,222.46 390.18,220.19 390.35,219 390.52,220.77 390.69,218.95 390.86,219.61 391.03,219.89 391.2,220.8 391.37,221.15 391.54,220.83 391.7,220.42 391.87,219.83 392.04,219.99 392.21,220.95 392.38,220.49 392.55,220.08 392.72,222.75 392.89,221.63 393.06,221.69 393.23,220.92 393.4,221.03 393.57,221.03 393.74,221.85 393.91,219.83 394.08,220.37 394.25,222.91 394.41,220.75 394.58,222.27 394.75,218.55 394.92,221.41 395.09,221.35 395.26,220.73 395.43,221.12 395.6,220.95 395.77,218.85 395.94,220.61 396.11,219.82 396.28,219.45 396.45,222.24 396.62,218.74 396.79,220.08 396.95,219.74 397.12,222.15 397.29,219.95 397.46,220.5 397.63,221.77 397.8,218.07 397.97,220.35 398.14,221.42 398.31,220.87 398.48,219.94 398.65,219.66 398.82,220.4 398.99,219.58 399.16,219.26 399.33,222.84 399.49,221.87 399.66,222.48 399.83,221.13 400,219.37 400.17,220.43 400.34,222.68 400.51,221.7 400.68,219.98 400.85,222.05 401.02,221.49 401.19,220.97 401.36,223.79 401.53,220.38 401.7,220.97 401.87,220.68 402.03,222.74 402.2,222.47 402.37,222.26 402.54,221.16 402.71,221.41 402.88,221.35 403.05,219.17 403.22,219.83 403.39,222.51 403.56,222.44 403.73,219.33 403.9,222.02 404.07,219.8" fill="none" stroke="#151515" stroke-width="0.85" stroke-linejoin="round"/>
<polyline points="285.7,257.04 285.87,259.86 286.04,259.5 286.21,259.03 286.38,260.28 286.55,260.43 286.72,259.67 286.89,258.02 287.05,259.73 287.22,259.41 287.39,259.75 287.56,260.94 287.73,257.19 287.9,262.23 288.07,260 288.24,258.41 288.41,260.98 288.58,258.34 288.75,257.49 288.92,260.27 289.09,258.87 289.26,260.61 289.43,258.47 289.59,259.03 289.76,258.86 289.93,255.61 290.1,248.73 290.27,240.7 290.44,235.79 290.61,233.21 290.78,227.04 290.95,223.11 291.12,222.57 291.29,216.27 291.46,215.68 291.63,213.36 291.8,213.39 291.97,210.71 292.13,209.21 292.3,209.01 292.47,207.59 292.64,209.74 292.81,204.51 292.98,207.21 293.15,208.14 293.32,206.12 293.49,205.6 293.66,203.48 293.83,205.13 294,203.33 294.17,204.76 294.34,200.42 294.51,202.45 294.67,200.46 294.84,204.25 295.01,201.94 295.18,203.98 295.35,201.87 295.52,201.66 295.69,204.59 295.86,203.92 296.03,203.91 296.2,204.3 296.37,203.23 296.54,203.49 296.71,204.09 296.88,202.01 297.05,201.39 297.21,203.8 297.38,202.77 297.55,202 297.72,202.28 297.89,202.87 298.06,200.85 298.23,200.78 298.4,200.97 298.57,202.11 298.74,199.2 298.91,199.5 299.08,202.3 299.25,201.9 299.42,200.15 299.59,202.75 299.75,201.15 299.92,201.59 300.09,202.56 300.26,201.92 300.43,203.66 300.6,202.28 300.77,204.18 300.94,198.52 301.11,199.53 301.28,199.87 301.45,201.07 301.62,200.14 301.79,199.76 301.96,200.08 302.13,200.19 302.3,202.58 302.46,200.8 302.63,202.05 302.8,202.89 302.97,202.82 303.14,200.73 303.31,199.89 303.48,203.07 303.65,198.95 303.82,199.3 303.99,201.72 304.16,201.81 304.33,201.29 304.5,199.88 304.67,201.66 304.84,202.6 305,200.68 305.17,203.84 305.34,200.92 305.51,199.56 305.68,200.67 305.85,200.04 306.02,200.4 306.19,200.08 306.36,200.83 306.53,202.1 306.7,201.29 306.87,201.08 307.04,199.32 307.21,198.82 307.38,200.4 307.54,201.93 307.71,201.89 307.88,201.16 308.05,199.07 308.22,200.45 308.39,200.95 308.56,201.88 308.73,199.69 308.9,200.47 309.07,200.9 309.24,200.69 309.41,198.59 309.58,201.02 309.75,198.57 309.92,199.15 310.08,200.71 310.25,199.6 310.42,200.92 310.59,201.84 310.76,201.09 310.93,201.92 311.1,200.04 311.27,200.69 311.44,199.95 311.61,199.6 311.78,204.79 311.95,200.26 312.12,203.04 312.29,200.44 312.46,201.8 312.62,200.5 312.79,198.83 312.96,202.87 313.13,200.36 313.3,200.71 313.47,203.09 313.64,199.74 313.81,200.54 313.98,201.25 314.15,201.52 314.32,196.33 314.49,201.07 314.66,202.92 314.83,201.77 315,201.02 315.16,201.03 315.33,200.63 315.5,201.89 315.67,199.79 315.84,201.14 316.01,202.29 316.18,201.56 316.35,200.99 316.52,199.36 316.69,199.83 316.86,200.91 317.03,200.43 317.2,200.17 317.37,197.76 317.54,201.26 317.7,199.82 317.87,199.47 318.04,201.68 318.21,200.17 318.38,200.2 318.55,201.03 318.72,199.66 318.89,199.04 319.06,198.9 319.23,200.64 319.4,200.13 319.57,197.28 319.74,201.83 319.91,200.08 320.08,199.19 320.24,200.16 320.41,199.49 320.58,200.12 320.75,199.35 320.92,198.65 321.09,200.63 321.26,200.07 321.43,200.4 321.6,200.86 321.77,200.35 321.94,201.81 322.11,199.33 322.28,198.07 322.45,198.06 322.62,198.62 322.78,201.57 322.95,198.29 323.12,201.23 323.29,200.36 323.46,197.85 323.63,201.69 323.8,199.17 323.97,199.9 324.14,200.47 324.31,201.42 324.48,199.7 324.65,200.87 324.82,198.88 324.99,198.64 325.16,202.07 325.32,200.91 325.49,200.73 325.66,202.4 325.83,202.84 326,201.76 326.17,202.66 326.34,205.05 326.51,204.07 326.68,203.15 326.85,205.89 327.02,205.98 327.19,203.12 327.36,203.91 327.53,208.22 327.7,208.28 327.86,206.42 328.03,208.9 328.2,208.06 328.37,208.72 328.54,207.77 328.71,212.22 328.88,212.16 329.05,211.24 329.22,208.65 329.39,210.54 329.56,212.93 329.73,210.37 329.9,210.42 330.07,212 330.24,212.43 330.4,211.74 330.57,211.03 330.74,212.73 330.91,212.52 331.08,213.58 331.25,214.31 331.42,215.3 331.59,214.03 331.76,215.04 331.93,215.23 332.1,213.95 332.27,214.79 332.44,214.55 332.61,218.02 332.78,215.45 332.95,217.21 333.11,217.73 333.28,218.03 333.45,215.54 333.62,216.27 333.79,218.53 333.96,219.3 334.13,218 334.3,218.84 334.47,216.25 334.64,220.57 334.81,221.26 334.98,219.38 335.15,219.22 335.32,219.26 335.49,218.63 335.65,217.07 335.82,220.44 335.99,220.89 336.16,222.67 336.33,220.2 336.5,219.57 336.67,221.21 336.84,219.48 337.01,221.16 337.18,219.36 337.35,221.08 337.52,223.07 337.69,222.67 337.86,224 338.03,224.42 338.19,221.93 338.36,221.28 338.53,219.99 338.7,222.78 338.87,223.16 339.04,224.45 339.21,221.82 339.38,222.74 339.55,224.17 339.72,222.61 339.89,222.91 340.06,226.24 340.23,222.92 340.4,223.84 340.57,224.66 340.73,224.81 340.9,222.07 341.07,222.47 341.24,222.2 341.41,226.24 341.58,225.7 341.75,223.75 341.92,226.65 342.09,226.11 342.26,227.64 342.43,222.93 342.6,224.08 342.77,224.97 342.94,225.39 343.11,226.33 343.27,226.4 343.44,225.16 343.61,227.01 343.78,224.55 343.95,226.91 344.12,227.5 344.29,224.73 344.46,226.72 344.63,225.89 344.8,227.26 344.97,229.76 345.14,226.16 345.31,228.74 345.48,225.63 345.65,229.18 345.81,229.68 345.98,226.9 346.15,226.82 346.32,227.32 346.49,229.14 346.66,226.45 346.83,229.63 347,228.39 347.17,228.89 347.34,228.42 347.51,226.87 347.68,228.91 347.85,227.4 348.02,227.3 348.19,230.54 348.35,229.89 348.52,228.93 348.69,229.28 348.86,228.16 349.03,231.18 349.2,227.75 349.37,227.78 349.54,229.05 349.71,230.72 349.88,228.95 350.05,229.73 350.22,228.34 350.39,229.26 350.56,228.25 350.73,229.84 350.89,227.43 351.06,232.43 351.23,230.79 351.4,228.87 351.57,231.56 351.74,228.66 351.91,231.29 352.08,229.62 352.25,231.01 352.42,230.44 352.59,229.68 352.76,230.11 352.93,230.52 353.1,227.24 353.27,230.12 353.43,231.46 353.6,229.01 353.77,229.21 353.94,228.73 354.11,228.04 354.28,231.68 354.45,229.1 354.62,229.04 354.79,230.6 354.96,230.32 355.13,234.65 355.3,231.5 355.47,228.44 355.64,233.2 355.81,231.59 355.97,230.56 356.14,230.22 356.31,228.88 356.48,233.4 356.65,231.07 356.82,230.04 356.99,232.94 357.16,231.31 357.33,228.82 357.5,229.61 357.67,230.68 357.84,234.88 358.01,231.65 358.18,231.01 358.35,231.97 358.51,231.69 358.68,227.59 358.85,231.97 359.02,233.01 359.19,231.45 359.36,232.23 359.53,232.26 359.7,232.01 359.87,230.92 360.04,231.66 360.21,233.6 360.38,232.23 360.55,231.47 360.72,232.75 360.89,230.66 361.05,231.19 361.22,233.56 361.39,231.87 361.56,229.71 361.73,230.31 361.9,232.48 362.07,231.26 362.24,233.36 362.41,234.42 362.58,231.82 362.75,232.26 362.92,231.94 363.09,232.69 363.26,232.26 363.43,233.4 363.6,232.14 363.76,231.7 363.93,232.91 364.1,231.79 364.27,235.23 364.44,233.97 364.61,231.06 364.78,230.68 364.95,232.7 365.12,233.2 365.29,234.77 365.46,232.66 365.63,232.14 365.8,235.15 365.97,232.5 366.14,232.62 366.3,232.72 366.47,234.81 366.64,232.65 366.81,235.36 366.98,231.46 367.15,233.27 367.32,235.02 367.49,231.74 367.66,232.02 367.83,234.43 368,230.7 368.17,234.96 368.34,233.25 368.51,232.14 368.68,236.72 368.84,232.43 369.01,233.87 369.18,233.83 369.35,235.26 369.52,233.43 369.69,235.36 369.86,235.2 370.03,234.55 370.2,235.6 370.37,231.94 370.54,235.79 370.71,235.06 370.88,234.51 371.05,234.12 371.22,233.11 371.38,233.1 371.55,234.6 371.72,234.74 371.89,234.21 372.06,233.2 372.23,233.39 372.4,235.02 372.57,237.08 372.74,231.57 372.91,233.16 373.08,234.09 373.25,234.02 373.42,235.18 373.59,235.84 373.76,234.98 373.92,234.86 374.09,235.42 374.26,236.54 374.43,235.05 374.6,233.91 374.77,235.34 374.94,234.69 375.11,237.47 375.28,235.04 375.45,234.95 375.62,236.43 375.79,237.12 375.96,234.32 376.13,235.95 376.3,234.26 376.46,235.48 376.63,234.13 376.8,235.42 376.97,236.98 377.14,235.14 377.31,235.48 377.48,234.2 377.65,235.68 377.82,235.63 377.99,234 378.16,233.62 378.33,234.18 378.5,233.83 378.67,234.62 378.84,234.23 379,234.11 379.17,234.76 379.34,235.23 379.51,235.14 379.68,232.18 379.85,235.36 380.02,235.71 380.19,235.9 380.36,235.48 380.53,235.14 380.7,236.97 380.87,238.11 381.04,235.13 381.21,237.66 381.38,235.22 381.54,235.39 381.71,234.08 381.88,233.42 382.05,235.16 382.22,236.39 382.39,237.23 382.56,236.74 382.73,235.67 382.9,238.46 383.07,235.66 383.24,235.79 383.41,234.95 383.58,236.26 383.75,235.7 383.92,236.82 384.08,236.48 384.25,238.23 384.42,235.75 384.59,233.89 384.76,235.73 384.93,235.48 385.1,237.28 385.27,234.11 385.44,237.03 385.61,234.98 385.78,235.91 385.95,237.34 386.12,234.74 386.29,236.09 386.46,235.89 386.62,235.55 386.79,236.19 386.96,236.68 387.13,235.58 387.3,236.74 387.47,236.14 387.64,237.13 387.81,238.23 387.98,237.17 388.15,236.95 388.32,236.29 388.49,234.77 388.66,238.57 388.83,236.19 389,239.29 389.16,237.77 389.33,237.08 389.5,239.4 389.67,238.89 389.84,236.26 390.01,236.37 390.18,236.64 390.35,237.57 390.52,233.68 390.69,236.75 390.86,237.69 391.03,234.36 391.2,235.78 391.37,237.09 391.54,235.04 391.7,236.42 391.87,235.8 392.04,236.35 392.21,238.03 392.38,235.41 392.55,236.49 392.72,238.05 392.89,237.74 393.06,235.49 393.23,237.25 393.4,236.72 393.57,235.93 393.74,236.64 393.91,238.83 394.08,236 394.25,235.61 394.41,235.72 394.58,234.75 394.75,236.41 394.92,235.88 395.09,234.83 395.26,237.32 395.43,234.66 395.6,234.68 395.77,235.94 395.94,234.57 396.11,235.88 396.28,238.18 396.45,235.53 396.62,236.61 396.79,236.51 396.95,236.87 397.12,235.29 397.29,236.37 397.46,238.03 397.63,236.48 397.8,236.17 397.97,238.1 398.14,237.73 398.31,237.68 398.48,237.99 398.65,236.74 398.82,235.87 398.99,234.73 399.16,235.66 399.33,235.9 399.49,235.75 399.66,235.51 399.83,237.78 400,236.38 400.17,236.89 400.34,237.49 400.51,237.93 400.68,238.01 400.85,237.71 401.02,239 401.19,236.69 401.36,237.42 401.53,237.26 401.7,236.97 401.87,236.47 402.03,238.22 402.2,237.59 402.37,239.58 402.54,240.4 402.71,240.04 402.88,235.47 403.05,239.91 403.22,236.9 403.39,235.58 403.56,238.14 403.73,235.4 403.9,235.13 404.07,236.33" fill="none" stroke="#151515" stroke-width="0.85" stroke-linejoin="round"/>
<polyline points="285.7,256.04 285.87,258.35 286.04,260.13 286.21,258.48 286.38,259.75 286.55,260.88 286.72,260.84 286.89,256.12 287.05,259.87 287.22,259.19 287.39,260.03 287.56,258.98 287.73,259.47 287.9,259.7 288.07,260.75 288.24,261.02 288.41,260.13 288.58,258.77 288.75,256.42 288.92,257.76 289.09,256.75 289.26,258.51 289.43,259.26 289.59,260.89 289.76,259.14 289.93,260.62 290.1,251.38 290.27,243.04 290.44,239.81 290.61,234.54 290.78,232.93 290.95,231.17 291.12,227.37 291.29,225.03 291.46,221.01 291.63,218.36 291.8,220.55 291.97,218.85 292.13,217.55 292.3,216.94 292.47,217.37 292.64,214.97 292.81,214.06 292.98,213.56 293.15,215.25 293.32,213.45 293.49,215.29 293.66,211.53 293.83,213.85 294,212.66 294.17,212.72 294.34,212.74 294.51,213.23 294.67,214.05 294.84,209.33 295.01,211.18 295.18,211.08 295.35,208.59 295.52,211.42 295.69,210.49 295.86,211.14 296.03,209.55 296.2,210.4 296.37,210.6 296.54,211.31 296.71,210.56 296.88,209.36 297.05,213.6 297.21,211 297.38,211.34 297.55,211.16 297.72,213.34 297.89,209.74 298.06,211.79 298.23,210.95 298.4,211.28 298.57,212.8 298.74,211.16 298.91,212.97 299.08,211.76 299.25,210.91 299.42,210.48 299.59,210.38 299.75,210.61 299.92,207.59 300.09,209.81 300.26,211.97 300.43,211.15 300.6,211.19 300.77,210.54 300.94,211.08 301.11,211.39 301.28,208.07 301.45,210.17 301.62,210.65 301.79,210.52 301.96,210.45 302.13,208.31 302.3,209.5 302.46,208.63 302.63,214.2 302.8,209.65 302.97,208.67 303.14,207.44 303.31,209.99 303.48,212.27 303.65,209.22 303.82,210.77 303.99,212.32 304.16,210.76 304.33,208.54 304.5,208.33 304.67,208.95 304.84,211.27 305,206.56 305.17,211.4 305.34,209.94 305.51,211.73 305.68,208.08 305.85,209.21 306.02,208.62 306.19,209.65 306.36,209.85 306.53,209.52 306.7,212.22 306.87,208.41 307.04,208.5 307.21,210.21 307.38,209.7 307.54,209.27 307.71,207.59 307.88,209.08 308.05,209.58 308.22,210.29 308.39,211.59 308.56,210.38 308.73,209.49 308.9,209.91 309.07,209.46 309.24,208.57 309.41,208.97 309.58,209.17 309.75,208.65 309.92,209.26 310.08,209.54 310.25,208.87 310.42,211.76 310.59,207.82 310.76,211.16 310.93,208.35 311.1,209.42 311.27,207.97 311.44,209.37 311.61,210.66 311.78,207.99 311.95,209.15 312.12,209.23 312.29,209.27 312.46,208.05 312.62,208.28 312.79,209.05 312.96,211.38 313.13,209.86 313.3,209.18 313.47,206.95 313.64,208.8 313.81,209.42 313.98,207.72 314.15,209.43 314.32,209.31 314.49,209.06 314.66,211.24 314.83,207.99 315,208.69 315.16,209.61 315.33,210.74 315.5,208.95 315.67,207.38 315.84,210.06 316.01,210.61 316.18,208.65 316.35,211.3 316.52,212.11 316.69,209.77 316.86,210.08 317.03,209.53 317.2,209.89 317.37,208.72 317.54,209.44 317.7,209.93 317.87,209.74 318.04,208.3 318.21,207.86 318.38,207.93 318.55,208.2 318.72,213.46 318.89,210.43 319.06,209.52 319.23,208.82 319.4,211.22 319.57,207.21 319.74,208.68 319.91,209.89 320.08,208.85 320.24,209.52 320.41,210.06 320.58,208.39 320.75,209.65 320.92,210.91 321.09,209.88 321.26,209.19 321.43,210.46 321.6,207.37 321.77,210.46 321.94,206.7 322.11,207.84 322.28,210.25 322.45,208.84 322.62,207.45 322.78,209.25 322.95,210.57 323.12,208.84 323.29,206.36 323.46,210.95 323.63,208.25 323.8,208.96 323.97,209.12 324.14,209.48 324.31,209.38 324.48,207.59 324.65,208.17 324.82,210.26 324.99,206.89 325.16,210.65 325.32,208.07 325.49,208.74 325.66,207.75 325.83,209.2 326,208.61 326.17,210.37 326.34,209.38 326.51,210.53 326.68,208.48 326.85,212.54 327.02,210.37 327.19,211.64 327.36,212.32 327.53,213.61 327.7,212.57 327.86,215.4 328.03,215.55 328.2,213.1 328.37,216.37 328.54,212.71 328.71,215.24 328.88,214.83 329.05,215.33 329.22,215.14 329.39,216.33 329.56,216.71 329.73,216.65 329.9,215.36 330.07,215.5 330.24,215.57 330.4,217.01 330.57,218 330.74,220.2 330.91,217.37 331.08,217.35 331.25,219.22 331.42,217.86 331.59,217.45 331.76,219.25 331.93,218.21 332.1,219.42 332.27,222.33 332.44,220.88 332.61,221.01 332.78,219.98 332.95,222.03 333.11,221.67 333.28,222.57 333.45,221.55 333.62,221.61 333.79,220.61 333.96,221.04 334.13,222.06 334.3,222.15 334.47,222.51 334.64,222.69 334.81,220.99 334.98,226.48 335.15,223.62 335.32,223.15 335.49,222.25 335.65,225.35 335.82,223.63 335.99,223.12 336.16,225.01 336.33,227.1 336.5,225.22 336.67,226.49 336.84,224.21 337.01,226.35 337.18,223.04 337.35,225.35 337.52,226.75 337.69,226.51 337.86,227.43 338.03,225.63 338.19,224.32 338.36,226.71 338.53,225.35 338.7,227.95 338.87,226.45 339.04,223.95 339.21,228.98 339.38,225.64 339.55,225.85 339.72,230 339.89,229.55 340.06,229.07 340.23,226.64 340.4,228.6 340.57,228.38 340.73,227.35 340.9,228.25 341.07,228.23 341.24,229.07 341.41,227.29 341.58,229.91 341.75,226.79 341.92,229.56 342.09,230.28 342.26,228.49 342.43,228.85 342.6,232.17 342.77,229.37 342.94,231.55 343.11,230.97 343.27,228.95 343.44,231.22 343.61,229.72 343.78,230.79 343.95,227.84 344.12,230.61 344.29,232.13 344.46,232.14 344.63,231.97 344.8,230.71 344.97,230.97 345.14,229.79 345.31,230.93 345.48,231.08 345.65,230.91 345.81,231.6 345.98,231.13 346.15,230.57 346.32,230.65 346.49,232.49 346.66,234.19 346.83,233 347,231.65 347.17,235.38 347.34,232.81 347.51,231.67 347.68,233.09 347.85,233.9 348.02,230.19 348.19,230.75 348.35,232.99 348.52,230.99 348.69,231.09 348.86,234.37 349.03,229.42 349.2,234.26 349.37,233.44 349.54,234.61 349.71,233.13 349.88,235.04 350.05,233.38 350.22,232.01 350.39,233.22 350.56,233.92 350.73,231.6 350.89,234.88 351.06,232.49 351.23,234.23 351.4,233.61 351.57,233.92 351.74,233.85 351.91,234.15 352.08,235.17 352.25,234.95 352.42,233.68 352.59,234.46 352.76,235.91 352.93,235.37 353.1,235.41 353.27,234.62 353.43,234.37 353.6,234.54 353.77,235.58 353.94,234.75 354.11,236.63 354.28,238.68 354.45,235.01 354.62,237.17 354.79,236.29 354.96,236.68 355.13,234.31 355.3,236.79 355.47,234.88 355.64,235.94 355.81,236.97 355.97,237.47 356.14,234.83 356.31,234.98 356.48,234.52 356.65,233.17 356.82,235.27 356.99,235.31 357.16,235.89 357.33,235.63 357.5,236.28 357.67,237.04 357.84,233.28 358.01,238.4 358.18,235.66 358.35,235.45 358.51,235.88 358.68,237.39 358.85,236.41 359.02,236.81 359.19,237.66 359.36,236.35 359.53,236.86 359.7,237.09 359.87,235.51 360.04,237.84 360.21,235.91 360.38,237.33 360.55,236 360.72,236.51 360.89,236.32 361.05,237.96 361.22,237.73 361.39,237.88 361.56,236.56 361.73,235.84 361.9,235.44 362.07,237.55 362.24,236.81 362.41,239.09 362.58,239.91 362.75,238.17 362.92,237.94 363.09,239.14 363.26,239.47 363.43,236.46 363.6,238.25 363.76,239.44 363.93,234.21 364.1,237.07 364.27,237.74 364.44,236.46 364.61,238.38 364.78,235.33 364.95,239.47 365.12,239.2 365.29,237.69 365.46,238.54 365.63,235.72 365.8,239.7 365.97,238.59 366.14,237.34 366.3,236.95 366.47,236.4 366.64,237.29 366.81,234.88 366.98,238.42 367.15,237.6 367.32,236.73 367.49,238.3 367.66,238.29 367.83,238.55 368,238.81 368.17,239.47 368.34,238.74 368.51,240.08 368.68,237.57 368.84,240.19 369.01,235.41 369.18,235.91 369.35,236.72 369.52,238.47 369.69,238.99 369.86,236.64 370.03,238.03 370.2,237.56 370.37,239.26 370.54,236.94 370.71,239.41 370.88,238.25 371.05,240.68 371.22,239.29 371.38,237.8 371.55,239.07 371.72,239.09 371.89,237.49 372.06,238.64 372.23,236.94 372.4,241.76 372.57,237.86 372.74,237.97 372.91,240.68 373.08,240.38 373.25,237.54 373.42,240.12 373.59,239.57 373.76,237.97 373.92,239.21 374.09,238.17 374.26,239.96 374.43,238.45 374.6,237.44 374.77,238.45 374.94,241.78 375.11,238.06 375.28,238.86 375.45,240.14 375.62,237.14 375.79,241.28 375.96,236.55 376.13,239.86 376.3,236.98 376.46,239.12 376.63,240.83 376.8,238.98 376.97,238.68 377.14,238.43 377.31,237.76 377.48,240.35 377.65,238.54 377.82,238.24 377.99,239.58 378.16,240.47 378.33,240.51 378.5,238.29 378.67,238.24 378.84,240.4 379,241.08 379.17,237.72 379.34,241.4 379.51,239.17 379.68,240.45 379.85,241.71 380.02,239.26 380.19,239.69 380.36,237.57 380.53,236.49 380.7,239.74 380.87,238.16 381.04,238.15 381.21,240.22 381.38,240.69 381.54,237.46 381.71,240.06 381.88,239.63 382.05,240 382.22,239.8 382.39,240.44 382.56,238.68 382.73,238.03 382.9,240.18 383.07,241.51 383.24,239.65 383.41,241.68 383.58,240.59 383.75,238.15 383.92,236.73 384.08,239.3 384.25,241.2 384.42,238.8 384.59,242.78 384.76,240.76 384.93,237.86 385.1,238.9 385.27,241.7 385.44,242.08 385.61,238.8 385.78,239.99 385.95,240.72 386.12,239.42 386.29,240.73 386.46,242.51 386.62,238.94 386.79,240.86 386.96,241.34 387.13,241.79 387.3,239.72 387.47,241.12 387.64,239.26 387.81,240.44 387.98,238.69 388.15,240.62 388.32,240.99 388.49,242.73 388.66,241.6 388.83,239.22 389,236.18 389.16,241.84 389.33,241.57 389.5,239.78 389.67,239.61 389.84,241.13 390.01,240.15 390.18,242.38 390.35,240.67 390.52,239.11 390.69,238.16 390.86,240.54 391.03,240.67 391.2,239.75 391.37,238.9 391.54,239.73 391.7,241.36 391.87,239.92 392.04,239.13 392.21,241.35 392.38,242.18 392.55,239.77 392.72,239.97 392.89,239.19 393.06,240.36 393.23,241.33 393.4,241.07 393.57,241.85 393.74,241.76 393.91,241.26 394.08,241.17 394.25,239.09 394.41,242.17 394.58,240.64 394.75,241.36 394.92,238.64 395.09,240.26 395.26,241.11 395.43,239.56 395.6,240.55 395.77,241.27 395.94,238.65 396.11,239.74 396.28,238.41 396.45,239.18 396.62,239.69 396.79,240.54 396.95,242.14 397.12,239.8 397.29,240.65 397.46,239.87 397.63,240.78 397.8,241.68 397.97,242.1 398.14,239.88 398.31,239.11 398.48,241.19 398.65,240.23 398.82,239.03 398.99,241.94 399.16,241.3 399.33,242.33 399.49,239.33 399.66,240.55 399.83,241.5 400,243.08 400.17,241.15 400.34,239.62 400.51,241.33 400.68,241.51 400.85,240.12 401.02,242.58 401.19,240.91 401.36,240.21 401.53,242.02 401.7,242.09 401.87,240.7 402.03,241.16 402.2,241.35 402.37,240.78 402.54,240.77 402.71,242.28 402.88,241.95 403.05,240.5 403.22,239.63 403.39,239.34 403.56,242.23 403.73,239.7 403.9,240.14 404.07,241.19" fill="none" stroke="#151515" stroke-width="0.85" stroke-linejoin="round"/>
<polyline points="285.7,258.58 285.87,258.13 286.04,256.88 286.21,260.59 286.38,258.43 286.55,259.4 286.72,259.48 286.89,257.71 287.05,258.14 287.22,260.54 287.39,259.58 287.56,258.91 287.73,261.06 287.9,258.08 288.07,259.31 288.24,259 288.41,258.77 288.58,256.85 288.75,259.16 288.92,259.68 289.09,256.94 289.26,259.86 289.43,259.89 289.59,261.02 289.76,257.8 289.93,257.74 290.1,251.46 290.27,246.72 290.44,242.74 290.61,239.85 290.78,236.66 290.95,232.36 291.12,230.44 291.29,226.49 291.46,227.92 291.63,226.11 291.8,225.57 291.97,221.39 292.13,223.88 292.3,220.49 292.47,218.96 292.64,220.44 292.81,218.82 292.98,222.11 293.15,219.48 293.32,220.82 293.49,218.16 293.66,218.13 293.83,218.94 294,216.52 294.17,217.13 294.34,218.14 294.51,218 294.67,219.14 294.84,217.37 295.01,214.28 295.18,217.88 295.35,216.34 295.52,217.54 295.69,215.72 295.86,216.14 296.03,216.96 296.2,218.94 296.37,217.24 296.54,214.97 296.71,216.81 296.88,215.63 297.05,217.04 297.21,218.82 297.38,215.8 297.55,215.91 297.72,217.05 297.89,216.75 298.06,215.86 298.23,216.98 298.4,215.73 298.57,216.42 298.74,219.2 298.91,216.3 299.08,216.86 299.25,217.15 299.42,215.51 299.59,216.65 299.75,215.29 299.92,214.55 300.09,215.76 300.26,217.94 300.43,216.86 300.6,214.7 300.77,216.2 300.94,216.9 301.11,215.94 301.28,215.15 301.45,215.45 301.62,214.93 301.79,216.82 301.96,216.09 302.13,216.04 302.3,215.72 302.46,218.41 302.63,215.97 302.8,217.39 302.97,213.81 303.14,213.58 303.31,213.4 303.48,214.52 303.65,216.19 303.82,214.29 303.99,215.79 304.16,214.71 304.33,216.67 304.5,216.24 304.67,214.86 304.84,213.14 305,215.47 305.17,212.48 305.34,211.81 305.51,217.06 305.68,215.41 305.85,216.6 306.02,215.53 306.19,216.03 306.36,215.41 306.53,214.05 306.7,214.07 306.87,214.94 307.04,215.27 307.21,215.1 307.38,215.08 307.54,214.48 307.71,215.21 307.88,214.55 308.05,216.9 308.22,214.15 308.39,212.9 308.56,214.92 308.73,216.99 308.9,213.38 309.07,215.56 309.24,219.01 309.41,215.39 309.58,214.31 309.75,214.59 309.92,213.46 310.08,214.26 310.25,214.89 310.42,217.62 310.59,216.49 310.76,214.79 310.93,214.14 311.1,216.35 311.27,215.8 311.44,214.38 311.61,217.47 311.78,217.51 311.95,215.26 312.12,214.63 312.29,215.57 312.46,217.93 312.62,214.9 312.79,216.65 312.96,214.06 313.13,215.04 313.3,214.55 313.47,214.05 313.64,215.57 313.81,213.8 313.98,213.25 314.15,214.34 314.32,213.12 314.49,215.66 314.66,213.64 314.83,214.48 315,216.11 315.16,214.92 315.33,215.5 315.5,215.52 315.67,214.68 315.84,213.41 316.01,215.2 316.18,214.62 316.35,216.69 316.52,214.63 316.69,213.25 316.86,213.7 317.03,214.13 317.2,215.43 317.37,216.01 317.54,214.85 317.7,216.47 317.87,216.33 318.04,213.48 318.21,215.91 318.38,212.36 318.55,216.56 318.72,214.13 318.89,216.22 319.06,214.45 319.23,216.03 319.4,214.62 319.57,214.87 319.74,215.25 319.91,213.99 320.08,212.68 320.24,215.42 320.41,213.49 320.58,214.53 320.75,214.67 320.92,211.77 321.09,217.46 321.26,215.51 321.43,216.98 321.6,215.02 321.77,214.91 321.94,209.63 322.11,214.15 322.28,212.25 322.45,212.9 322.62,215.16 322.78,213.96 322.95,212.4 323.12,214.35 323.29,214.3 323.46,213.91 323.63,216.53 323.8,215.62 323.97,214.12 324.14,213.85 324.31,215.75 324.48,214.97 324.65,214.71 324.82,214.74 324.99,213.64 325.16,214.4 325.32,214.32 325.49,216.42 325.66,216.22 325.83,214.7 326,217.48 326.17,215.32 326.34,216.8 326.51,217.26 326.68,215.62 326.85,217.61 327.02,218.11 327.19,218.12 327.36,217.42 327.53,214.15 327.7,220.76 327.86,218.26 328.03,218.79 328.2,217.47 328.37,219.44 328.54,222.42 328.71,217.69 328.88,221.08 329.05,219.96 329.22,221.9 329.39,221.76 329.56,221.2 329.73,219.65 329.9,219.89 330.07,221.99 330.24,220.76 330.4,222.11 330.57,221.69 330.74,221.84 330.91,221.43 331.08,223.25 331.25,222.82 331.42,222.56 331.59,222.92 331.76,224.28 331.93,221.17 332.1,224.22 332.27,222.82 332.44,223.73 332.61,222.58 332.78,227.22 332.95,221.86 333.11,225 333.28,226.51 333.45,224.9 333.62,222.29 333.79,224.76 333.96,227.2 334.13,226.36 334.3,224.17 334.47,227.93 334.64,226.49 334.81,226.8 334.98,223.74 335.15,227.11 335.32,225.17 335.49,227.93 335.65,228.25 335.82,226.04 335.99,226.69 336.16,229.91 336.33,226.96 336.5,227.11 336.67,228.9 336.84,227.95 337.01,228.03 337.18,229.16 337.35,229.42 337.52,229.67 337.69,229.29 337.86,230.81 338.03,229.26 338.19,231.29 338.36,229.37 338.53,229.71 338.7,231.08 338.87,228.74 339.04,227.45 339.21,228.37 339.38,232.02 339.55,228.69 339.72,230.19 339.89,230.67 340.06,231.49 340.23,230.84 340.4,229.13 340.57,230.35 340.73,231.72 340.9,232.17 341.07,231.95 341.24,230.75 341.41,229.19 341.58,233.12 341.75,231.85 341.92,232.46 342.09,233.05 342.26,231.65 342.43,231.55 342.6,234.23 342.77,233.83 342.94,231.02 343.11,232.26 343.27,232.1 343.44,233.53 343.61,233.47 343.78,232.47 343.95,233.82 344.12,234.71 344.29,233.35 344.46,232.27 344.63,234.89 344.8,232.25 344.97,232.8 345.14,234.94 345.31,233.89 345.48,234.04 345.65,233.25 345.81,233.29 345.98,235.95 346.15,236.09 346.32,233.07 346.49,234.35 346.66,234.04 346.83,234.23 347,232.74 347.17,236.4 347.34,233.48 347.51,236.05 347.68,234.11 347.85,233.39 348.02,237.02 348.19,234.76 348.35,235.73 348.52,235.82 348.69,235.46 348.86,236.96 349.03,236.91 349.2,234.87 349.37,234.7 349.54,236.61 349.71,237.84 349.88,232.99 350.05,234.65 350.22,235.68 350.39,237.56 350.56,237.04 350.73,236.03 350.89,237.66 351.06,234.39 351.23,236.37 351.4,236.1 351.57,238.01 351.74,237.91 351.91,237.82 352.08,236.5 352.25,237.26 352.42,237.36 352.59,236.63 352.76,236.81 352.93,235.23 353.1,237.47 353.27,238.59 353.43,237.35 353.6,235.49 353.77,238.17 353.94,237.44 354.11,238.02 354.28,237.09 354.45,237.33 354.62,238.77 354.79,238.07 354.96,236.61 355.13,236.46 355.3,236.74 355.47,236.87 355.64,238.47 355.81,238.56 355.97,236.93 356.14,239.71 356.31,238.31 356.48,240.7 356.65,238.83 356.82,239.3 356.99,240 357.16,237.73 357.33,239.48 357.5,239.05 357.67,238.96 357.84,239.62 358.01,236.87 358.18,239.4 358.35,238.55 358.51,240.54 358.68,239.51 358.85,239.36 359.02,239.38 359.19,239.78 359.36,238.88 359.53,237.09 359.7,239.33 359.87,239.38 360.04,239.74 360.21,236 360.38,237.23 360.55,238.64 360.72,238.49 360.89,240.36 361.05,239.68 361.22,239.25 361.39,239.4 361.56,240.71 361.73,240.65 361.9,239.01 362.07,239.31 362.24,242.48 362.41,239.67 362.58,238.18 362.75,240.7 362.92,239.59 363.09,241.81 363.26,238.89 363.43,241.45 363.6,241.66 363.76,240.49 363.93,237.05 364.1,240.94 364.27,241.81 364.44,239.62 364.61,239.95 364.78,238.14 364.95,241.96 365.12,242.41 365.29,240.79 365.46,239.93 365.63,239.99 365.8,239.08 365.97,242.44 366.14,241.61 366.3,240.75 366.47,239.52 366.64,240.02 366.81,241.21 366.98,242.02 367.15,239.59 367.32,239.53 367.49,237.29 367.66,241.05 367.83,238.75 368,242.44 368.17,241.61 368.34,241.81 368.51,241.57 368.68,242.13 368.84,241.73 369.01,241.12 369.18,241.66 369.35,240.26 369.52,241.24 369.69,241.17 369.86,239.29 370.03,240.81 370.2,241.05 370.37,241.3 370.54,241.22 370.71,240.59 370.88,242.39 371.05,239.9 371.22,239.38 371.38,239.94 371.55,242.09 371.72,243.54 371.89,242.07 372.06,241.33 372.23,240.49 372.4,241.82 372.57,242 372.74,239.67 372.91,242.52 373.08,240.31 373.25,240.54 373.42,243.45 373.59,241.39 373.76,242.5 373.92,243.02 374.09,244.21 374.26,243.87 374.43,241.34 374.6,242.39 374.77,241.56 374.94,243.31 375.11,242.38 375.28,242.34 375.45,244 375.62,244.18 375.79,241.48 375.96,241.88 376.13,243.3 376.3,242.25 376.46,241.28 376.63,239.8 376.8,243.33 376.97,241.41 377.14,239.49 377.31,242.16 377.48,240.37 377.65,245.63 377.82,240.44 377.99,242.34 378.16,244.77 378.33,241.36 378.5,241.04 378.67,240.85 378.84,240.88 379,242.49 379.17,243.44 379.34,243.09 379.51,242.56 379.68,242.01 379.85,243.17 380.02,242.51 380.19,241.46 380.36,242.19 380.53,239.66 380.7,239.86 380.87,244.15 381.04,243.42 381.21,244.4 381.38,244.23 381.54,242.04 381.71,244.04 381.88,244.13 382.05,243.15 382.22,241.78 382.39,243.29 382.56,243.31 382.73,241.68 382.9,242.28 383.07,242.32 383.24,241.7 383.41,244.25 383.58,242.68 383.75,243.8 383.92,241.66 384.08,241.96 384.25,244.38 384.42,241.31 384.59,244.58 384.76,241.57 384.93,242.83 385.1,244.24 385.27,244.58 385.44,243.54 385.61,243.2 385.78,244.1 385.95,242.47 386.12,245.03 386.29,243.24 386.46,243.25 386.62,245.69 386.79,242.88 386.96,244.93 387.13,246.55 387.3,244.13 387.47,243.64 387.64,242.19 387.81,244.01 387.98,241.48 388.15,241.54 388.32,242.01 388.49,241.72 388.66,243 388.83,244.19 389,242.65 389.16,242.25 389.33,243.21 389.5,243.85 389.67,245.58 389.84,242.69 390.01,243.12 390.18,245.29 390.35,243.48 390.52,242.69 390.69,243.78 390.86,242.64 391.03,242.69 391.2,245.6 391.37,244.09 391.54,243.09 391.7,242.54 391.87,241.91 392.04,246.25 392.21,243.86 392.38,242.86 392.55,242.21 392.72,241.62 392.89,245.05 393.06,244.33 393.23,245.23 393.4,242.81 393.57,245.61 393.74,242.36 393.91,242.7 394.08,243.3 394.25,246.77 394.41,244.84 394.58,243 394.75,245.83 394.92,244.31 395.09,244.15 395.26,242.87 395.43,243.67 395.6,243.7 395.77,244.64 395.94,244.08 396.11,244.27 396.28,243.16 396.45,244.36 396.62,242.79 396.79,246.36 396.95,242.6 397.12,244.4 397.29,242.72 397.46,244.1 397.63,243.11 397.8,242.29 397.97,244.97 398.14,244.15 398.31,244.49 398.48,244.01 398.65,246.41 398.82,244.53 398.99,244.65 399.16,245.36 399.33,244.6 399.49,246.37 399.66,242.56 399.83,243.81 400,241.95 400.17,245.55 400.34,245.95 400.51,244.07 400.68,246.63 400.85,244.17 401.02,245.4 401.19,244.93 401.36,244.18 401.53,244.46 401.7,242.11 401.87,243.72 402.03,246.24 402.2,243.29 402.37,246.33 402.54,244.48 402.71,246.23 402.88,245.7 403.05,242.92 403.22,245.37 403.39,245.5 403.56,245.4 403.73,245.09 403.9,242.82 404.07,246.24" fill="none" stroke="#151515" stroke-width="0.85" stroke-linejoin="round"/>
<polyline points="285.7,260.83 285.87,258.46 286.04,261.29 286.21,259.69 286.38,257.74 286.55,259.22 286.72,259.84 286.89,260.14 287.05,260.41 287.22,259.99 287.39,259.04 287.56,257.6 287.73,257.97 287.9,259.96 288.07,260.18 288.24,258.32 288.41,261.59 288.58,259.8 288.75,259.65 288.92,260.67 289.09,260.52 289.26,258.78 289.43,261.38 289.59,260.42 289.76,260.08 289.93,258.19 290.1,254.64 290.27,246.8 290.44,244.65 290.61,241.21 290.78,238.46 290.95,236.4 291.12,234.7 291.29,230.13 291.46,229.83 291.63,228.92 291.8,226.37 291.97,227.62 292.13,225.06 292.3,225.14 292.47,225.72 292.64,223.05 292.81,225.54 292.98,222.36 293.15,224.02 293.32,222.05 293.49,220.54 293.66,221.38 293.83,222.71 294,221.79 294.17,222.09 294.34,223.01 294.51,222.81 294.67,221.21 294.84,220.48 295.01,223.39 295.18,221.12 295.35,220.3 295.52,220.76 295.69,222.14 295.86,219.45 296.03,222.32 296.2,219.86 296.37,218.59 296.54,223.27 296.71,220.25 296.88,220.15 297.05,220.23 297.21,221.48 297.38,220.86 297.55,222.24 297.72,220.23 297.89,219.68 298.06,221.21 298.23,221.52 298.4,220.91 298.57,220.28 298.74,220.17 298.91,220.36 299.08,220.11 299.25,221.87 299.42,223.69 299.59,219.33 299.75,218.27 299.92,221.92 300.09,220.93 300.26,219.66 300.43,218.79 300.6,219.17 300.77,218.33 300.94,220.04 301.11,219.41 301.28,219.4 301.45,220.47 301.62,218.34 301.79,219.07 301.96,218.59 302.13,220.34 302.3,218.49 302.46,221.16 302.63,219.28 302.8,223.14 302.97,221.05 303.14,218.78 303.31,220.3 303.48,219.48 303.65,221.78 303.82,217.67 303.99,218.89 304.16,219.67 304.33,219.09 304.5,219.19 304.67,217.77 304.84,219.3 305,221.46 305.17,219.88 305.34,217.88 305.51,218.79 305.68,220.05 305.85,218.71 306.02,219.33 306.19,218.68 306.36,221.5 306.53,220.6 306.7,218.57 306.87,219.7 307.04,218.95 307.21,216.87 307.38,219.78 307.54,219.06 307.71,220.07 307.88,220.15 308.05,219.43 308.22,221.19 308.39,222.02 308.56,217.54 308.73,219.42 308.9,217.83 309.07,219.11 309.24,219.06 309.41,218.38 309.58,218.31 309.75,220.77 309.92,217.66 310.08,220.46 310.25,218.93 310.42,215.89 310.59,219.07 310.76,217.02 310.93,219.6 311.1,218.36 311.27,219.07 311.44,218.59 311.61,220.22 311.78,220.29 311.95,218.67 312.12,221.11 312.29,220.17 312.46,218.25 312.62,219.86 312.79,220.2 312.96,220.48 313.13,218.86 313.3,219.51 313.47,218.84 313.64,219.26 313.81,216.63 313.98,219.57 314.15,221.52 314.32,218.84 314.49,218.98 314.66,218.78 314.83,221.04 315,217.51 315.16,219 315.33,219.01 315.5,220.98 315.67,218.33 315.84,219.01 316.01,217.19 316.18,219.45 316.35,220.5 316.52,218.74 316.69,220.07 316.86,218.36 317.03,220.28 317.2,219.05 317.37,219.17 317.54,218.91 317.7,219.52 317.87,219.9 318.04,218.93 318.21,219.59 318.38,218.65 318.55,219.19 318.72,221.71 318.89,218.91 319.06,217.04 319.23,218.43 319.4,218.05 319.57,218.22 319.74,219.4 319.91,220.5 320.08,217.76 320.24,217.44 320.41,218.06 320.58,218.24 320.75,218.27 320.92,218.81 321.09,218.42 321.26,218.75 321.43,218.34 321.6,219.96 321.77,219.55 321.94,218.02 322.11,219.17 322.28,221.82 322.45,218.57 322.62,221.64 322.78,216.29 322.95,217.81 323.12,217.86 323.29,219.56 323.46,220.14 323.63,218.97 323.8,218.68 323.97,219.67 324.14,218.49 324.31,217.82 324.48,217.92 324.65,220 324.82,221.42 324.99,218.67 325.16,219.51 325.32,218.1 325.49,216.62 325.66,216.9 325.83,218.88 326,218.11 326.17,217.7 326.34,219.98 326.51,219.96 326.68,219.48 326.85,220.86 327.02,221.7 327.19,222.26 327.36,221.55 327.53,222.59 327.7,221.04 327.86,222.7 328.03,220.67 328.2,221.23 328.37,224.55 328.54,221.85 328.71,223.95 328.88,221.93 329.05,223.24 329.22,224.16 329.39,223.47 329.56,225.23 329.73,224.33 329.9,224.47 330.07,225.35 330.24,224.88 330.4,226.83 330.57,225.07 330.74,227.49 330.91,225.38 331.08,225.77 331.25,225.66 331.42,227.44 331.59,223.12 331.76,227.4 331.93,227.11 332.1,228.43 332.27,225.87 332.44,228.43 332.61,226.77 332.78,229.38 332.95,227.98 333.11,229.01 333.28,227.54 333.45,229.24 333.62,230.13 333.79,228.64 333.96,230.87 334.13,230.73 334.3,228.73 334.47,232.19 334.64,229.06 334.81,230.67 334.98,231.46 335.15,230.17 335.32,229.83 335.49,231.5 335.65,231.14 335.82,230.06 335.99,230.27 336.16,231.41 336.33,232.45 336.5,232.81 336.67,232.52 336.84,231.06 337.01,231.33 337.18,231.8 337.35,230.58 337.52,232.82 337.69,233.05 337.86,233.19 338.03,230.46 338.19,235.53 338.36,232.73 338.53,232.66 338.7,233.26 338.87,230.55 339.04,232.12 339.21,232.74 339.38,234.94 339.55,233.32 339.72,234.52 339.89,234.12 340.06,234.04 340.23,235 340.4,233.73 340.57,232.6 340.73,233.45 340.9,234.58 341.07,237.35 341.24,233.71 341.41,233.83 341.58,235.51 341.75,235.97 341.92,234.66 342.09,236.59 342.26,234.7 342.43,237.13 342.6,237.03 342.77,235.97 342.94,237.89 343.11,236.18 343.27,235.62 343.44,238.01 343.61,235.32 343.78,237.26 343.95,235.98 344.12,236.49 344.29,237.41 344.46,237.58 344.63,239.14 344.8,237.98 344.97,238.16 345.14,235.26 345.31,236.12 345.48,239.16 345.65,236.56 345.81,237.36 345.98,238.19 346.15,237.23 346.32,236.91 346.49,238.68 346.66,238.39 346.83,237.93 347,239.43 347.17,238.07 347.34,238.48 347.51,239.29 347.68,239.57 347.85,238.23 348.02,237.61 348.19,238.36 348.35,239.9 348.52,237.99 348.69,238.78 348.86,238.33 349.03,237.7 349.2,240.32 349.37,239.45 349.54,240.09 349.71,240.5 349.88,237.02 350.05,238.41 350.22,241.81 350.39,239.18 350.56,240.46 350.73,238.43 350.89,239.81 351.06,240.19 351.23,239.87 351.4,239.64 351.57,240.14 351.74,240.51 351.91,240.48 352.08,239.74 352.25,241.83 352.42,240.5 352.59,240.71 352.76,241.22 352.93,239.78 353.1,242.34 353.27,241.26 353.43,241.92 353.6,240.26 353.77,241.57 353.94,240.99 354.11,240.64 354.28,243.14 354.45,240.67 354.62,242.21 354.79,241.66 354.96,241.54 355.13,240.46 355.3,240.61 355.47,239.4 355.64,241.41 355.81,242.27 355.97,242.36 356.14,240.99 356.31,239.88 356.48,241.48 356.65,242.67 356.82,241.67 356.99,241.75 357.16,242.08 357.33,243.08 357.5,245.35 357.67,242.94 357.84,241.03 358.01,242.12 358.18,245.15 358.35,242.47 358.51,244.8 358.68,240.13 358.85,242.4 359.02,244.16 359.19,241.75 359.36,243.74 359.53,242.14 359.7,242.85 359.87,244.38 360.04,242.16 360.21,244.67 360.38,241.42 360.55,243.04 360.72,244.43 360.89,245.44 361.05,241.27 361.22,241.52 361.39,244.9 361.56,241.37 361.73,243.24 361.9,243.76 362.07,243.64 362.24,243.91 362.41,241.86 362.58,243.48 362.75,245.98 362.92,241.18 363.09,242.72 363.26,245.18 363.43,244.33 363.6,245.04 363.76,243.92 363.93,243.53 364.1,243.77 364.27,244.84 364.44,245.13 364.61,243.15 364.78,244.35 364.95,241.5 365.12,245.31 365.29,243.38 365.46,244.34 365.63,245.37 365.8,242.8 365.97,244.37 366.14,245.66 366.3,244.99 366.47,243.39 366.64,246.19 366.81,243.02 366.98,243.92 367.15,245.14 367.32,243.17 367.49,242.72 367.66,244.18 367.83,244.75 368,242.72 368.17,243.19 368.34,246.21 368.51,245.37 368.68,245.41 368.84,245.69 369.01,247.07 369.18,244.15 369.35,245.2 369.52,245.22 369.69,243.64 369.86,246.11 370.03,245.52 370.2,245.15 370.37,246.06 370.54,245.7 370.71,244.65 370.88,245.64 371.05,244.03 371.22,246.63 371.38,245.49 371.55,247.54 371.72,245.96 371.89,246.72 372.06,244.2 372.23,245 372.4,245.33 372.57,243.71 372.74,244.24 372.91,245.17 373.08,246.95 373.25,247.92 373.42,246.21 373.59,246.64 373.76,247.04 373.92,246.63 374.09,248.36 374.26,244.49 374.43,247.79 374.6,247.24 374.77,245.74 374.94,248.5 375.11,245.37 375.28,245.38 375.45,246.97 375.62,247.95 375.79,247.23 375.96,248.98 376.13,244.99 376.3,246.68 376.46,247.7 376.63,247.94 376.8,246.13 376.97,245.01 377.14,248.5 377.31,247.66 377.48,249.17 377.65,246.17 377.82,246.85 377.99,244.26 378.16,247.26 378.33,247.68 378.5,248.06 378.67,246.14 378.84,249.27 379,246.33 379.17,246.99 379.34,247.96 379.51,248.49 379.68,246.08 379.85,245.11 380.02,248.02 380.19,246.83 380.36,245.35 380.53,248.33 380.7,247.9 380.87,249.14 381.04,247.83 381.21,247.78 381.38,248.23 381.54,248.67 381.71,249.75 381.88,249.49 382.05,249.06 382.22,247.06 382.39,248.53 382.56,248.99 382.73,247.14 382.9,247.28 383.07,248.96 383.24,248.83 383.41,247.25 383.58,247.65 383.75,249.19 383.92,247.87 384.08,248.24 384.25,246.84 384.42,249.35 384.59,247.19 384.76,247.78 384.93,249.62 385.1,247.06 385.27,247.27 385.44,250.1 385.61,245.98 385.78,249.94 385.95,249.69 386.12,248.97 386.29,247.62 386.46,247.89 386.62,248.77 386.79,246.96 386.96,248.2 387.13,246.98 387.3,245.22 387.47,248.55 387.64,252.07 387.81,249.43 387.98,250.24 388.15,248.8 388.32,248.82 388.49,250.52 388.66,250.46 388.83,249.37 389,249.31 389.16,252.39 389.33,247.89 389.5,249.11 389.67,249.19 389.84,248.83 390.01,250.53 390.18,249.33 390.35,247.97 390.52,247.95 390.69,248.76 390.86,249.73 391.03,250.45 391.2,247.75 391.37,248.8 391.54,250.03 391.7,252.29 391.87,250.66 392.04,252.04 392.21,248.01 392.38,249.39 392.55,250.62 392.72,250.05 392.89,246.39 393.06,248.19 393.23,251.5 393.4,249.97 393.57,251.41 393.74,252.08 393.91,249.67 394.08,246.81 394.25,247.94 394.41,249.92 394.58,250.49 394.75,249.77 394.92,248.72 395.09,251.97 395.26,252.53 395.43,247.71 395.6,249.81 395.77,248.12 395.94,249.92 396.11,248.34 396.28,251.07 396.45,249.66 396.62,248.32 396.79,249.04 396.95,250.99 397.12,249.26 397.29,251.31 397.46,252.33 397.63,249.82 397.8,248.71 397.97,249.45 398.14,252.22 398.31,249.48 398.48,249.76 398.65,251.27 398.82,253.93 398.99,249.4 399.16,249.59 399.33,250.13 399.49,253.06 399.66,252.78 399.83,249.54 400,249.84 400.17,250.27 400.34,251.26 400.51,250.45 400.68,251.7 400.85,251.43 401.02,252.18 401.19,250.74 401.36,251.65 401.53,249.89 401.7,250.22 401.87,252.25 402.03,248.81 402.2,252.71 402.37,250.68 402.54,249.87 402.71,249.64 402.88,254.24 403.05,250.06 403.22,249.8 403.39,249.54 403.56,254.38 403.73,252.37 403.9,251.64 404.07,252.12" fill="none" stroke="#151515" stroke-width="0.85" stroke-linejoin="round"/>
<polyline points="285.7,259.9 286.75,259.9 287.79,259.9 288.84,259.9 289.89,259.9 289.89,259.9 290.34,235.2 290.79,218.56 291.24,207.34 291.69,199.77 292.14,194.68 292.59,191.24 293.04,188.93 293.49,187.36 293.94,186.31 294.39,185.6 294.84,185.13 295.29,184.8 295.74,184.59 296.19,184.44 296.64,184.34 297.09,184.28 297.54,184.23 297.99,184.2 298.45,184.18 298.9,184.17 299.35,184.16 299.8,184.15 300.25,184.15 300.7,184.14 301.15,184.14 301.6,184.14 302.05,184.14 302.5,184.14 302.95,184.14 303.4,184.14 303.85,184.14 304.3,184.14 304.75,184.14 305.2,184.14 305.65,184.14 306.1,184.14 306.55,184.14 307,184.14 307.45,184.14 307.9,184.14 308.36,184.14 308.81,184.14 309.26,184.14 309.71,184.14 310.16,184.14 310.61,184.14 311.06,184.14 311.51,184.14 311.96,184.14 312.41,184.14 312.86,184.14 313.31,184.14 313.76,184.14 314.21,184.14 314.66,184.14 315.11,184.14 315.56,184.14 316.01,184.14 316.46,184.14 316.91,184.14 317.36,184.14 317.81,184.14 318.27,184.14 318.72,184.14 319.17,184.14 319.62,184.14 320.07,184.14 320.52,184.14 320.97,184.14 321.42,184.14 321.87,184.14 322.32,184.14 322.77,184.14 323.22,184.14 323.67,184.14 324.12,184.14 324.57,184.14 325.02,184.14 325.47,184.14 325.47,184.14 326.13,185.83 326.79,187.36 327.45,188.73 328.11,189.98 328.77,191.1 329.44,192.12 330.1,193.04 330.76,193.88 331.42,194.65 332.08,195.35 332.74,195.99 333.4,196.57 334.06,197.11 334.72,197.61 335.38,198.06 336.04,198.49 336.7,198.88 337.36,199.24 338.02,199.58 338.68,199.9 339.34,200.2 340,200.48 340.66,200.75 341.32,201 341.98,201.23 342.64,201.46 343.3,201.67 343.97,201.88 344.63,202.07 345.29,202.26 345.95,202.44 346.61,202.62 347.27,202.79 347.93,202.95 348.59,203.11 349.25,203.26 349.91,203.41 350.57,203.55 351.23,203.69 351.89,203.83 352.55,203.97 353.21,204.1 353.87,204.22 354.53,204.35 355.19,204.47 355.85,204.59 356.51,204.71 357.17,204.83 357.83,204.94 358.5,205.05 359.16,205.16 359.82,205.27 360.48,205.38 361.14,205.48 361.8,205.58 362.46,205.69 363.12,205.79 363.78,205.88 364.44,205.98 365.1,206.08 365.76,206.17 366.42,206.26 367.08,206.36 367.74,206.45 368.4,206.53 369.06,206.62 369.72,206.71 370.38,206.79 371.04,206.88 371.7,206.96 372.36,207.04 373.03,207.12 373.69,207.2 374.35,207.28 375.01,207.36 375.67,207.44 376.33,207.51 376.99,207.59 377.65,207.66 378.31,207.73 378.97,207.81 379.63,207.88 380.29,207.95 380.95,208.02 381.61,208.08 382.27,208.15 382.93,208.22 383.59,208.28 384.25,208.35 384.91,208.41 385.57,208.47 386.23,208.54 386.89,208.6 387.56,208.66 388.22,208.72 388.88,208.78 389.54,208.84 390.2,208.89 390.86,208.95 391.52,209.01 392.18,209.06 392.84,209.12 393.5,209.17 394.16,209.22 394.82,209.28 395.48,209.33 396.14,209.38 396.8,209.43 397.46,209.48 398.12,209.53 398.78,209.58 399.44,209.62 400.1,209.67 400.76,209.72 401.42,209.76 402.09,209.81 402.75,209.86 403.41,209.9 404.07,209.94" fill="none" stroke="#dd2b2b" stroke-width="0.65" stroke-linejoin="round"/>
<polyline points="285.7,259.9 286.75,259.9 287.79,259.9 288.84,259.9 289.89,259.9 289.89,259.9 290.34,247.98 290.79,238.18 291.24,230.15 291.69,223.55 292.14,218.13 292.59,213.68 293.04,210.03 293.49,207.04 293.94,204.57 294.39,202.55 294.84,200.89 295.29,199.53 295.74,198.42 296.19,197.5 296.64,196.74 297.09,196.13 297.54,195.62 297.99,195.2 298.45,194.86 298.9,194.58 299.35,194.35 299.8,194.16 300.25,194 300.7,193.87 301.15,193.77 301.6,193.68 302.05,193.61 302.5,193.55 302.95,193.51 303.4,193.47 303.85,193.44 304.3,193.41 304.75,193.39 305.2,193.37 305.65,193.35 306.1,193.34 306.55,193.33 307,193.32 307.45,193.32 307.9,193.31 308.36,193.31 308.81,193.3 309.26,193.3 309.71,193.3 310.16,193.3 310.61,193.3 311.06,193.29 311.51,193.29 311.96,193.29 312.41,193.29 312.86,193.29 313.31,193.29 313.76,193.29 314.21,193.29 314.66,193.29 315.11,193.29 315.56,193.29 316.01,193.29 316.46,193.29 316.91,193.29 317.36,193.29 317.81,193.29 318.27,193.29 318.72,193.29 319.17,193.29 319.62,193.29 320.07,193.29 320.52,193.29 320.97,193.29 321.42,193.29 321.87,193.29 322.32,193.29 322.77,193.29 323.22,193.29 323.67,193.29 324.12,193.29 324.57,193.29 325.02,193.29 325.47,193.29 325.47,193.29 326.13,194.52 326.79,195.68 327.45,196.76 328.11,197.78 328.77,198.73 329.44,199.63 330.1,200.47 330.76,201.26 331.42,202 332.08,202.7 332.74,203.36 333.4,203.98 334.06,204.56 334.72,205.12 335.38,205.64 336.04,206.13 336.7,206.6 337.36,207.05 338.02,207.47 338.68,207.87 339.34,208.24 340,208.6 340.66,208.95 341.32,209.28 341.98,209.59 342.64,209.89 343.3,210.17 343.97,210.44 344.63,210.7 345.29,210.96 345.95,211.2 346.61,211.43 347.27,211.65 347.93,211.86 348.59,212.07 349.25,212.27 349.91,212.46 350.57,212.65 351.23,212.83 351.89,213 352.55,213.17 353.21,213.33 353.87,213.49 354.53,213.65 355.19,213.8 355.85,213.95 356.51,214.09 357.17,214.23 357.83,214.37 358.5,214.5 359.16,214.63 359.82,214.76 360.48,214.88 361.14,215 361.8,215.12 362.46,215.24 363.12,215.36 363.78,215.47 364.44,215.58 365.1,215.69 365.76,215.8 366.42,215.9 367.08,216.01 367.74,216.11 368.4,216.21 369.06,216.31 369.72,216.41 370.38,216.5 371.04,216.6 371.7,216.69 372.36,216.78 373.03,216.87 373.69,216.96 374.35,217.05 375.01,217.14 375.67,217.23 376.33,217.31 376.99,217.4 377.65,217.48 378.31,217.56 378.97,217.64 379.63,217.72 380.29,217.8 380.95,217.88 381.61,217.96 382.27,218.04 382.93,218.11 383.59,218.19 384.25,218.26 384.91,218.33 385.57,218.41 386.23,218.48 386.89,218.55 387.56,218.62 388.22,218.69 388.88,218.76 389.54,218.83 390.2,218.89 390.86,218.96 391.52,219.03 392.18,219.09 392.84,219.16 393.5,219.22 394.16,219.28 394.82,219.35 395.48,219.41 396.14,219.47 396.8,219.53 397.46,219.59 398.12,219.65 398.78,219.71 399.44,219.77 400.1,219.83 400.76,219.89 401.42,219.94 402.09,220 402.75,220.05 403.41,220.11 404.07,220.16" fill="none" stroke="#dd2b2b" stroke-width="0.65" stroke-linejoin="round"/>
<polyline points="285.7,259.9 286.75,259.9 287.79,259.9 288.84,259.9 289.89,259.9 289.89,259.9 290.34,249.35 290.79,240.69 291.24,233.58 291.69,227.74 292.14,222.95 292.59,219.02 293.04,215.79 293.49,213.13 293.94,210.96 294.39,209.17 294.84,207.7 295.29,206.5 295.74,205.51 296.19,204.7 296.64,204.03 297.09,203.48 297.54,203.03 297.99,202.67 298.45,202.36 298.9,202.11 299.35,201.91 299.8,201.74 300.25,201.6 300.7,201.49 301.15,201.4 301.6,201.32 302.05,201.26 302.5,201.21 302.95,201.17 303.4,201.13 303.85,201.1 304.3,201.08 304.75,201.06 305.2,201.05 305.65,201.03 306.1,201.02 306.55,201.01 307,201.01 307.45,201 307.9,201 308.36,200.99 308.81,200.99 309.26,200.99 309.71,200.98 310.16,200.98 310.61,200.98 311.06,200.98 311.51,200.98 311.96,200.98 312.41,200.98 312.86,200.98 313.31,200.98 313.76,200.98 314.21,200.98 314.66,200.98 315.11,200.97 315.56,200.97 316.01,200.97 316.46,200.97 316.91,200.97 317.36,200.97 317.81,200.97 318.27,200.97 318.72,200.97 319.17,200.97 319.62,200.97 320.07,200.97 320.52,200.97 320.97,200.97 321.42,200.97 321.87,200.97 322.32,200.97 322.77,200.97 323.22,200.97 323.67,200.97 324.12,200.97 324.57,200.97 325.02,200.97 325.47,200.97 325.47,200.97 326.13,203.06 326.79,204.99 327.45,206.78 328.11,208.44 328.77,209.98 329.44,211.41 330.1,212.74 330.76,213.97 331.42,215.13 332.08,216.2 332.74,217.2 333.4,218.14 334.06,219.01 334.72,219.83 335.38,220.6 336.04,221.32 336.7,222 337.36,222.64 338.02,223.24 338.68,223.8 339.34,224.34 340,224.84 340.66,225.32 341.32,225.78 341.98,226.21 342.64,226.62 343.3,227.01 343.97,227.38 344.63,227.73 345.29,228.07 345.95,228.39 346.61,228.7 347.27,229 347.93,229.28 348.59,229.56 349.25,229.82 349.91,230.07 350.57,230.32 351.23,230.55 351.89,230.78 352.55,231 353.21,231.21 353.87,231.42 354.53,231.62 355.19,231.81 355.85,232 356.51,232.18 357.17,232.36 357.83,232.53 358.5,232.7 359.16,232.86 359.82,233.02 360.48,233.17 361.14,233.32 361.8,233.47 362.46,233.61 363.12,233.75 363.78,233.89 364.44,234.03 365.1,234.16 365.76,234.28 366.42,234.41 367.08,234.53 367.74,234.65 368.4,234.77 369.06,234.88 369.72,235 370.38,235.11 371.04,235.22 371.7,235.32 372.36,235.42 373.03,235.53 373.69,235.63 374.35,235.72 375.01,235.82 375.67,235.91 376.33,236.01 376.99,236.1 377.65,236.18 378.31,236.27 378.97,236.36 379.63,236.44 380.29,236.52 380.95,236.6 381.61,236.68 382.27,236.76 382.93,236.84 383.59,236.91 384.25,236.99 384.91,237.06 385.57,237.13 386.23,237.2 386.89,237.27 387.56,237.33 388.22,237.4 388.88,237.46 389.54,237.53 390.2,237.59 390.86,237.65 391.52,237.71 392.18,237.77 392.84,237.83 393.5,237.89 394.16,237.94 394.82,238 395.48,238.05 396.14,238.1 396.8,238.16 397.46,238.21 398.12,238.26 398.78,238.31 399.44,238.36 400.1,238.4 400.76,238.45 401.42,238.5 402.09,238.54 402.75,238.59 403.41,238.63 404.07,238.67" fill="none" stroke="#dd2b2b" stroke-width="0.65" stroke-linejoin="round"/>
<polyline points="285.7,259.9 286.75,259.9 287.79,259.9 288.84,259.9 289.89,259.9 289.89,259.9 290.34,250.92 290.79,243.55 291.24,237.5 291.69,232.54 292.14,228.46 292.59,225.11 293.04,222.36 293.49,220.11 293.94,218.25 294.39,216.73 294.84,215.48 295.29,214.46 295.74,213.62 296.19,212.93 296.64,212.36 297.09,211.89 297.54,211.51 297.99,211.2 298.45,210.94 298.9,210.73 299.35,210.55 299.8,210.41 300.25,210.29 300.7,210.2 301.15,210.12 301.6,210.06 302.05,210 302.5,209.96 302.95,209.92 303.4,209.89 303.85,209.87 304.3,209.85 304.75,209.83 305.2,209.82 305.65,209.81 306.1,209.8 306.55,209.79 307,209.79 307.45,209.78 307.9,209.78 308.36,209.77 308.81,209.77 309.26,209.77 309.71,209.77 310.16,209.77 310.61,209.76 311.06,209.76 311.51,209.76 311.96,209.76 312.41,209.76 312.86,209.76 313.31,209.76 313.76,209.76 314.21,209.76 314.66,209.76 315.11,209.76 315.56,209.76 316.01,209.76 316.46,209.76 316.91,209.76 317.36,209.76 317.81,209.76 318.27,209.76 318.72,209.76 319.17,209.76 319.62,209.76 320.07,209.76 320.52,209.76 320.97,209.76 321.42,209.76 321.87,209.76 322.32,209.76 322.77,209.76 323.22,209.76 323.67,209.76 324.12,209.76 324.57,209.76 325.02,209.76 325.47,209.76 325.47,209.76 326.13,211.12 326.79,212.43 327.45,213.67 328.11,214.85 328.77,215.98 329.44,217.06 330.1,218.09 330.76,219.07 331.42,220.01 332.08,220.91 332.74,221.76 333.4,222.58 334.06,223.36 334.72,224.1 335.38,224.81 336.04,225.49 336.7,226.13 337.36,226.75 338.02,227.35 338.68,227.91 339.34,228.45 340,228.97 340.66,229.46 341.32,229.93 341.98,230.39 342.64,230.82 343.3,231.23 343.97,231.63 344.63,232.01 345.29,232.37 345.95,232.72 346.61,233.05 347.27,233.37 347.93,233.67 348.59,233.97 349.25,234.25 349.91,234.52 350.57,234.78 351.23,235.03 351.89,235.26 352.55,235.49 353.21,235.71 353.87,235.93 354.53,236.13 355.19,236.33 355.85,236.51 356.51,236.69 357.17,236.87 357.83,237.04 358.5,237.2 359.16,237.36 359.82,237.51 360.48,237.65 361.14,237.79 361.8,237.93 362.46,238.06 363.12,238.19 363.78,238.31 364.44,238.43 365.1,238.54 365.76,238.65 366.42,238.76 367.08,238.86 367.74,238.97 368.4,239.06 369.06,239.16 369.72,239.25 370.38,239.34 371.04,239.43 371.7,239.52 372.36,239.6 373.03,239.68 373.69,239.76 374.35,239.84 375.01,239.91 375.67,239.98 376.33,240.06 376.99,240.13 377.65,240.2 378.31,240.26 378.97,240.33 379.63,240.39 380.29,240.46 380.95,240.52 381.61,240.58 382.27,240.64 382.93,240.7 383.59,240.75 384.25,240.81 384.91,240.87 385.57,240.92 386.23,240.97 386.89,241.03 387.56,241.08 388.22,241.13 388.88,241.18 389.54,241.23 390.2,241.28 390.86,241.33 391.52,241.38 392.18,241.43 392.84,241.47 393.5,241.52 394.16,241.56 394.82,241.61 395.48,241.66 396.14,241.7 396.8,241.74 397.46,241.79 398.12,241.83 398.78,241.87 399.44,241.92 400.1,241.96 400.76,242 401.42,242.04 402.09,242.08 402.75,242.12 403.41,242.16 404.07,242.2" fill="none" stroke="#dd2b2b" stroke-width="0.65" stroke-linejoin="round"/>
<polyline points="285.7,259.9 286.75,259.9 287.79,259.9 288.84,259.9 289.89,259.9 289.89,259.9 290.34,251.91 290.79,245.34 291.24,239.96 291.69,235.53 292.14,231.9 292.59,228.92 293.04,226.47 293.49,224.46 293.94,222.81 294.39,221.46 294.84,220.35 295.29,219.43 295.74,218.68 296.19,218.07 296.64,217.56 297.09,217.15 297.54,216.81 297.99,216.53 298.45,216.3 298.9,216.11 299.35,215.96 299.8,215.83 300.25,215.73 300.7,215.64 301.15,215.57 301.6,215.51 302.05,215.47 302.5,215.43 302.95,215.39 303.4,215.37 303.85,215.35 304.3,215.33 304.75,215.31 305.2,215.3 305.65,215.29 306.1,215.28 306.55,215.28 307,215.27 307.45,215.27 307.9,215.26 308.36,215.26 308.81,215.26 309.26,215.26 309.71,215.26 310.16,215.25 310.61,215.25 311.06,215.25 311.51,215.25 311.96,215.25 312.41,215.25 312.86,215.25 313.31,215.25 313.76,215.25 314.21,215.25 314.66,215.25 315.11,215.25 315.56,215.25 316.01,215.25 316.46,215.25 316.91,215.25 317.36,215.25 317.81,215.25 318.27,215.25 318.72,215.25 319.17,215.25 319.62,215.25 320.07,215.25 320.52,215.25 320.97,215.25 321.42,215.25 321.87,215.25 322.32,215.25 322.77,215.25 323.22,215.25 323.67,215.25 324.12,215.25 324.57,215.25 325.02,215.25 325.47,215.25 325.47,215.25 326.13,216.36 326.79,217.43 327.45,218.45 328.11,219.43 328.77,220.38 329.44,221.28 330.1,222.15 330.76,222.99 331.42,223.79 332.08,224.56 332.74,225.3 333.4,226.01 334.06,226.69 334.72,227.34 335.38,227.97 336.04,228.58 336.7,229.16 337.36,229.72 338.02,230.26 338.68,230.77 339.34,231.27 340,231.75 340.66,232.21 341.32,232.65 341.98,233.08 342.64,233.49 343.3,233.88 343.97,234.26 344.63,234.63 345.29,234.98 345.95,235.32 346.61,235.65 347.27,235.96 347.93,236.26 348.59,236.56 349.25,236.84 349.91,237.11 350.57,237.38 351.23,237.63 351.89,237.88 352.55,238.11 353.21,238.34 353.87,238.56 354.53,238.78 355.19,238.98 355.85,239.18 356.51,239.37 357.17,239.56 357.83,239.74 358.5,239.92 359.16,240.09 359.82,240.25 360.48,240.41 361.14,240.57 361.8,240.72 362.46,240.86 363.12,241 363.78,241.14 364.44,241.27 365.1,241.4 365.76,241.53 366.42,241.65 367.08,241.77 367.74,241.89 368.4,242 369.06,242.11 369.72,242.22 370.38,242.32 371.04,242.43 371.7,242.53 372.36,242.62 373.03,242.72 373.69,242.81 374.35,242.9 375.01,242.99 375.67,243.08 376.33,243.16 376.99,243.25 377.65,243.33 378.31,243.41 378.97,243.49 379.63,243.57 380.29,243.64 380.95,243.72 381.61,243.79 382.27,243.86 382.93,243.93 383.59,244 384.25,244.07 384.91,244.14 385.57,244.2 386.23,244.27 386.89,244.33 387.56,244.4 388.22,244.46 388.88,244.52 389.54,244.58 390.2,244.64 390.86,244.7 391.52,244.76 392.18,244.82 392.84,244.87 393.5,244.93 394.16,244.99 394.82,245.04 395.48,245.1 396.14,245.15 396.8,245.2 397.46,245.26 398.12,245.31 398.78,245.36 399.44,245.41 400.1,245.46 400.76,245.52 401.42,245.57 402.09,245.62 402.75,245.67 403.41,245.71 404.07,245.76" fill="none" stroke="#dd2b2b" stroke-width="0.65" stroke-linejoin="round"/>
<polyline points="285.7,259.9 286.75,259.9 287.79,259.9 288.84,259.9 289.89,259.9 289.89,259.9 290.34,252.63 290.79,246.66 291.24,241.75 291.69,237.73 292.14,234.43 292.59,231.71 293.04,229.49 293.49,227.66 293.94,226.16 294.39,224.93 294.84,223.91 295.29,223.08 295.74,222.4 296.19,221.84 296.64,221.38 297.09,221 297.54,220.69 297.99,220.44 298.45,220.23 298.9,220.06 299.35,219.92 299.8,219.8 300.25,219.71 300.7,219.63 301.15,219.57 301.6,219.51 302.05,219.47 302.5,219.44 302.95,219.41 303.4,219.38 303.85,219.36 304.3,219.35 304.75,219.33 305.2,219.32 305.65,219.31 306.1,219.31 306.55,219.3 307,219.3 307.45,219.29 307.9,219.29 308.36,219.29 308.81,219.28 309.26,219.28 309.71,219.28 310.16,219.28 310.61,219.28 311.06,219.28 311.51,219.28 311.96,219.28 312.41,219.28 312.86,219.28 313.31,219.28 313.76,219.28 314.21,219.27 314.66,219.27 315.11,219.27 315.56,219.27 316.01,219.27 316.46,219.27 316.91,219.27 317.36,219.27 317.81,219.27 318.27,219.27 318.72,219.27 319.17,219.27 319.62,219.27 320.07,219.27 320.52,219.27 320.97,219.27 321.42,219.27 321.87,219.27 322.32,219.27 322.77,219.27 323.22,219.27 323.67,219.27 324.12,219.27 324.57,219.27 325.02,219.27 325.47,219.27 325.47,219.27 326.13,220.37 326.79,221.42 327.45,222.43 328.11,223.39 328.77,224.31 329.44,225.19 330.1,226.04 330.76,226.85 331.42,227.63 332.08,228.37 332.74,229.09 333.4,229.78 334.06,230.44 334.72,231.07 335.38,231.68 336.04,232.26 336.7,232.82 337.36,233.36 338.02,233.88 338.68,234.38 339.34,234.86 340,235.33 340.66,235.77 341.32,236.2 341.98,236.62 342.64,237.02 343.3,237.41 343.97,237.78 344.63,238.14 345.29,238.49 345.95,238.83 346.61,239.15 347.27,239.47 347.93,239.77 348.59,240.07 349.25,240.36 349.91,240.64 350.57,240.91 351.23,241.17 351.89,241.43 352.55,241.67 353.21,241.91 353.87,242.15 354.53,242.38 355.19,242.6 355.85,242.82 356.51,243.03 357.17,243.24 357.83,243.44 358.5,243.64 359.16,243.83 359.82,244.02 360.48,244.21 361.14,244.39 361.8,244.57 362.46,244.74 363.12,244.91 363.78,245.08 364.44,245.25 365.1,245.41 365.76,245.57 366.42,245.73 367.08,245.88 367.74,246.03 368.4,246.18 369.06,246.33 369.72,246.48 370.38,246.62 371.04,246.76 371.7,246.9 372.36,247.04 373.03,247.18 373.69,247.31 374.35,247.45 375.01,247.58 375.67,247.71 376.33,247.84 376.99,247.97 377.65,248.1 378.31,248.22 378.97,248.35 379.63,248.47 380.29,248.59 380.95,248.72 381.61,248.84 382.27,248.96 382.93,249.08 383.59,249.2 384.25,249.32 384.91,249.43 385.57,249.55 386.23,249.67 386.89,249.78 387.56,249.9 388.22,250.01 388.88,250.13 389.54,250.24 390.2,250.35 390.86,250.47 391.52,250.58 392.18,250.69 392.84,250.8 393.5,250.91 394.16,251.02 394.82,251.13 395.48,251.24 396.14,251.35 396.8,251.46 397.46,251.57 398.12,251.68 398.78,251.78 399.44,251.89 400.1,252 400.76,252.11 401.42,252.21 402.09,252.32 402.75,252.43 403.41,252.53 404.07,252.64" fill="none" stroke="#dd2b2b" stroke-width="0.65" stroke-linejoin="round"/>
<line x1="291.31" y1="259.9" x2="291.31" y2="177.55" stroke="#151515" stroke-width="0.7"/>
<line x1="325.47" y1="176.45" x2="325.47" y2="205" stroke="#151515" stroke-width="0.6"/>
<line x1="325.85" y1="212.32" x2="325.85" y2="232.45" stroke="#151515" stroke-width="0.6"/>
<line x1="402.54" y1="206.83" x2="402.54" y2="215.25" stroke="#151515" stroke-width="0.6"/>
<line x1="402.54" y1="236.11" x2="402.54" y2="254.41" stroke="#151515" stroke-width="0.6"/>
<text x="457.5" y="157" font-size="16" text-anchor="start" fill="#1a1a1a">F</text>
<line x1="518.5" y1="170.8" x2="518.5" y2="258.5" stroke="#2b2b2b" stroke-width="1.0"/>
<line x1="515.9" y1="258" x2="518.5" y2="258" stroke="#2b2b2b" stroke-width="1.0"/>
<text x="514.9" y="260.31" font-size="6.8" text-anchor="end" fill="#262626" textLength="3.48" lengthAdjust="spacingAndGlyphs">0</text>
<line x1="515.9" y1="240.66" x2="518.5" y2="240.66" stroke="#2b2b2b" stroke-width="1.0"/>
<text x="514.9" y="242.97" font-size="6.8" text-anchor="end" fill="#262626" textLength="6.96" lengthAdjust="spacingAndGlyphs">20</text>
<line x1="515.9" y1="223.32" x2="518.5" y2="223.32" stroke="#2b2b2b" stroke-width="1.0"/>
<text x="514.9" y="225.63" font-size="6.8" text-anchor="end" fill="#262626" textLength="6.96" lengthAdjust="spacingAndGlyphs">40</text>
<line x1="515.9" y1="205.98" x2="518.5" y2="205.98" stroke="#2b2b2b" stroke-width="1.0"/>
<text x="514.9" y="208.29" font-size="6.8" text-anchor="end" fill="#262626" textLength="6.96" lengthAdjust="spacingAndGlyphs">60</text>
<line x1="515.9" y1="188.64" x2="518.5" y2="188.64" stroke="#2b2b2b" stroke-width="1.0"/>
<text x="514.9" y="190.95" font-size="6.8" text-anchor="end" fill="#262626" textLength="6.96" lengthAdjust="spacingAndGlyphs">80</text>
<line x1="515.9" y1="171.3" x2="518.5" y2="171.3" stroke="#2b2b2b" stroke-width="1.0"/>
<text x="514.9" y="173.61" font-size="6.8" text-anchor="end" fill="#262626" textLength="10.44" lengthAdjust="spacingAndGlyphs">100</text>
<line x1="518" y1="258" x2="585.81" y2="258" stroke="#2b2b2b" stroke-width="1.0"/>
<line x1="518.5" y1="258" x2="518.5" y2="260.6" stroke="#2b2b2b" stroke-width="1.0"/>
<text x="518.5" y="268.8" font-size="6.8" text-anchor="middle" fill="#262626" textLength="8.7" lengthAdjust="spacingAndGlyphs">0.1</text>
<line x1="540.77" y1="258" x2="540.77" y2="260.6" stroke="#2b2b2b" stroke-width="1.0"/>
<text x="540.77" y="268.8" font-size="6.8" text-anchor="middle" fill="#262626" textLength="8.7" lengthAdjust="spacingAndGlyphs">0.2</text>
<line x1="563.04" y1="258" x2="563.04" y2="260.6" stroke="#2b2b2b" stroke-width="1.0"/>
<text x="563.04" y="268.8" font-size="6.8" text-anchor="middle" fill="#262626" textLength="8.7" lengthAdjust="spacingAndGlyphs">0.3</text>
<line x1="585.31" y1="258" x2="585.31" y2="260.6" stroke="#2b2b2b" stroke-width="1.0"/>
<text x="585.31" y="268.8" font-size="6.8" text-anchor="middle" fill="#262626" textLength="8.7" lengthAdjust="spacingAndGlyphs">0.4</text>
<text x="550.5" y="280.1" font-size="9.2" text-anchor="middle" fill="#262626" textLength="103.3" lengthAdjust="spacingAndGlyphs">NaCl concentration (M)</text>
<text x="497.3" y="214.2" font-size="10.0" text-anchor="middle" fill="#262626" textLength="105.5" lengthAdjust="spacingAndGlyphs" transform="rotate(-90 497.3 214.2)">Maximum response (%)</text>
<polyline points="528.52,187.77 529.64,192.89 530.76,197.83 531.88,202.5 533,206.83 534.12,210.74 535.24,214.13 536.36,217.1 537.48,219.89 538.59,222.51 539.71,224.97 540.83,227.26 541.95,229.4 543.07,231.38 544.19,233.22 545.31,234.9 546.43,236.45 547.55,237.9 548.67,239.31 549.79,240.66 550.91,241.95 552.02,243.18 553.14,244.32 554.26,245.39 555.38,246.37 556.5,247.25 557.62,248.03 558.74,248.71 559.86,249.29 560.98,249.85 562.1,250.4 563.22,250.92 564.34,251.42 565.46,251.88 566.57,252.29 567.69,252.65 568.81,252.95 569.93,253.18 571.05,253.33 572.17,253.4" fill="none" stroke="#777" stroke-width="0.6" stroke-linejoin="round"/>
<polyline points="529.63,190.37 530.73,194.59 531.82,198.67 532.91,202.56 534,206.21 535.09,209.57 536.18,212.57 537.27,215.28 538.36,217.88 539.45,220.36 540.54,222.72 541.63,224.95 542.72,227.05 543.81,229.02 544.9,230.86 545.99,232.55 547.09,234.1 548.18,235.52 549.27,236.86 550.36,238.13 551.45,239.33 552.54,240.47 553.63,241.56 554.72,242.59 555.81,243.57 556.9,244.51 557.99,245.41 559.08,246.28 560.17,247.12 561.26,247.93 562.35,248.72 563.45,249.49 564.54,250.23 565.63,250.95 566.72,251.63 567.81,252.28 568.9,252.9 569.99,253.48 571.08,254.03 572.17,254.53" fill="none" stroke="#999" stroke-width="0.6" stroke-linejoin="round"/>
<polyline points="528.23,171.3 529.14,171.53 530.04,172.18 530.95,173.17 531.86,174.44 532.76,175.91 533.67,177.52 534.57,179.65 535.48,183.01 536.38,187.19 537.29,191.73 538.2,196.16 539.1,200.02 540.01,203.3 540.91,206.48 541.82,209.52 542.72,212.4 543.63,215.09 544.54,217.55 545.44,219.85 546.35,222.07 547.25,224.17 548.16,226.12 549.07,227.88 549.97,229.43 550.88,230.77 551.78,232.08 552.69,233.39 553.59,234.68 554.5,235.96 555.41,237.21 556.31,238.45 557.22,239.65 558.12,240.82 559.03,241.96 559.93,243.06 560.84,244.11 561.75,245.11 562.65,246.07 563.56,246.96 564.46,247.8 565.37,248.57 566.28,249.27 567.18,249.9 568.09,250.45 568.99,250.93 569.9,251.31 570.8,251.61 571.71,251.82 572.62,251.93" fill="none" stroke="#444" stroke-width="0.75" stroke-linejoin="round"/>
<polyline points="528.23,171.3 533.42,211.36 539.21,223.32 544.56,228 550.35,230 560.81,243.26 572.62,251.5" fill="none" stroke="#333" stroke-width="0.7" stroke-linejoin="round" stroke-dasharray="1 1.2"/>
<polyline points="528.83,171.8 534.47,178.39 539.81,200.93 545.16,218.1 550.95,230.5 573.22,252.43" fill="none" stroke="#555" stroke-width="0.6" stroke-linejoin="round" stroke-dasharray="1 1.2"/>
<circle cx="528.23" cy="171.3" r="2.5" fill="#e4484c" stroke="#4a3030" stroke-width="0.6"/>
<circle cx="533.87" cy="177.89" r="2.5" fill="#e4484c" stroke="#4a3030" stroke-width="0.6"/>
<circle cx="539.21" cy="200.43" r="2.5" fill="#e4484c" stroke="#4a3030" stroke-width="0.6"/>
<circle cx="544.56" cy="217.6" r="2.5" fill="#e4484c" stroke="#4a3030" stroke-width="0.6"/>
<circle cx="550.35" cy="230" r="2.5" fill="#e4484c" stroke="#4a3030" stroke-width="0.6"/>
<circle cx="572.62" cy="251.93" r="2.5" fill="#e4484c" stroke="#4a3030" stroke-width="0.6"/>
<circle cx="528.23" cy="171.3" r="1.5" fill="#2424d8" stroke="none" stroke-width="0"/>
<circle cx="533.42" cy="211.36" r="1.5" fill="#2424d8" stroke="none" stroke-width="0"/>
<circle cx="539.21" cy="223.32" r="1.5" fill="#2424d8" stroke="none" stroke-width="0"/>
<circle cx="544.56" cy="228" r="1.5" fill="#2424d8" stroke="none" stroke-width="0"/>
<circle cx="550.35" cy="230" r="1.5" fill="#2424d8" stroke="none" stroke-width="0"/>
<circle cx="560.81" cy="243.26" r="1.5" fill="#2424d8" stroke="none" stroke-width="0"/>
<circle cx="572.62" cy="251.5" r="1.5" fill="#2424d8" stroke="none" stroke-width="0"/>
<text x="1.4" y="304.2" font-size="17" text-anchor="start" fill="#1a1a1a">G</text>
<line x1="63.2" y1="307.78" x2="63.2" y2="404.7" stroke="#2b2b2b" stroke-width="1.4"/>
<line x1="59.4" y1="404" x2="63.2" y2="404" stroke="#2b2b2b" stroke-width="1.4"/>
<text x="58.4" y="406.32" font-size="8.6" text-anchor="end" fill="#262626">0</text>
<line x1="59.4" y1="372.16" x2="63.2" y2="372.16" stroke="#2b2b2b" stroke-width="1.4"/>
<text x="58.4" y="374.48" font-size="8.6" text-anchor="end" fill="#262626">200</text>
<line x1="59.4" y1="340.32" x2="63.2" y2="340.32" stroke="#2b2b2b" stroke-width="1.4"/>
<text x="58.4" y="342.64" font-size="8.6" text-anchor="end" fill="#262626">400</text>
<line x1="59.4" y1="308.48" x2="63.2" y2="308.48" stroke="#2b2b2b" stroke-width="1.4"/>
<text x="58.4" y="310.8" font-size="8.6" text-anchor="end" fill="#262626">600</text>
<line x1="62.5" y1="404" x2="206.7" y2="404" stroke="#2b2b2b" stroke-width="1.4"/>
<line x1="63.2" y1="404" x2="63.2" y2="407.8" stroke="#2b2b2b" stroke-width="1.4"/>
<text x="63.2" y="416.1" font-size="7.2" text-anchor="middle" fill="#262626">4</text>
<line x1="98.9" y1="404" x2="98.9" y2="407.8" stroke="#2b2b2b" stroke-width="1.4"/>
<text x="98.9" y="416.1" font-size="7.2" text-anchor="middle" fill="#262626">5</text>
<line x1="134.6" y1="404" x2="134.6" y2="407.8" stroke="#2b2b2b" stroke-width="1.4"/>
<text x="134.6" y="416.1" font-size="7.2" text-anchor="middle" fill="#262626">6</text>
<line x1="170.3" y1="404" x2="170.3" y2="407.8" stroke="#2b2b2b" stroke-width="1.4"/>
<text x="170.3" y="416.1" font-size="7.2" text-anchor="middle" fill="#262626">7</text>
<line x1="206" y1="404" x2="206" y2="407.8" stroke="#2b2b2b" stroke-width="1.4"/>
<text x="206" y="416.1" font-size="7.2" text-anchor="middle" fill="#262626">8</text>
<text x="135.2" y="427.2" font-size="11.0" text-anchor="middle" fill="#262626" textLength="163.7" lengthAdjust="spacingAndGlyphs">Concentration of inhibitor (-log M)</text>
<text x="22.9" y="359.6" font-size="10.0" text-anchor="middle" fill="#262626" textLength="60.2" lengthAdjust="spacingAndGlyphs" transform="rotate(-90 22.9 359.6)">Bound AT-02</text>
<text x="36.5" y="358.55" font-size="10.2" text-anchor="middle" fill="#262626" textLength="86.3" lengthAdjust="spacingAndGlyphs" transform="rotate(-90 36.5 358.55)">(fmoles europium)</text>
<polyline points="73.91,323.29 84.62,325.99 95.33,326.47 106.04,325.2 116.75,324.88 127.46,326.95 138.17,328.38 148.88,326.95 159.59,329.18 170.3,326.15 181.01,330.45" fill="none" stroke="#6a6a6a" stroke-width="0.55" stroke-linejoin="round"/>
<polyline points="73.91,332.52 84.62,333.95 95.33,332.04 106.04,332.36 116.75,333.16 127.46,332.68 138.17,333.47 148.88,333 159.59,333.95 170.3,333.32 181.01,333.95" fill="none" stroke="#6a6a6a" stroke-width="0.55" stroke-linejoin="round"/>
<polyline points="73.91,332.04 84.62,334.59 95.33,329.18 106.04,327.9 116.75,329.65 127.46,328.54 138.17,329.65 148.88,328.86 159.59,331.09 170.3,332.36 181.01,332.04" fill="none" stroke="#6a6a6a" stroke-width="0.55" stroke-linejoin="round"/>
<polyline points="73.91,337.14 84.62,337.77 95.33,337.77 106.04,338.09 116.75,338.09 127.46,337.77 138.17,338.73 148.88,338.73 159.59,339.36 170.3,338.73 181.01,338.73" fill="none" stroke="#6a6a6a" stroke-width="0.55" stroke-linejoin="round"/>
<polyline points="73.91,340.16 84.62,339.68 95.33,340 106.04,340.32 116.75,340 127.46,340.32 138.17,340.64 148.88,340.32 159.59,341.12 170.3,340.64 181.01,341.12" fill="none" stroke="#6a6a6a" stroke-width="0.55" stroke-linejoin="round"/>
<polyline points="73.91,339.05 84.62,345.73 95.33,346.21 106.04,344.3 116.75,342.71 127.46,343.5 138.17,341.91 148.88,343.5 159.59,343.82 170.3,342.71 181.01,346.37" fill="none" stroke="#6a6a6a" stroke-width="0.55" stroke-linejoin="round"/>
<line x1="84.62" y1="323.76" x2="84.62" y2="328.22" stroke="#555" stroke-width="0.6"/>
<line x1="82.42" y1="323.76" x2="86.82" y2="323.76" stroke="#555" stroke-width="0.6"/>
<line x1="82.42" y1="328.22" x2="86.82" y2="328.22" stroke="#555" stroke-width="0.6"/>
<line x1="95.33" y1="324.88" x2="95.33" y2="328.06" stroke="#555" stroke-width="0.6"/>
<line x1="93.13" y1="324.88" x2="97.53" y2="324.88" stroke="#555" stroke-width="0.6"/>
<line x1="93.13" y1="328.06" x2="97.53" y2="328.06" stroke="#555" stroke-width="0.6"/>
<line x1="106.04" y1="322.65" x2="106.04" y2="327.74" stroke="#555" stroke-width="0.6"/>
<line x1="103.84" y1="322.65" x2="108.24" y2="322.65" stroke="#555" stroke-width="0.6"/>
<line x1="103.84" y1="327.74" x2="108.24" y2="327.74" stroke="#555" stroke-width="0.6"/>
<line x1="116.75" y1="322.65" x2="116.75" y2="327.11" stroke="#555" stroke-width="0.6"/>
<line x1="114.55" y1="322.65" x2="118.95" y2="322.65" stroke="#555" stroke-width="0.6"/>
<line x1="114.55" y1="327.11" x2="118.95" y2="327.11" stroke="#555" stroke-width="0.6"/>
<line x1="127.46" y1="325.04" x2="127.46" y2="328.86" stroke="#555" stroke-width="0.6"/>
<line x1="125.26" y1="325.04" x2="129.66" y2="325.04" stroke="#555" stroke-width="0.6"/>
<line x1="125.26" y1="328.86" x2="129.66" y2="328.86" stroke="#555" stroke-width="0.6"/>
<line x1="138.17" y1="327.11" x2="138.17" y2="329.65" stroke="#555" stroke-width="0.6"/>
<line x1="135.97" y1="327.11" x2="140.37" y2="327.11" stroke="#555" stroke-width="0.6"/>
<line x1="135.97" y1="329.65" x2="140.37" y2="329.65" stroke="#555" stroke-width="0.6"/>
<line x1="148.88" y1="325.67" x2="148.88" y2="328.22" stroke="#555" stroke-width="0.6"/>
<line x1="146.68" y1="325.67" x2="151.08" y2="325.67" stroke="#555" stroke-width="0.6"/>
<line x1="146.68" y1="328.22" x2="151.08" y2="328.22" stroke="#555" stroke-width="0.6"/>
<line x1="159.59" y1="327.58" x2="159.59" y2="330.77" stroke="#555" stroke-width="0.6"/>
<line x1="157.39" y1="327.58" x2="161.79" y2="327.58" stroke="#555" stroke-width="0.6"/>
<line x1="157.39" y1="330.77" x2="161.79" y2="330.77" stroke="#555" stroke-width="0.6"/>
<line x1="170.3" y1="323.6" x2="170.3" y2="328.7" stroke="#555" stroke-width="0.6"/>
<line x1="168.1" y1="323.6" x2="172.5" y2="323.6" stroke="#555" stroke-width="0.6"/>
<line x1="168.1" y1="328.7" x2="172.5" y2="328.7" stroke="#555" stroke-width="0.6"/>
<line x1="181.01" y1="329.49" x2="181.01" y2="331.4" stroke="#555" stroke-width="0.6"/>
<line x1="178.81" y1="329.49" x2="183.21" y2="329.49" stroke="#555" stroke-width="0.6"/>
<line x1="178.81" y1="331.4" x2="183.21" y2="331.4" stroke="#555" stroke-width="0.6"/>
<line x1="84.62" y1="343.82" x2="84.62" y2="347.64" stroke="#555" stroke-width="0.6"/>
<line x1="82.42" y1="343.82" x2="86.82" y2="343.82" stroke="#555" stroke-width="0.6"/>
<line x1="82.42" y1="347.64" x2="86.82" y2="347.64" stroke="#555" stroke-width="0.6"/>
<line x1="95.33" y1="343.98" x2="95.33" y2="348.44" stroke="#555" stroke-width="0.6"/>
<line x1="93.13" y1="343.98" x2="97.53" y2="343.98" stroke="#555" stroke-width="0.6"/>
<line x1="93.13" y1="348.44" x2="97.53" y2="348.44" stroke="#555" stroke-width="0.6"/>
<line x1="106.04" y1="342.71" x2="106.04" y2="345.89" stroke="#555" stroke-width="0.6"/>
<line x1="103.84" y1="342.71" x2="108.24" y2="342.71" stroke="#555" stroke-width="0.6"/>
<line x1="103.84" y1="345.89" x2="108.24" y2="345.89" stroke="#555" stroke-width="0.6"/>
<line x1="116.75" y1="341.43" x2="116.75" y2="343.98" stroke="#555" stroke-width="0.6"/>
<line x1="114.55" y1="341.43" x2="118.95" y2="341.43" stroke="#555" stroke-width="0.6"/>
<line x1="114.55" y1="343.98" x2="118.95" y2="343.98" stroke="#555" stroke-width="0.6"/>
<line x1="127.46" y1="341.12" x2="127.46" y2="345.89" stroke="#555" stroke-width="0.6"/>
<line x1="125.26" y1="341.12" x2="129.66" y2="341.12" stroke="#555" stroke-width="0.6"/>
<line x1="125.26" y1="345.89" x2="129.66" y2="345.89" stroke="#555" stroke-width="0.6"/>
<line x1="138.17" y1="340.32" x2="138.17" y2="343.5" stroke="#555" stroke-width="0.6"/>
<line x1="135.97" y1="340.32" x2="140.37" y2="340.32" stroke="#555" stroke-width="0.6"/>
<line x1="135.97" y1="343.5" x2="140.37" y2="343.5" stroke="#555" stroke-width="0.6"/>
<line x1="148.88" y1="341.59" x2="148.88" y2="345.41" stroke="#555" stroke-width="0.6"/>
<line x1="146.68" y1="341.59" x2="151.08" y2="341.59" stroke="#555" stroke-width="0.6"/>
<line x1="146.68" y1="345.41" x2="151.08" y2="345.41" stroke="#555" stroke-width="0.6"/>
<line x1="159.59" y1="342.23" x2="159.59" y2="345.41" stroke="#555" stroke-width="0.6"/>
<line x1="157.39" y1="342.23" x2="161.79" y2="342.23" stroke="#555" stroke-width="0.6"/>
<line x1="157.39" y1="345.41" x2="161.79" y2="345.41" stroke="#555" stroke-width="0.6"/>
<line x1="170.3" y1="340.32" x2="170.3" y2="345.1" stroke="#555" stroke-width="0.6"/>
<line x1="168.1" y1="340.32" x2="172.5" y2="340.32" stroke="#555" stroke-width="0.6"/>
<line x1="168.1" y1="345.1" x2="172.5" y2="345.1" stroke="#555" stroke-width="0.6"/>
<line x1="181.01" y1="344.14" x2="181.01" y2="348.6" stroke="#555" stroke-width="0.6"/>
<line x1="178.81" y1="344.14" x2="183.21" y2="344.14" stroke="#555" stroke-width="0.6"/>
<line x1="178.81" y1="348.6" x2="183.21" y2="348.6" stroke="#555" stroke-width="0.6"/>
<line x1="84.62" y1="332.68" x2="84.62" y2="336.5" stroke="#555" stroke-width="0.6"/>
<line x1="82.42" y1="332.68" x2="86.82" y2="332.68" stroke="#555" stroke-width="0.6"/>
<line x1="82.42" y1="336.5" x2="86.82" y2="336.5" stroke="#555" stroke-width="0.6"/>
<line x1="95.33" y1="327.27" x2="95.33" y2="331.09" stroke="#555" stroke-width="0.6"/>
<line x1="93.13" y1="327.27" x2="97.53" y2="327.27" stroke="#555" stroke-width="0.6"/>
<line x1="93.13" y1="331.09" x2="97.53" y2="331.09" stroke="#555" stroke-width="0.6"/>
<line x1="106.04" y1="325.67" x2="106.04" y2="330.13" stroke="#555" stroke-width="0.6"/>
<line x1="103.84" y1="325.67" x2="108.24" y2="325.67" stroke="#555" stroke-width="0.6"/>
<line x1="103.84" y1="330.13" x2="108.24" y2="330.13" stroke="#555" stroke-width="0.6"/>
<line x1="116.75" y1="327.74" x2="116.75" y2="331.56" stroke="#555" stroke-width="0.6"/>
<line x1="114.55" y1="327.74" x2="118.95" y2="327.74" stroke="#555" stroke-width="0.6"/>
<line x1="114.55" y1="331.56" x2="118.95" y2="331.56" stroke="#555" stroke-width="0.6"/>
<line x1="127.46" y1="326.95" x2="127.46" y2="330.13" stroke="#555" stroke-width="0.6"/>
<line x1="125.26" y1="326.95" x2="129.66" y2="326.95" stroke="#555" stroke-width="0.6"/>
<line x1="125.26" y1="330.13" x2="129.66" y2="330.13" stroke="#555" stroke-width="0.6"/>
<line x1="138.17" y1="328.06" x2="138.17" y2="331.25" stroke="#555" stroke-width="0.6"/>
<line x1="135.97" y1="328.06" x2="140.37" y2="328.06" stroke="#555" stroke-width="0.6"/>
<line x1="135.97" y1="331.25" x2="140.37" y2="331.25" stroke="#555" stroke-width="0.6"/>
<line x1="148.88" y1="327.27" x2="148.88" y2="330.45" stroke="#555" stroke-width="0.6"/>
<line x1="146.68" y1="327.27" x2="151.08" y2="327.27" stroke="#555" stroke-width="0.6"/>
<line x1="146.68" y1="330.45" x2="151.08" y2="330.45" stroke="#555" stroke-width="0.6"/>
<line x1="159.59" y1="329.49" x2="159.59" y2="332.68" stroke="#555" stroke-width="0.6"/>
<line x1="157.39" y1="329.49" x2="161.79" y2="329.49" stroke="#555" stroke-width="0.6"/>
<line x1="157.39" y1="332.68" x2="161.79" y2="332.68" stroke="#555" stroke-width="0.6"/>
<line x1="170.3" y1="330.77" x2="170.3" y2="333.95" stroke="#555" stroke-width="0.6"/>
<line x1="168.1" y1="330.77" x2="172.5" y2="330.77" stroke="#555" stroke-width="0.6"/>
<line x1="168.1" y1="333.95" x2="172.5" y2="333.95" stroke="#555" stroke-width="0.6"/>
<line x1="181.01" y1="330.45" x2="181.01" y2="333.63" stroke="#555" stroke-width="0.6"/>
<line x1="178.81" y1="330.45" x2="183.21" y2="330.45" stroke="#555" stroke-width="0.6"/>
<line x1="178.81" y1="333.63" x2="183.21" y2="333.63" stroke="#555" stroke-width="0.6"/>
<circle cx="73.91" cy="323.29" r="2.6" fill="#767676" stroke="#404040" stroke-width="0.6"/>
<circle cx="84.62" cy="325.99" r="2.6" fill="#767676" stroke="#404040" stroke-width="0.6"/>
<circle cx="95.33" cy="326.47" r="2.6" fill="#767676" stroke="#404040" stroke-width="0.6"/>
<circle cx="106.04" cy="325.2" r="2.6" fill="#767676" stroke="#404040" stroke-width="0.6"/>
<circle cx="116.75" cy="324.88" r="2.6" fill="#767676" stroke="#404040" stroke-width="0.6"/>
<circle cx="127.46" cy="326.95" r="2.6" fill="#767676" stroke="#404040" stroke-width="0.6"/>
<circle cx="138.17" cy="328.38" r="2.6" fill="#767676" stroke="#404040" stroke-width="0.6"/>
<circle cx="148.88" cy="326.95" r="2.6" fill="#767676" stroke="#404040" stroke-width="0.6"/>
<circle cx="159.59" cy="329.18" r="2.6" fill="#767676" stroke="#404040" stroke-width="0.6"/>
<circle cx="170.3" cy="326.15" r="2.6" fill="#767676" stroke="#404040" stroke-width="0.6"/>
<circle cx="181.01" cy="330.45" r="2.6" fill="#767676" stroke="#404040" stroke-width="0.6"/>
<rect x="71.51" y="330.12" width="4.8" height="4.8" fill="#dcdcdc" stroke="#444" stroke-width="0.6"/>
<rect x="82.22" y="331.55" width="4.8" height="4.8" fill="#dcdcdc" stroke="#444" stroke-width="0.6"/>
<rect x="92.93" y="329.64" width="4.8" height="4.8" fill="#dcdcdc" stroke="#444" stroke-width="0.6"/>
<rect x="103.64" y="329.96" width="4.8" height="4.8" fill="#dcdcdc" stroke="#444" stroke-width="0.6"/>
<rect x="114.35" y="330.76" width="4.8" height="4.8" fill="#dcdcdc" stroke="#444" stroke-width="0.6"/>
<rect x="125.06" y="330.28" width="4.8" height="4.8" fill="#dcdcdc" stroke="#444" stroke-width="0.6"/>
<rect x="135.77" y="331.07" width="4.8" height="4.8" fill="#dcdcdc" stroke="#444" stroke-width="0.6"/>
<rect x="146.48" y="330.6" width="4.8" height="4.8" fill="#dcdcdc" stroke="#444" stroke-width="0.6"/>
<rect x="157.19" y="331.55" width="4.8" height="4.8" fill="#dcdcdc" stroke="#444" stroke-width="0.6"/>
<rect x="167.9" y="330.92" width="4.8" height="4.8" fill="#dcdcdc" stroke="#444" stroke-width="0.6"/>
<rect x="178.61" y="331.55" width="4.8" height="4.8" fill="#dcdcdc" stroke="#444" stroke-width="0.6"/>
<circle cx="73.91" cy="332.04" r="2.6" fill="#e2e2e2" stroke="#4a4a4a" stroke-width="0.6"/>
<circle cx="84.62" cy="334.59" r="2.6" fill="#e2e2e2" stroke="#4a4a4a" stroke-width="0.6"/>
<circle cx="95.33" cy="329.18" r="2.6" fill="#e2e2e2" stroke="#4a4a4a" stroke-width="0.6"/>
<circle cx="106.04" cy="327.9" r="2.6" fill="#e2e2e2" stroke="#4a4a4a" stroke-width="0.6"/>
<circle cx="116.75" cy="329.65" r="2.6" fill="#e2e2e2" stroke="#4a4a4a" stroke-width="0.6"/>
<circle cx="127.46" cy="328.54" r="2.6" fill="#e2e2e2" stroke="#4a4a4a" stroke-width="0.6"/>
<circle cx="138.17" cy="329.65" r="2.6" fill="#e2e2e2" stroke="#4a4a4a" stroke-width="0.6"/>
<circle cx="148.88" cy="328.86" r="2.6" fill="#e2e2e2" stroke="#4a4a4a" stroke-width="0.6"/>
<circle cx="159.59" cy="331.09" r="2.6" fill="#e2e2e2" stroke="#4a4a4a" stroke-width="0.6"/>
<circle cx="170.3" cy="332.36" r="2.6" fill="#e2e2e2" stroke="#4a4a4a" stroke-width="0.6"/>
<circle cx="181.01" cy="332.04" r="2.6" fill="#e2e2e2" stroke="#4a4a4a" stroke-width="0.6"/>
<rect x="71.51" y="334.74" width="4.8" height="4.8" fill="#555" stroke="#333" stroke-width="0.6"/>
<rect x="82.22" y="335.37" width="4.8" height="4.8" fill="#555" stroke="#333" stroke-width="0.6"/>
<rect x="92.93" y="335.37" width="4.8" height="4.8" fill="#555" stroke="#333" stroke-width="0.6"/>
<rect x="103.64" y="335.69" width="4.8" height="4.8" fill="#555" stroke="#333" stroke-width="0.6"/>
<rect x="114.35" y="335.69" width="4.8" height="4.8" fill="#555" stroke="#333" stroke-width="0.6"/>
<rect x="125.06" y="335.37" width="4.8" height="4.8" fill="#555" stroke="#333" stroke-width="0.6"/>
<rect x="135.77" y="336.33" width="4.8" height="4.8" fill="#555" stroke="#333" stroke-width="0.6"/>
<rect x="146.48" y="336.33" width="4.8" height="4.8" fill="#555" stroke="#333" stroke-width="0.6"/>
<rect x="157.19" y="336.96" width="4.8" height="4.8" fill="#555" stroke="#333" stroke-width="0.6"/>
<rect x="167.9" y="336.33" width="4.8" height="4.8" fill="#555" stroke="#333" stroke-width="0.6"/>
<rect x="178.61" y="336.33" width="4.8" height="4.8" fill="#555" stroke="#333" stroke-width="0.6"/>
<rect x="71.51" y="337.76" width="4.8" height="4.8" fill="#6a6a6a" stroke="#3a3a3a" stroke-width="0.6"/>
<rect x="82.22" y="337.28" width="4.8" height="4.8" fill="#6a6a6a" stroke="#3a3a3a" stroke-width="0.6"/>
<rect x="92.93" y="337.6" width="4.8" height="4.8" fill="#6a6a6a" stroke="#3a3a3a" stroke-width="0.6"/>
<rect x="103.64" y="337.92" width="4.8" height="4.8" fill="#6a6a6a" stroke="#3a3a3a" stroke-width="0.6"/>
<rect x="114.35" y="337.6" width="4.8" height="4.8" fill="#6a6a6a" stroke="#3a3a3a" stroke-width="0.6"/>
<rect x="125.06" y="337.92" width="4.8" height="4.8" fill="#6a6a6a" stroke="#3a3a3a" stroke-width="0.6"/>
<rect x="135.77" y="338.24" width="4.8" height="4.8" fill="#6a6a6a" stroke="#3a3a3a" stroke-width="0.6"/>
<rect x="146.48" y="337.92" width="4.8" height="4.8" fill="#6a6a6a" stroke="#3a3a3a" stroke-width="0.6"/>
<rect x="157.19" y="338.72" width="4.8" height="4.8" fill="#6a6a6a" stroke="#3a3a3a" stroke-width="0.6"/>
<rect x="167.9" y="338.24" width="4.8" height="4.8" fill="#6a6a6a" stroke="#3a3a3a" stroke-width="0.6"/>
<rect x="178.61" y="338.72" width="4.8" height="4.8" fill="#6a6a6a" stroke="#3a3a3a" stroke-width="0.6"/>
<polygon points="73.91,336.25 71.11,341.25 76.71,341.25" fill="#7a7a7a" stroke="#444" stroke-width="0.6"/>
<polygon points="84.62,342.93 81.82,347.93 87.42,347.93" fill="#7a7a7a" stroke="#444" stroke-width="0.6"/>
<polygon points="95.33,343.41 92.53,348.41 98.13,348.41" fill="#7a7a7a" stroke="#444" stroke-width="0.6"/>
<polygon points="106.04,341.5 103.24,346.5 108.84,346.5" fill="#7a7a7a" stroke="#444" stroke-width="0.6"/>
<polygon points="116.75,339.91 113.95,344.91 119.55,344.91" fill="#7a7a7a" stroke="#444" stroke-width="0.6"/>
<polygon points="127.46,340.7 124.66,345.7 130.26,345.7" fill="#7a7a7a" stroke="#444" stroke-width="0.6"/>
<polygon points="138.17,339.11 135.37,344.11 140.97,344.11" fill="#7a7a7a" stroke="#444" stroke-width="0.6"/>
<polygon points="148.88,340.7 146.08,345.7 151.68,345.7" fill="#7a7a7a" stroke="#444" stroke-width="0.6"/>
<polygon points="159.59,341.02 156.79,346.02 162.39,346.02" fill="#7a7a7a" stroke="#444" stroke-width="0.6"/>
<polygon points="170.3,339.91 167.5,344.91 173.1,344.91" fill="#7a7a7a" stroke="#444" stroke-width="0.6"/>
<polygon points="181.01,343.57 178.21,348.57 183.81,348.57" fill="#7a7a7a" stroke="#444" stroke-width="0.6"/>
<text x="215.4" y="304.3" font-size="17" text-anchor="start" fill="#1a1a1a">H</text>
<line x1="271.4" y1="305.7" x2="271.4" y2="404.4" stroke="#2b2b2b" stroke-width="1.4"/>
<line x1="267.6" y1="403.7" x2="271.4" y2="403.7" stroke="#2b2b2b" stroke-width="1.4"/>
<text x="266.6" y="406.37" font-size="8.6" text-anchor="end" fill="#262626">0</text>
<line x1="267.6" y1="379.38" x2="271.4" y2="379.38" stroke="#2b2b2b" stroke-width="1.4"/>
<text x="266.6" y="382.04" font-size="8.6" text-anchor="end" fill="#262626">50</text>
<line x1="267.6" y1="355.05" x2="271.4" y2="355.05" stroke="#2b2b2b" stroke-width="1.4"/>
<text x="266.6" y="357.72" font-size="8.6" text-anchor="end" fill="#262626">100</text>
<line x1="267.6" y1="330.73" x2="271.4" y2="330.73" stroke="#2b2b2b" stroke-width="1.4"/>
<text x="266.6" y="333.39" font-size="8.6" text-anchor="end" fill="#262626">150</text>
<line x1="267.6" y1="306.4" x2="271.4" y2="306.4" stroke="#2b2b2b" stroke-width="1.4"/>
<text x="266.6" y="309.07" font-size="8.6" text-anchor="end" fill="#262626">200</text>
<line x1="270.7" y1="403.7" x2="419.8" y2="403.7" stroke="#2b2b2b" stroke-width="1.4"/>
<line x1="288.1" y1="403.7" x2="288.1" y2="407.5" stroke="#2b2b2b" stroke-width="1.4"/>
<text x="288.1" y="416.1" font-size="8.5" text-anchor="middle" fill="#262626">500</text>
<line x1="326.3" y1="403.7" x2="326.3" y2="407.5" stroke="#2b2b2b" stroke-width="1.4"/>
<text x="326.3" y="416.1" font-size="8.5" text-anchor="middle" fill="#262626">50</text>
<line x1="364.3" y1="403.7" x2="364.3" y2="407.5" stroke="#2b2b2b" stroke-width="1.4"/>
<text x="364.3" y="416.1" font-size="8.5" text-anchor="middle" fill="#262626">5</text>
<line x1="402.5" y1="403.7" x2="402.5" y2="407.5" stroke="#2b2b2b" stroke-width="1.4"/>
<text x="402.5" y="416.1" font-size="8.5" text-anchor="middle" fill="#262626">0.5</text>
<text x="345.4" y="428.5" font-size="9.4" text-anchor="middle" fill="#262626" textLength="105.4" lengthAdjust="spacingAndGlyphs">Concentration AT02 (nM)</text>
<text x="236" y="353.9" font-size="8.8" text-anchor="middle" fill="#262626" textLength="62.4" lengthAdjust="spacingAndGlyphs" transform="rotate(-90 236 353.9)">Bound reagent</text>
<text x="247.7" y="353.4" font-size="8.4" text-anchor="middle" fill="#262626" textLength="76" lengthAdjust="spacingAndGlyphs" transform="rotate(-90 247.7 353.4)">(fmoles europium)</text>
<line x1="281.1" y1="362.06" x2="281.1" y2="366.04" stroke="#555" stroke-width="0.7"/>
<line x1="278.5" y1="362.06" x2="283.7" y2="362.06" stroke="#555" stroke-width="0.7"/>
<line x1="278.5" y1="366.04" x2="283.7" y2="366.04" stroke="#555" stroke-width="0.7"/>
<rect x="276.2" y="366.04" width="9.8" height="37.66" fill="#d6d6d6" stroke="#3a3a3a" stroke-width="0.7"/>
<line x1="295.9" y1="382.39" x2="295.9" y2="384.73" stroke="#555" stroke-width="0.7"/>
<line x1="293.3" y1="382.39" x2="298.5" y2="382.39" stroke="#555" stroke-width="0.7"/>
<line x1="293.3" y1="384.73" x2="298.5" y2="384.73" stroke="#555" stroke-width="0.7"/>
<rect x="291" y="384.73" width="9.8" height="18.97" fill="#555" stroke="#3a3a3a" stroke-width="0.7"/>
<line x1="319" y1="401.27" x2="319" y2="401.75" stroke="#555" stroke-width="0.7"/>
<line x1="316.4" y1="401.27" x2="321.6" y2="401.27" stroke="#555" stroke-width="0.7"/>
<line x1="316.4" y1="401.75" x2="321.6" y2="401.75" stroke="#555" stroke-width="0.7"/>
<rect x="314.1" y="401.75" width="9.8" height="1.95" fill="#d6d6d6" stroke="#3a3a3a" stroke-width="0.7"/>
<line x1="333.5" y1="401.75" x2="333.5" y2="402.24" stroke="#555" stroke-width="0.7"/>
<line x1="330.9" y1="401.75" x2="336.1" y2="401.75" stroke="#555" stroke-width="0.7"/>
<line x1="330.9" y1="402.24" x2="336.1" y2="402.24" stroke="#555" stroke-width="0.7"/>
<rect x="328.6" y="402.24" width="9.8" height="1.46" fill="#555" stroke="#3a3a3a" stroke-width="0.7"/>
<line x1="270.8" y1="403.7" x2="419.1" y2="403.7" stroke="#2b2b2b" stroke-width="1.2"/>
<text x="424.8" y="304.3" font-size="16" text-anchor="start" fill="#1a1a1a">I</text>
<line x1="469.8" y1="307.4" x2="469.8" y2="405.2" stroke="#2b2b2b" stroke-width="1.4"/>
<line x1="466" y1="404.5" x2="469.8" y2="404.5" stroke="#2b2b2b" stroke-width="1.4"/>
<text x="465" y="406.99" font-size="8.6" text-anchor="end" fill="#262626">0</text>
<line x1="466" y1="380.4" x2="469.8" y2="380.4" stroke="#2b2b2b" stroke-width="1.4"/>
<text x="465" y="382.89" font-size="8.6" text-anchor="end" fill="#262626">50</text>
<line x1="466" y1="356.3" x2="469.8" y2="356.3" stroke="#2b2b2b" stroke-width="1.4"/>
<text x="465" y="358.79" font-size="8.6" text-anchor="end" fill="#262626">100</text>
<line x1="466" y1="332.2" x2="469.8" y2="332.2" stroke="#2b2b2b" stroke-width="1.4"/>
<text x="465" y="334.69" font-size="8.6" text-anchor="end" fill="#262626">150</text>
<line x1="466" y1="308.1" x2="469.8" y2="308.1" stroke="#2b2b2b" stroke-width="1.4"/>
<text x="465" y="310.59" font-size="8.6" text-anchor="end" fill="#262626">200</text>
<line x1="484.5" y1="327.86" x2="484.5" y2="336.06" stroke="#555" stroke-width="0.8"/>
<line x1="481.1" y1="327.86" x2="487.9" y2="327.86" stroke="#555" stroke-width="0.8"/>
<line x1="481.1" y1="336.06" x2="487.9" y2="336.06" stroke="#555" stroke-width="0.8"/>
<rect x="477" y="336.06" width="15.1" height="68.44" fill="#595959" stroke="#333" stroke-width="0.6"/>
<line x1="469.1" y1="404.5" x2="499.7" y2="404.5" stroke="#2b2b2b" stroke-width="1.4"/>
<line x1="484.3" y1="404.5" x2="484.3" y2="408.3" stroke="#2b2b2b" stroke-width="1.4"/>
<text x="484.3" y="416.7" font-size="8.4" text-anchor="middle" fill="#262626">100</text>
<text x="483.8" y="426.9" font-size="9.4" text-anchor="middle" fill="#262626" textLength="57.8" lengthAdjust="spacingAndGlyphs">Concentration</text>
<text x="484.1" y="435.6" font-size="9.4" text-anchor="middle" fill="#262626" textLength="58.4" lengthAdjust="spacingAndGlyphs">Anti-TTR (nM)</text>
<text x="434.9" y="356.5" font-size="8.8" text-anchor="middle" fill="#262626" textLength="61" lengthAdjust="spacingAndGlyphs" transform="rotate(-90 434.9 356.5)">Bound reagent</text>
<text x="446.4" y="355" font-size="8.6" text-anchor="middle" fill="#262626" textLength="76" lengthAdjust="spacingAndGlyphs" transform="rotate(-90 446.4 355)">(fmoles europium)</text>
<text x="514.9" y="304.3" font-size="16.5" text-anchor="start" fill="#1a1a1a">J</text>
<line x1="571.6" y1="307.75" x2="571.6" y2="417.57" stroke="#2b2b2b" stroke-width="1.4"/>
<line x1="567.4" y1="308.45" x2="571.6" y2="308.45" stroke="#2b2b2b" stroke-width="1.4"/>
<text x="566.4" y="311.18" font-size="9.4" text-anchor="end" fill="#262626">500</text>
<line x1="567.4" y1="326.52" x2="571.6" y2="326.52" stroke="#2b2b2b" stroke-width="1.4"/>
<text x="566.4" y="329.25" font-size="9.4" text-anchor="end" fill="#262626">400</text>
<line x1="567.4" y1="344.59" x2="571.6" y2="344.59" stroke="#2b2b2b" stroke-width="1.4"/>
<text x="566.4" y="347.32" font-size="9.4" text-anchor="end" fill="#262626">300</text>
<line x1="567.4" y1="362.66" x2="571.6" y2="362.66" stroke="#2b2b2b" stroke-width="1.4"/>
<text x="566.4" y="365.39" font-size="9.4" text-anchor="end" fill="#262626">200</text>
<line x1="567.4" y1="380.73" x2="571.6" y2="380.73" stroke="#2b2b2b" stroke-width="1.4"/>
<text x="566.4" y="383.46" font-size="9.4" text-anchor="end" fill="#262626">100</text>
<line x1="567.4" y1="398.8" x2="571.6" y2="398.8" stroke="#2b2b2b" stroke-width="1.4"/>
<text x="566.4" y="401.53" font-size="9.4" text-anchor="end" fill="#262626">0</text>
<line x1="567.4" y1="416.87" x2="571.6" y2="416.87" stroke="#2b2b2b" stroke-width="1.4"/>
<text x="566.4" y="419.6" font-size="9.4" text-anchor="end" fill="#262626">-100</text>
<line x1="570.9" y1="398.8" x2="680.05" y2="398.8" stroke="#2b2b2b" stroke-width="1.4"/>
<line x1="593.15" y1="398.8" x2="593.15" y2="403.2" stroke="#2b2b2b" stroke-width="1.4"/>
<text x="593.15" y="412.5" font-size="9.0" text-anchor="middle" fill="#262626">6</text>
<line x1="614.7" y1="398.8" x2="614.7" y2="403.2" stroke="#2b2b2b" stroke-width="1.4"/>
<text x="614.7" y="412.5" font-size="9.0" text-anchor="middle" fill="#262626">7</text>
<line x1="636.25" y1="398.8" x2="636.25" y2="403.2" stroke="#2b2b2b" stroke-width="1.4"/>
<text x="636.25" y="412.5" font-size="9.0" text-anchor="middle" fill="#262626">8</text>
<line x1="657.8" y1="398.8" x2="657.8" y2="403.2" stroke="#2b2b2b" stroke-width="1.4"/>
<text x="657.8" y="412.5" font-size="9.0" text-anchor="middle" fill="#262626">9</text>
<line x1="679.35" y1="398.8" x2="679.35" y2="403.2" stroke="#2b2b2b" stroke-width="1.4"/>
<text x="679.35" y="412.5" font-size="9.0" text-anchor="middle" fill="#262626">10</text>
<text x="625.5" y="427.9" font-size="10.4" text-anchor="middle" fill="#262626" textLength="103.3" lengthAdjust="spacingAndGlyphs">Concentration (-log M)</text>
<text x="529.9" y="362.4" font-size="9.7" text-anchor="middle" fill="#333" font-weight="bold" textLength="68.4" lengthAdjust="spacingAndGlyphs" transform="rotate(-90 529.9 362.4)">Bound reagent</text>
<text x="541.9" y="362.8" font-size="9.5" text-anchor="middle" fill="#262626" textLength="84" lengthAdjust="spacingAndGlyphs" transform="rotate(-90 541.9 362.8)">(fmoles europium)</text>
<polyline points="612.55,340.6 613.42,341.76 614.3,343.03 615.17,344.41 616.05,345.9 616.93,347.51 617.8,349.23 618.68,351.06 619.56,352.99 620.43,355 621.31,357.09 622.19,359.24 623.06,361.43 623.94,363.65 624.82,365.86 625.69,368.06 626.57,370.23 627.45,372.34 628.32,374.38 629.2,376.34 630.08,378.2 630.95,379.95 631.83,381.6 632.71,383.13 633.58,384.55 634.46,385.85 635.34,387.05 636.21,388.13 637.09,389.12 637.97,390.01 638.84,390.81 639.72,391.52 640.6,392.17 641.47,392.74 642.35,393.25 643.23,393.7 644.1,394.1 644.98,394.45 645.86,394.77 646.73,395.04 647.61,395.29 648.49,395.5 649.36,395.69 650.24,395.85 651.12,396 651.99,396.13 652.87,396.24 653.75,396.34 654.62,396.42 655.5,396.5 656.38,396.57 657.25,396.62 658.13,396.67 659.01,396.72 659.88,396.76 660.76,396.79 661.64,396.82 662.51,396.85 663.39,396.87 664.27,396.89" fill="none" stroke="#333" stroke-width="0.6" stroke-linejoin="round"/>
<polyline points="599.62,340.07 606.08,336.46 612.55,340.43" fill="none" stroke="#333" stroke-width="0.5" stroke-linejoin="round"/>
<line x1="606.08" y1="331.4" x2="606.08" y2="341.34" stroke="#333" stroke-width="0.7"/>
<line x1="603.28" y1="331.4" x2="608.88" y2="331.4" stroke="#333" stroke-width="0.7"/>
<line x1="603.28" y1="341.34" x2="608.88" y2="341.34" stroke="#333" stroke-width="0.7"/>
<line x1="612.55" y1="335.74" x2="612.55" y2="344.77" stroke="#333" stroke-width="0.7"/>
<line x1="609.75" y1="335.74" x2="615.35" y2="335.74" stroke="#333" stroke-width="0.7"/>
<line x1="609.75" y1="344.77" x2="615.35" y2="344.77" stroke="#333" stroke-width="0.7"/>
<circle cx="593.15" cy="397.54" r="2.7" fill="#d0d0d0" stroke="#8a8a8a" stroke-width="0.6"/>
<circle cx="599.62" cy="397.54" r="2.7" fill="#d0d0d0" stroke="#8a8a8a" stroke-width="0.6"/>
<circle cx="606.08" cy="397.54" r="2.7" fill="#d0d0d0" stroke="#8a8a8a" stroke-width="0.6"/>
<circle cx="612.55" cy="397.54" r="2.7" fill="#d0d0d0" stroke="#8a8a8a" stroke-width="0.6"/>
<circle cx="619.01" cy="397.54" r="2.7" fill="#d0d0d0" stroke="#8a8a8a" stroke-width="0.6"/>
<circle cx="625.48" cy="397.54" r="2.7" fill="#d0d0d0" stroke="#8a8a8a" stroke-width="0.6"/>
<circle cx="631.94" cy="397.54" r="2.7" fill="#d0d0d0" stroke="#8a8a8a" stroke-width="0.6"/>
<circle cx="638.4" cy="397.54" r="2.7" fill="#d0d0d0" stroke="#8a8a8a" stroke-width="0.6"/>
<circle cx="644.87" cy="397.54" r="2.7" fill="#d0d0d0" stroke="#8a8a8a" stroke-width="0.6"/>
<circle cx="651.34" cy="397.54" r="2.7" fill="#d0d0d0" stroke="#8a8a8a" stroke-width="0.6"/>
<circle cx="657.8" cy="397.54" r="2.7" fill="#d0d0d0" stroke="#8a8a8a" stroke-width="0.6"/>
<circle cx="664.27" cy="397.54" r="2.7" fill="#d0d0d0" stroke="#8a8a8a" stroke-width="0.6"/>
<circle cx="599.62" cy="340.07" r="3" fill="#060606" stroke="#000" stroke-width="0.4"/>
<circle cx="606.08" cy="336.46" r="3" fill="#060606" stroke="#000" stroke-width="0.4"/>
<circle cx="612.55" cy="340.43" r="3" fill="#060606" stroke="#000" stroke-width="0.4"/>
<circle cx="619.01" cy="352.36" r="3" fill="#060606" stroke="#000" stroke-width="0.4"/>
<circle cx="625.48" cy="366.45" r="3" fill="#060606" stroke="#000" stroke-width="0.4"/>
<circle cx="631.94" cy="382.9" r="3" fill="#060606" stroke="#000" stroke-width="0.4"/>
<circle cx="638.4" cy="390.31" r="3" fill="#060606" stroke="#000" stroke-width="0.4"/>
<circle cx="644.87" cy="393.74" r="3" fill="#060606" stroke="#000" stroke-width="0.4"/>
<circle cx="651.34" cy="395.55" r="3" fill="#060606" stroke="#000" stroke-width="0.4"/>
<circle cx="657.8" cy="396.99" r="3" fill="#060606" stroke="#000" stroke-width="0.4"/>
<circle cx="664.27" cy="397.35" r="3" fill="#060606" stroke="#000" stroke-width="0.4"/>
</svg></body></html>
